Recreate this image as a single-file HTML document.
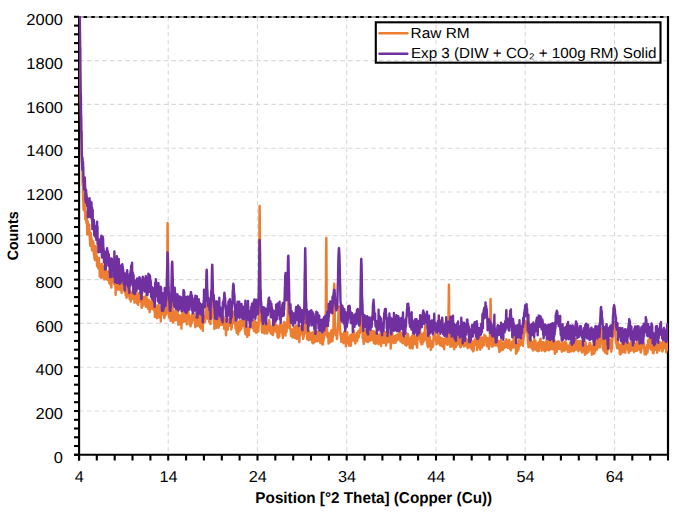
<!DOCTYPE html><html><head><meta charset="utf-8"><style>html,body{margin:0;padding:0;background:#fff;}body{width:685px;height:515px;overflow:hidden;}svg{display:block;}</style></head><body><svg width="685" height="515" viewBox="0 0 685 515">
<defs><clipPath id="pa"><rect x="79" y="16" width="589" height="438.7"/></clipPath></defs>
<g stroke="#d9d9d9" stroke-width="1.1" stroke-dasharray="4.5 3.183"><line x1="80" y1="411.0" x2="668" y2="411.0" stroke-dashoffset="0.8"/><line x1="80" y1="367.2" x2="668" y2="367.2" stroke-dashoffset="0.8"/><line x1="80" y1="323.4" x2="668" y2="323.4" stroke-dashoffset="0.8"/><line x1="80" y1="279.6" x2="668" y2="279.6" stroke-dashoffset="0.8"/><line x1="80" y1="235.8" x2="668" y2="235.8" stroke-dashoffset="0.8"/><line x1="80" y1="192.0" x2="668" y2="192.0" stroke-dashoffset="0.8"/><line x1="80" y1="148.2" x2="668" y2="148.2" stroke-dashoffset="0.8"/><line x1="80" y1="104.4" x2="668" y2="104.4" stroke-dashoffset="0.8"/><line x1="80" y1="60.6" x2="668" y2="60.6" stroke-dashoffset="0.8"/><line x1="168.2" y1="17" x2="168.2" y2="454" stroke-dashoffset="0.3"/><line x1="257.5" y1="17" x2="257.5" y2="454" stroke-dashoffset="0.3"/><line x1="346.7" y1="17" x2="346.7" y2="454" stroke-dashoffset="0.3"/><line x1="436.0" y1="17" x2="436.0" y2="454" stroke-dashoffset="0.3"/><line x1="525.2" y1="17" x2="525.2" y2="454" stroke-dashoffset="0.3"/><line x1="614.5" y1="17" x2="614.5" y2="454" stroke-dashoffset="0.3"/></g>
<line x1="79" y1="17" x2="668" y2="17" stroke="#aaaaaa" stroke-width="2"/>
<line x1="78" y1="17" x2="668" y2="17" stroke="#000" stroke-width="2.1" stroke-dasharray="3.4 4.285" stroke-dashoffset="2.04"/>
<line x1="668" y1="16" x2="668" y2="455" stroke="#000" stroke-width="2.2"/>
<g stroke="#000" stroke-width="2.1"><line x1="79.1" y1="16" x2="79.1" y2="460.5"/><line x1="74" y1="454.7" x2="669" y2="454.7"/><line x1="74" y1="454.8" x2="79" y2="454.8"/><line x1="74" y1="446.0" x2="79" y2="446.0"/><line x1="74" y1="437.3" x2="79" y2="437.3"/><line x1="74" y1="428.5" x2="79" y2="428.5"/><line x1="74" y1="419.8" x2="79" y2="419.8"/><line x1="74" y1="411.0" x2="79" y2="411.0"/><line x1="74" y1="402.2" x2="79" y2="402.2"/><line x1="74" y1="393.5" x2="79" y2="393.5"/><line x1="74" y1="384.7" x2="79" y2="384.7"/><line x1="74" y1="376.0" x2="79" y2="376.0"/><line x1="74" y1="367.2" x2="79" y2="367.2"/><line x1="74" y1="358.4" x2="79" y2="358.4"/><line x1="74" y1="349.7" x2="79" y2="349.7"/><line x1="74" y1="340.9" x2="79" y2="340.9"/><line x1="74" y1="332.2" x2="79" y2="332.2"/><line x1="74" y1="323.4" x2="79" y2="323.4"/><line x1="74" y1="314.6" x2="79" y2="314.6"/><line x1="74" y1="305.9" x2="79" y2="305.9"/><line x1="74" y1="297.1" x2="79" y2="297.1"/><line x1="74" y1="288.4" x2="79" y2="288.4"/><line x1="74" y1="279.6" x2="79" y2="279.6"/><line x1="74" y1="270.8" x2="79" y2="270.8"/><line x1="74" y1="262.1" x2="79" y2="262.1"/><line x1="74" y1="253.3" x2="79" y2="253.3"/><line x1="74" y1="244.6" x2="79" y2="244.6"/><line x1="74" y1="235.8" x2="79" y2="235.8"/><line x1="74" y1="227.0" x2="79" y2="227.0"/><line x1="74" y1="218.3" x2="79" y2="218.3"/><line x1="74" y1="209.5" x2="79" y2="209.5"/><line x1="74" y1="200.8" x2="79" y2="200.8"/><line x1="74" y1="192.0" x2="79" y2="192.0"/><line x1="74" y1="183.2" x2="79" y2="183.2"/><line x1="74" y1="174.5" x2="79" y2="174.5"/><line x1="74" y1="165.7" x2="79" y2="165.7"/><line x1="74" y1="157.0" x2="79" y2="157.0"/><line x1="74" y1="148.2" x2="79" y2="148.2"/><line x1="74" y1="139.4" x2="79" y2="139.4"/><line x1="74" y1="130.7" x2="79" y2="130.7"/><line x1="74" y1="121.9" x2="79" y2="121.9"/><line x1="74" y1="113.2" x2="79" y2="113.2"/><line x1="74" y1="104.4" x2="79" y2="104.4"/><line x1="74" y1="95.6" x2="79" y2="95.6"/><line x1="74" y1="86.9" x2="79" y2="86.9"/><line x1="74" y1="78.1" x2="79" y2="78.1"/><line x1="74" y1="69.4" x2="79" y2="69.4"/><line x1="74" y1="60.6" x2="79" y2="60.6"/><line x1="74" y1="51.8" x2="79" y2="51.8"/><line x1="74" y1="43.1" x2="79" y2="43.1"/><line x1="74" y1="34.3" x2="79" y2="34.3"/><line x1="74" y1="25.6" x2="79" y2="25.6"/><line x1="74" y1="16.8" x2="79" y2="16.8"/><line x1="79.0" y1="454" x2="79.0" y2="460.5"/><line x1="96.8" y1="454" x2="96.8" y2="460.5"/><line x1="114.7" y1="454" x2="114.7" y2="460.5"/><line x1="132.5" y1="454" x2="132.5" y2="460.5"/><line x1="150.4" y1="454" x2="150.4" y2="460.5"/><line x1="168.2" y1="454" x2="168.2" y2="460.5"/><line x1="186.1" y1="454" x2="186.1" y2="460.5"/><line x1="203.9" y1="454" x2="203.9" y2="460.5"/><line x1="221.8" y1="454" x2="221.8" y2="460.5"/><line x1="239.6" y1="454" x2="239.6" y2="460.5"/><line x1="257.5" y1="454" x2="257.5" y2="460.5"/><line x1="275.3" y1="454" x2="275.3" y2="460.5"/><line x1="293.2" y1="454" x2="293.2" y2="460.5"/><line x1="311.0" y1="454" x2="311.0" y2="460.5"/><line x1="328.9" y1="454" x2="328.9" y2="460.5"/><line x1="346.7" y1="454" x2="346.7" y2="460.5"/><line x1="364.6" y1="454" x2="364.6" y2="460.5"/><line x1="382.4" y1="454" x2="382.4" y2="460.5"/><line x1="400.3" y1="454" x2="400.3" y2="460.5"/><line x1="418.1" y1="454" x2="418.1" y2="460.5"/><line x1="436.0" y1="454" x2="436.0" y2="460.5"/><line x1="453.8" y1="454" x2="453.8" y2="460.5"/><line x1="471.7" y1="454" x2="471.7" y2="460.5"/><line x1="489.5" y1="454" x2="489.5" y2="460.5"/><line x1="507.4" y1="454" x2="507.4" y2="460.5"/><line x1="525.2" y1="454" x2="525.2" y2="460.5"/><line x1="543.1" y1="454" x2="543.1" y2="460.5"/><line x1="560.9" y1="454" x2="560.9" y2="460.5"/><line x1="578.8" y1="454" x2="578.8" y2="460.5"/><line x1="596.6" y1="454" x2="596.6" y2="460.5"/><line x1="614.5" y1="454" x2="614.5" y2="460.5"/><line x1="632.3" y1="454" x2="632.3" y2="460.5"/><line x1="650.2" y1="454" x2="650.2" y2="460.5"/><line x1="668.0" y1="454" x2="668.0" y2="460.5"/></g>
<g clip-path="url(#pa)" fill="none" stroke-width="2.40" stroke-linejoin="round">
<path stroke="#ED7D31" d="M79.0,10.0L79.1,10.0L79.2,10.0L79.4,10.0L79.5,10.0L79.6,10.0L79.7,10.0L79.8,10.0L79.9,29.9L80.1,42.9L80.2,58.6L80.3,75.4L80.4,84.8L80.5,84.9L80.6,101.3L80.8,106.8L80.9,115.7L81.0,122.0L81.1,128.5L81.2,134.0L81.3,141.5L81.5,146.4L81.6,151.7L81.7,152.7L81.8,161.8L81.9,159.9L82.0,158.9L82.2,170.5L82.3,169.9L82.4,161.9L82.5,179.5L82.6,185.5L82.7,185.0L82.9,180.8L83.0,183.8L83.1,199.2L83.2,195.6L83.3,200.2L83.4,204.4L83.6,210.0L83.7,199.3L83.8,205.8L83.9,200.9L84.0,201.0L84.1,193.9L84.3,196.1L84.4,204.5L84.5,202.0L84.6,198.6L84.7,208.8L84.8,207.6L85.0,207.7L85.1,216.3L85.2,216.6L85.3,219.4L85.4,212.9L85.5,216.1L85.7,211.1L85.8,214.2L85.9,213.3L86.0,216.5L86.1,214.8L86.2,218.9L86.4,223.0L86.5,216.2L86.6,217.3L86.7,212.9L86.8,221.2L86.9,222.7L87.1,225.8L87.2,234.4L87.3,226.2L87.4,220.6L87.5,225.8L87.7,232.1L87.8,221.9L87.9,226.7L88.0,226.8L88.1,228.0L88.2,227.9L88.4,226.6L88.5,234.4L88.6,229.6L88.7,230.8L88.8,225.5L88.9,233.1L89.1,224.4L89.2,228.0L89.3,224.9L89.4,233.1L89.5,229.1L89.6,232.1L89.8,240.2L89.9,238.2L90.0,240.8L90.1,243.9L90.2,243.8L90.3,245.8L90.5,241.7L90.6,238.0L90.7,240.5L90.8,242.2L90.9,233.2L91.0,237.8L91.2,236.8L91.3,238.5L91.4,240.6L91.5,238.2L91.6,243.3L91.7,242.8L91.9,248.8L92.0,250.5L92.1,247.3L92.2,240.5L92.3,246.6L92.4,241.2L92.6,246.1L92.7,246.0L92.8,249.2L92.9,247.2L93.0,241.1L93.1,242.9L93.3,248.7L93.4,248.4L93.5,243.1L93.6,250.1L93.7,246.9L93.8,254.4L94.0,251.2L94.1,250.0L94.2,253.7L94.3,256.8L94.4,257.9L94.5,258.9L94.7,258.6L94.8,254.3L94.9,253.7L95.0,255.4L95.1,260.1L95.3,257.3L95.4,254.5L95.5,255.1L95.6,259.4L95.7,252.7L95.8,246.3L96.0,258.3L96.1,254.5L96.2,250.2L96.3,257.4L96.4,258.2L96.5,257.1L96.7,256.4L96.8,259.9L96.9,256.1L97.0,265.9L97.1,258.8L97.2,260.7L97.4,263.5L97.5,262.7L97.6,264.4L97.7,260.7L97.8,266.3L97.9,264.6L98.1,268.3L98.2,266.7L98.3,263.0L98.4,266.1L98.5,262.9L98.6,263.6L98.8,260.8L98.9,259.3L99.0,257.9L99.1,268.7L99.2,265.7L99.3,264.9L99.5,265.5L99.6,267.0L99.7,276.4L99.8,273.4L99.9,269.3L100.0,267.1L100.2,268.3L100.3,267.7L100.4,267.6L100.5,270.7L100.6,267.9L100.7,266.1L100.9,269.8L101.0,265.4L101.1,278.0L101.2,270.4L101.3,264.1L101.4,266.3L101.6,264.1L101.7,267.6L101.8,271.5L101.9,269.6L102.0,264.0L102.1,275.1L102.3,273.2L102.4,276.0L102.5,272.5L102.6,272.0L102.7,268.7L102.8,273.1L103.0,265.6L103.1,269.4L103.2,273.4L103.3,275.6L103.4,277.6L103.6,272.9L103.7,267.3L103.8,273.8L103.9,276.1L104.0,273.0L104.1,274.3L104.3,275.8L104.4,279.5L104.5,274.7L104.6,270.6L104.7,271.6L104.8,271.9L105.0,273.3L105.1,271.2L105.2,268.3L105.3,270.5L105.4,268.9L105.5,271.1L105.7,267.2L105.8,274.5L105.9,271.0L106.0,271.8L106.1,273.0L106.2,274.2L106.4,278.3L106.5,278.7L106.6,278.0L106.7,277.4L106.8,279.1L106.9,276.6L107.1,277.1L107.2,278.5L107.3,275.4L107.4,279.8L107.5,278.0L107.6,275.2L107.8,275.1L107.9,280.1L108.0,276.8L108.1,278.6L108.2,271.5L108.3,273.2L108.5,274.4L108.6,278.1L108.7,278.2L108.8,275.8L108.9,277.5L109.0,278.1L109.2,275.3L109.3,281.1L109.4,283.4L109.5,280.6L109.6,281.2L109.7,278.1L109.9,280.7L110.0,278.8L110.1,284.3L110.2,273.8L110.3,277.1L110.4,281.1L110.6,278.2L110.7,276.5L110.8,279.0L110.9,283.0L111.0,281.9L111.1,281.5L111.3,287.6L111.4,287.6L111.5,284.3L111.6,278.7L111.7,276.6L111.9,280.2L112.0,275.7L112.1,276.9L112.2,279.8L112.3,281.5L112.4,280.9L112.6,278.5L112.7,274.3L112.8,275.9L112.9,282.1L113.0,281.6L113.1,275.2L113.3,276.8L113.4,280.1L113.5,275.4L113.6,273.8L113.7,276.2L113.8,279.0L114.0,276.1L114.1,281.8L114.2,282.8L114.3,284.1L114.4,276.1L114.5,275.9L114.7,283.0L114.8,281.9L114.9,283.1L115.0,282.4L115.1,282.3L115.2,284.2L115.4,286.8L115.5,288.2L115.6,289.8L115.7,294.7L115.8,287.4L115.9,289.7L116.1,287.1L116.2,287.4L116.3,289.9L116.4,288.3L116.5,285.6L116.6,286.6L116.8,289.9L116.9,289.6L117.0,285.5L117.1,286.2L117.2,285.6L117.3,286.6L117.5,283.7L117.6,285.5L117.7,278.3L117.8,287.1L117.9,287.6L118.0,280.3L118.2,284.7L118.3,286.1L118.4,281.7L118.5,289.3L118.6,281.0L118.7,282.7L118.9,282.8L119.0,287.0L119.1,281.8L119.2,285.4L119.3,286.8L119.5,285.6L119.6,288.8L119.7,286.3L119.8,289.8L119.9,288.3L120.0,283.9L120.2,284.5L120.3,282.9L120.4,287.5L120.5,286.5L120.6,288.8L120.7,286.5L120.9,285.4L121.0,284.8L121.1,286.5L121.2,290.6L121.3,287.6L121.4,291.0L121.6,293.0L121.7,286.2L121.8,285.5L121.9,282.6L122.0,281.6L122.1,287.0L122.3,286.0L122.4,283.7L122.5,283.9L122.6,283.4L122.7,288.7L122.8,285.7L123.0,282.9L123.1,279.1L123.2,288.1L123.3,279.8L123.4,285.5L123.5,289.1L123.7,281.4L123.8,288.7L123.9,289.4L124.0,284.3L124.1,283.7L124.2,286.5L124.4,288.6L124.5,290.3L124.6,285.1L124.7,291.7L124.8,288.9L124.9,281.8L125.1,283.5L125.2,282.6L125.3,285.8L125.4,291.2L125.5,287.4L125.6,295.0L125.8,288.7L125.9,287.9L126.0,295.6L126.1,290.3L126.2,293.3L126.3,293.5L126.5,298.0L126.6,292.0L126.7,288.3L126.8,295.1L126.9,291.2L127.0,291.5L127.2,293.7L127.3,285.6L127.4,288.3L127.5,288.3L127.6,286.1L127.8,291.9L127.9,281.5L128.0,293.2L128.1,296.0L128.2,291.4L128.3,292.2L128.5,295.7L128.6,294.9L128.7,289.3L128.8,290.5L128.9,290.1L129.0,289.1L129.2,294.0L129.3,289.6L129.4,294.3L129.5,293.4L129.6,299.1L129.7,295.0L129.9,296.7L130.0,290.6L130.1,298.0L130.2,293.0L130.3,295.2L130.4,292.1L130.6,295.3L130.7,294.2L130.8,301.5L130.9,298.7L131.0,292.3L131.1,294.5L131.3,294.0L131.4,297.4L131.5,294.8L131.6,298.2L131.7,297.3L131.8,293.5L132.0,293.8L132.1,298.1L132.2,296.8L132.3,296.3L132.4,297.3L132.5,296.9L132.7,298.8L132.8,293.7L132.9,297.5L133.0,296.5L133.1,289.4L133.2,287.0L133.4,286.1L133.5,289.5L133.6,291.4L133.7,287.5L133.8,285.6L133.9,290.5L134.1,293.4L134.2,298.6L134.3,300.4L134.4,292.4L134.5,302.7L134.6,301.2L134.8,300.4L134.9,298.6L135.0,302.2L135.1,296.2L135.2,295.4L135.3,296.3L135.5,297.9L135.6,296.8L135.7,300.8L135.8,293.3L135.9,296.4L136.1,298.9L136.2,295.6L136.3,294.8L136.4,296.1L136.5,296.3L136.6,295.5L136.8,300.8L136.9,299.0L137.0,298.7L137.1,303.4L137.2,296.1L137.3,300.1L137.5,298.4L137.6,298.0L137.7,300.7L137.8,295.5L137.9,294.5L138.0,296.3L138.2,304.9L138.3,293.1L138.4,297.7L138.5,299.4L138.6,299.4L138.7,300.8L138.9,298.9L139.0,296.4L139.1,301.6L139.2,298.3L139.3,300.9L139.4,300.2L139.6,300.4L139.7,298.2L139.8,295.8L139.9,298.2L140.0,295.3L140.1,293.3L140.3,301.5L140.4,295.5L140.5,299.0L140.6,299.2L140.7,296.5L140.8,300.4L141.0,302.1L141.1,297.5L141.2,298.9L141.3,301.5L141.4,295.3L141.5,306.2L141.7,307.9L141.8,303.8L141.9,306.3L142.0,302.0L142.1,304.6L142.2,304.4L142.4,302.3L142.5,303.9L142.6,306.2L142.7,302.4L142.8,298.4L142.9,300.0L143.1,298.7L143.2,297.2L143.3,300.0L143.4,302.8L143.5,304.6L143.6,300.8L143.8,297.2L143.9,297.3L144.0,298.3L144.1,302.9L144.2,298.8L144.4,298.2L144.5,296.6L144.6,303.5L144.7,302.0L144.8,300.1L144.9,300.6L145.1,303.2L145.2,300.7L145.3,303.2L145.4,299.4L145.5,303.6L145.6,301.2L145.8,306.9L145.9,299.6L146.0,301.2L146.1,296.6L146.2,298.4L146.3,294.2L146.5,299.1L146.6,302.1L146.7,298.2L146.8,298.4L146.9,303.2L147.0,305.8L147.2,301.3L147.3,301.5L147.4,303.3L147.5,305.9L147.6,306.7L147.7,302.3L147.9,304.5L148.0,308.7L148.1,308.6L148.2,303.2L148.3,302.3L148.4,305.5L148.6,305.3L148.7,300.2L148.8,303.3L148.9,299.9L149.0,305.2L149.1,305.2L149.3,308.0L149.4,304.6L149.5,307.1L149.6,312.2L149.7,308.5L149.8,311.3L150.0,310.9L150.1,306.2L150.2,306.6L150.3,306.7L150.4,307.6L150.5,308.8L150.7,306.7L150.8,305.9L150.9,301.9L151.0,308.7L151.1,308.3L151.2,307.2L151.4,306.0L151.5,303.5L151.6,302.0L151.7,305.0L151.8,298.2L152.0,300.9L152.1,304.6L152.2,305.3L152.3,304.5L152.4,305.1L152.5,303.2L152.7,308.4L152.8,308.0L152.9,308.7L153.0,305.3L153.1,309.4L153.2,303.4L153.4,306.5L153.5,304.4L153.6,302.0L153.7,301.9L153.8,294.8L153.9,305.0L154.1,308.9L154.2,308.0L154.3,303.8L154.4,310.9L154.5,307.0L154.6,311.9L154.8,310.3L154.9,316.9L155.0,309.9L155.1,309.4L155.2,314.8L155.3,308.4L155.5,304.6L155.6,311.7L155.7,314.3L155.8,313.4L155.9,312.6L156.0,309.1L156.2,306.9L156.3,313.0L156.4,312.6L156.5,315.9L156.6,313.7L156.7,311.2L156.9,318.2L157.0,311.1L157.1,310.8L157.2,310.2L157.3,315.2L157.4,317.9L157.6,314.4L157.7,316.3L157.8,317.8L157.9,314.6L158.0,315.6L158.1,305.8L158.3,308.2L158.4,307.0L158.5,311.7L158.6,304.6L158.7,309.0L158.8,305.8L159.0,311.1L159.1,307.3L159.2,314.3L159.3,311.3L159.4,312.5L159.5,316.6L159.7,313.9L159.8,316.5L159.9,316.8L160.0,314.6L160.1,313.7L160.3,318.3L160.4,314.9L160.5,315.9L160.6,316.6L160.7,314.0L160.8,321.5L161.0,313.0L161.1,314.4L161.2,315.3L161.3,313.7L161.4,309.5L161.5,308.2L161.7,308.8L161.8,313.4L161.9,314.2L162.0,310.5L162.1,309.4L162.2,313.3L162.4,309.3L162.5,309.8L162.6,309.7L162.7,312.4L162.8,306.5L162.9,306.9L163.1,305.7L163.2,308.5L163.3,313.2L163.4,309.4L163.5,308.7L163.6,312.0L163.8,315.2L163.9,311.2L164.0,311.5L164.1,317.0L164.2,316.0L164.3,318.2L164.5,313.5L164.6,313.7L164.7,309.1L164.8,315.7L164.9,309.3L165.0,313.1L165.2,311.7L165.3,315.7L165.4,312.4L165.5,314.0L165.6,313.0L165.7,312.2L165.9,311.3L166.0,310.2L166.1,312.3L166.2,314.3L166.3,308.9L166.4,310.8L166.6,311.7L166.7,305.2L166.8,304.9L166.9,298.7L167.0,294.3L167.1,279.2L167.3,260.1L167.4,243.6L167.5,229.0L167.6,223.0L167.6,223.0L167.7,228.7L167.8,243.5L168.0,261.8L168.1,281.4L168.2,294.6L168.3,303.9L168.4,307.7L168.6,310.9L168.7,313.5L168.8,315.7L168.9,315.7L169.0,313.1L169.1,317.4L169.3,314.7L169.4,315.2L169.5,315.3L169.6,310.2L169.7,314.9L169.8,312.2L170.0,310.4L170.1,313.5L170.2,315.2L170.3,318.9L170.4,311.8L170.5,318.9L170.7,321.1L170.8,312.8L170.9,318.2L171.0,316.6L171.1,314.5L171.2,314.5L171.4,315.2L171.5,309.9L171.6,308.2L171.7,306.4L171.8,305.6L171.9,304.4L172.1,303.4L172.2,302.4L172.2,302.1L172.3,303.4L172.4,304.0L172.5,307.1L172.6,307.4L172.8,311.8L172.9,312.9L173.0,315.5L173.1,322.4L173.2,317.2L173.3,319.5L173.5,321.5L173.6,321.3L173.7,319.4L173.8,319.0L173.9,316.7L174.0,316.7L174.2,314.5L174.3,314.5L174.4,317.8L174.5,317.0L174.6,311.4L174.7,311.3L174.9,312.3L175.0,316.1L175.1,315.3L175.2,316.4L175.3,313.5L175.4,318.1L175.6,320.2L175.7,319.2L175.8,316.5L175.9,313.3L176.0,318.7L176.2,314.3L176.3,318.0L176.4,317.6L176.5,318.4L176.6,313.9L176.7,317.1L176.9,313.1L177.0,316.3L177.1,310.2L177.2,313.6L177.3,313.7L177.4,317.0L177.6,311.0L177.7,314.6L177.8,316.6L177.9,318.3L178.0,321.1L178.1,322.5L178.3,321.3L178.4,324.9L178.5,323.4L178.6,317.0L178.7,322.7L178.8,322.4L179.0,318.4L179.1,322.4L179.2,315.2L179.3,318.0L179.4,320.5L179.5,317.5L179.7,318.9L179.8,315.5L179.9,319.0L180.0,316.5L180.1,324.0L180.2,320.6L180.4,318.3L180.5,318.7L180.6,320.0L180.7,318.4L180.8,318.6L180.9,320.9L181.1,320.7L181.2,319.2L181.3,321.4L181.4,328.6L181.5,325.9L181.6,323.2L181.8,319.0L181.9,319.6L182.0,316.8L182.1,314.5L182.2,314.4L182.3,317.1L182.5,311.6L182.6,316.8L182.7,316.5L182.8,314.4L182.9,319.6L183.0,309.8L183.2,308.6L183.3,315.8L183.4,316.9L183.5,321.9L183.6,315.6L183.7,319.3L183.9,321.0L184.0,321.8L184.1,318.6L184.2,318.7L184.3,318.1L184.5,318.9L184.6,321.2L184.7,312.4L184.8,313.6L184.9,317.3L185.0,319.7L185.2,319.5L185.3,315.9L185.4,316.9L185.5,317.7L185.6,315.2L185.7,319.2L185.9,313.5L186.0,316.4L186.1,318.8L186.2,315.8L186.3,316.9L186.4,320.4L186.6,314.6L186.7,324.2L186.8,319.5L186.9,318.9L187.0,321.2L187.1,318.2L187.3,313.8L187.4,319.1L187.5,318.2L187.6,315.6L187.7,313.1L187.8,311.4L188.0,312.8L188.1,317.2L188.2,311.4L188.3,312.5L188.4,311.7L188.5,318.8L188.7,319.0L188.8,316.4L188.9,316.0L189.0,315.2L189.1,318.7L189.2,319.5L189.4,316.7L189.5,324.6L189.6,323.1L189.7,320.8L189.8,319.5L189.9,321.1L190.1,318.0L190.2,321.8L190.3,321.1L190.4,321.1L190.5,323.2L190.6,326.4L190.8,323.0L190.9,321.7L191.0,322.3L191.1,317.2L191.2,319.5L191.3,321.3L191.5,316.9L191.6,319.3L191.7,315.1L191.8,323.3L191.9,320.9L192.0,316.6L192.2,316.3L192.3,317.2L192.4,314.0L192.5,319.1L192.6,320.1L192.8,316.7L192.9,319.5L193.0,317.4L193.1,314.8L193.2,318.3L193.3,318.1L193.5,319.5L193.6,317.2L193.7,316.9L193.8,316.1L193.9,317.3L194.0,314.0L194.2,318.8L194.3,319.0L194.4,320.2L194.5,316.4L194.6,319.8L194.7,321.0L194.9,323.8L195.0,320.8L195.1,318.3L195.2,327.2L195.3,323.2L195.4,322.5L195.6,321.9L195.7,319.4L195.8,320.4L195.9,319.2L196.0,319.3L196.1,317.3L196.3,322.3L196.4,321.6L196.5,323.7L196.6,323.0L196.7,324.3L196.8,326.0L197.0,321.4L197.1,318.7L197.2,322.8L197.3,319.2L197.4,318.0L197.5,322.4L197.7,311.3L197.8,312.3L197.9,313.4L198.0,314.6L198.1,320.4L198.2,325.4L198.4,319.9L198.5,320.0L198.6,321.1L198.7,321.7L198.8,318.2L198.9,319.0L199.1,321.2L199.2,322.5L199.3,315.0L199.4,318.3L199.5,319.7L199.6,323.1L199.8,323.7L199.9,327.0L200.0,321.0L200.1,320.1L200.2,322.1L200.4,322.4L200.5,322.5L200.6,321.6L200.7,328.6L200.8,327.0L200.9,320.9L201.1,321.4L201.2,319.5L201.3,322.0L201.4,314.1L201.5,316.5L201.6,316.4L201.8,317.4L201.9,314.3L202.0,314.3L202.1,315.5L202.2,311.9L202.3,314.3L202.5,319.0L202.6,322.2L202.7,323.3L202.8,322.3L202.9,330.7L203.0,322.5L203.2,323.0L203.3,315.8L203.4,318.9L203.5,319.3L203.6,317.9L203.7,319.2L203.9,319.1L204.0,317.5L204.1,322.5L204.2,317.5L204.3,322.0L204.4,319.8L204.6,320.4L204.7,317.4L204.8,315.8L204.9,316.7L205.0,321.7L205.1,320.7L205.3,319.4L205.4,318.3L205.5,315.2L205.6,315.6L205.7,316.6L205.8,312.4L206.0,313.8L206.1,311.5L206.2,312.7L206.3,310.0L206.4,308.3L206.5,306.7L206.7,306.6L206.7,304.7L206.8,306.7L206.9,306.4L207.0,306.8L207.1,309.0L207.2,311.7L207.4,314.2L207.5,313.5L207.6,317.6L207.7,318.3L207.8,318.7L207.9,314.6L208.1,318.7L208.2,313.9L208.3,312.8L208.4,313.7L208.5,315.7L208.7,314.6L208.8,319.0L208.9,315.8L209.0,312.4L209.1,313.4L209.2,321.7L209.4,318.3L209.5,319.7L209.6,317.3L209.7,319.8L209.8,321.5L209.9,323.5L210.1,321.8L210.2,322.6L210.3,321.8L210.4,321.9L210.5,324.1L210.6,319.3L210.8,318.6L210.9,318.6L211.0,318.1L211.1,315.4L211.2,315.2L211.3,313.2L211.5,313.8L211.6,311.3L211.7,309.5L211.8,307.2L211.9,303.3L212.0,298.5L212.2,296.7L212.2,296.0L212.3,297.8L212.4,297.8L212.5,300.3L212.6,304.1L212.7,307.4L212.9,312.8L213.0,312.4L213.1,311.4L213.2,317.6L213.3,314.8L213.4,318.8L213.6,317.7L213.7,315.8L213.8,320.6L213.9,321.1L214.0,321.5L214.1,323.8L214.3,320.7L214.4,328.9L214.5,324.2L214.6,327.7L214.7,326.1L214.8,321.6L215.0,324.0L215.1,321.2L215.2,316.1L215.3,317.7L215.4,309.2L215.5,319.3L215.7,319.3L215.8,326.3L215.9,320.6L216.0,322.3L216.1,320.4L216.2,322.0L216.4,324.2L216.5,327.9L216.6,320.9L216.7,324.5L216.8,326.6L217.0,320.4L217.1,325.9L217.2,321.6L217.3,324.9L217.4,320.0L217.5,323.5L217.7,311.9L217.8,317.1L217.9,319.8L218.0,321.4L218.1,321.8L218.2,322.1L218.4,324.0L218.5,327.4L218.6,323.7L218.7,327.6L218.8,324.0L218.9,321.7L219.1,325.5L219.2,321.6L219.3,324.1L219.4,316.5L219.5,323.2L219.6,320.4L219.8,319.5L219.9,320.2L220.0,319.4L220.1,320.7L220.2,319.6L220.3,319.7L220.5,318.4L220.6,317.8L220.7,321.7L220.8,318.6L220.9,322.6L221.0,325.1L221.2,323.7L221.3,324.0L221.4,322.5L221.5,321.5L221.6,320.9L221.7,318.4L221.9,319.5L222.0,322.7L222.1,320.5L222.2,322.7L222.3,321.3L222.4,320.8L222.6,324.7L222.7,322.4L222.8,320.4L222.9,322.2L223.0,324.9L223.1,321.4L223.3,322.7L223.4,317.4L223.5,319.4L223.6,319.6L223.7,316.7L223.8,320.4L224.0,323.0L224.1,328.8L224.2,325.8L224.3,326.1L224.4,324.4L224.5,326.5L224.7,321.2L224.8,319.2L224.9,323.2L225.0,326.1L225.1,322.3L225.3,323.5L225.4,320.8L225.5,324.3L225.6,327.2L225.7,330.2L225.8,328.1L226.0,335.2L226.1,332.5L226.2,327.4L226.3,328.4L226.4,326.3L226.5,324.8L226.7,326.0L226.8,322.3L226.9,319.8L227.0,320.0L227.1,324.9L227.2,323.1L227.4,321.8L227.5,324.1L227.6,321.2L227.7,325.3L227.8,329.8L227.9,325.9L228.1,325.6L228.2,324.2L228.3,324.3L228.4,321.0L228.5,322.4L228.6,322.7L228.8,324.0L228.9,323.3L229.0,319.7L229.1,318.8L229.2,323.5L229.3,324.4L229.5,325.7L229.6,324.4L229.7,324.5L229.8,325.4L229.9,321.3L230.0,325.9L230.2,322.2L230.3,321.6L230.4,319.9L230.5,321.6L230.6,323.4L230.7,321.2L230.9,323.8L231.0,322.7L231.1,324.5L231.2,317.3L231.3,329.5L231.4,327.6L231.6,321.9L231.7,325.3L231.8,327.7L231.9,322.9L232.0,319.5L232.1,323.2L232.3,320.9L232.4,323.6L232.5,321.1L232.6,318.7L232.7,317.4L232.9,316.9L233.0,315.5L233.1,314.4L233.2,313.7L233.3,313.1L233.4,311.8L233.4,312.4L233.6,314.0L233.7,313.2L233.8,312.8L233.9,314.9L234.0,316.3L234.1,317.8L234.3,318.3L234.4,320.6L234.5,319.5L234.6,321.6L234.7,321.4L234.8,323.8L235.0,323.7L235.1,322.9L235.2,324.5L235.3,320.3L235.4,324.2L235.5,328.1L235.7,325.5L235.8,325.2L235.9,327.2L236.0,326.0L236.1,326.8L236.2,325.2L236.4,328.9L236.5,330.8L236.6,328.9L236.7,331.9L236.8,332.9L236.9,328.1L237.1,326.3L237.2,326.8L237.3,322.4L237.4,328.9L237.5,329.9L237.6,322.4L237.8,331.8L237.9,326.1L238.0,328.3L238.1,334.4L238.2,325.3L238.3,328.6L238.5,326.9L238.6,327.4L238.7,327.1L238.8,325.5L238.9,321.8L239.0,326.1L239.2,326.6L239.3,323.1L239.4,323.8L239.5,331.3L239.6,323.7L239.7,326.0L239.9,325.8L240.0,329.0L240.1,320.6L240.2,324.4L240.3,327.1L240.4,327.5L240.6,327.5L240.7,327.9L240.8,326.0L240.9,327.1L241.0,329.2L241.2,328.1L241.3,325.4L241.4,328.8L241.5,326.9L241.6,322.8L241.7,324.8L241.9,320.5L242.0,326.4L242.1,324.1L242.2,324.4L242.3,324.2L242.4,319.9L242.6,319.1L242.7,321.6L242.8,322.0L242.9,316.9L243.0,316.9L243.1,325.8L243.3,320.3L243.4,324.9L243.5,323.6L243.6,321.6L243.7,323.4L243.8,319.7L244.0,323.2L244.1,323.7L244.2,324.4L244.3,321.1L244.4,326.3L244.5,326.3L244.7,328.6L244.8,327.8L244.9,331.2L245.0,331.5L245.1,327.8L245.2,330.2L245.4,334.4L245.5,333.4L245.6,331.2L245.7,328.9L245.8,332.1L245.9,326.2L246.1,328.8L246.2,330.5L246.3,332.9L246.4,328.2L246.5,328.7L246.6,333.7L246.8,327.8L246.9,328.4L247.0,328.0L247.1,331.9L247.2,329.5L247.3,337.0L247.5,330.7L247.6,332.6L247.7,331.5L247.8,329.7L247.9,332.2L248.0,330.4L248.2,332.1L248.3,331.6L248.4,332.7L248.5,329.4L248.6,327.5L248.7,333.5L248.9,335.1L249.0,331.2L249.1,328.7L249.2,327.8L249.3,329.9L249.5,325.3L249.6,326.0L249.7,323.6L249.8,322.0L249.9,322.4L250.0,320.1L250.2,322.9L250.3,318.5L250.4,322.9L250.5,327.0L250.6,322.7L250.7,323.8L250.9,325.7L251.0,326.5L251.1,325.3L251.2,323.3L251.3,324.9L251.4,321.6L251.6,324.4L251.7,321.2L251.8,324.8L251.9,321.4L252.0,320.9L252.1,323.9L252.3,321.9L252.4,328.0L252.5,324.3L252.6,325.6L252.7,324.3L252.8,326.9L253.0,325.0L253.1,323.4L253.2,328.2L253.3,326.5L253.4,324.6L253.5,326.6L253.7,326.3L253.8,329.6L253.9,328.0L254.0,331.1L254.1,325.6L254.2,325.8L254.4,324.8L254.5,329.8L254.6,322.1L254.7,320.6L254.8,321.0L254.9,323.4L255.1,321.3L255.2,324.6L255.3,326.4L255.4,325.2L255.5,327.3L255.6,321.6L255.8,332.6L255.9,326.3L256.0,329.3L256.1,328.8L256.2,325.9L256.3,328.2L256.5,325.9L256.6,329.7L256.7,330.5L256.8,330.5L256.9,327.9L257.1,332.5L257.2,330.9L257.3,330.5L257.4,329.2L257.5,330.1L257.6,327.1L257.8,325.0L257.9,322.8L258.0,325.5L258.1,328.6L258.2,323.8L258.3,331.4L258.5,325.1L258.6,327.5L258.7,322.2L258.8,320.0L258.9,312.3L259.0,298.0L259.2,277.5L259.3,257.2L259.4,233.4L259.5,214.3L259.6,206.0L259.6,206.0L259.7,213.2L259.9,232.2L260.0,254.8L260.1,277.3L260.2,296.5L260.3,307.8L260.4,316.8L260.6,317.7L260.7,320.0L260.8,320.6L260.9,319.5L261.0,319.6L261.1,317.2L261.3,322.7L261.4,319.4L261.5,322.4L261.6,320.8L261.7,325.7L261.8,329.9L262.0,328.4L262.1,330.2L262.2,332.6L262.3,331.8L262.4,328.6L262.5,332.4L262.7,329.5L262.8,327.0L262.9,326.9L263.0,327.3L263.1,325.3L263.2,327.9L263.4,329.4L263.5,329.3L263.6,322.8L263.7,321.5L263.8,325.6L263.9,325.3L264.1,331.9L264.2,325.4L264.3,328.4L264.4,333.5L264.5,328.3L264.6,328.2L264.8,327.6L264.9,329.6L265.0,328.1L265.1,330.2L265.2,323.9L265.4,327.5L265.5,323.1L265.6,324.7L265.7,326.8L265.8,323.6L265.9,329.5L266.1,328.2L266.2,330.0L266.3,331.8L266.4,331.8L266.5,330.8L266.6,333.5L266.8,333.5L266.9,332.2L267.0,332.3L267.1,332.6L267.2,328.9L267.3,333.3L267.5,328.9L267.6,329.7L267.7,328.0L267.8,327.0L267.9,327.1L268.0,327.3L268.2,323.7L268.3,328.1L268.4,329.8L268.5,327.5L268.6,325.1L268.7,322.0L268.9,320.6L269.0,324.0L269.1,321.4L269.2,320.0L269.3,325.5L269.4,321.3L269.6,324.8L269.7,326.9L269.8,325.7L269.9,325.4L270.0,331.5L270.1,325.9L270.3,325.2L270.4,327.3L270.5,325.4L270.6,327.3L270.7,329.0L270.8,328.1L271.0,333.5L271.1,328.3L271.2,328.8L271.3,329.8L271.4,329.4L271.5,331.7L271.7,331.7L271.8,334.2L271.9,333.8L272.0,331.4L272.1,327.6L272.2,330.4L272.4,327.6L272.5,329.4L272.6,333.9L272.7,332.9L272.8,334.1L272.9,335.0L273.1,331.1L273.2,330.2L273.3,334.0L273.4,328.7L273.5,328.1L273.7,330.2L273.8,326.6L273.9,328.6L274.0,325.4L274.1,323.8L274.2,329.6L274.4,321.6L274.5,329.5L274.6,325.1L274.7,326.6L274.8,323.3L274.9,327.8L275.1,327.2L275.2,318.7L275.3,322.4L275.4,324.6L275.5,328.6L275.6,326.3L275.8,331.5L275.9,329.8L276.0,327.1L276.1,326.4L276.2,329.3L276.3,326.5L276.5,326.2L276.6,330.7L276.7,327.8L276.8,328.9L276.9,325.7L277.0,332.8L277.2,329.1L277.3,331.0L277.4,325.8L277.5,336.7L277.6,326.9L277.7,331.6L277.9,330.1L278.0,335.4L278.1,335.2L278.2,332.8L278.3,332.0L278.4,337.9L278.6,333.1L278.7,332.2L278.8,331.3L278.9,329.3L279.0,330.6L279.1,332.5L279.3,335.2L279.4,336.3L279.5,331.8L279.6,327.7L279.7,330.1L279.8,326.5L280.0,330.4L280.1,324.2L280.2,326.5L280.3,325.7L280.4,324.8L280.5,325.5L280.7,327.8L280.8,328.4L280.9,329.2L281.0,332.0L281.1,330.7L281.3,329.3L281.4,324.7L281.5,331.1L281.6,327.7L281.7,325.6L281.8,326.8L282.0,331.6L282.1,333.4L282.2,332.8L282.3,332.0L282.4,331.8L282.5,335.3L282.7,335.2L282.8,337.0L282.9,338.1L283.0,332.7L283.1,330.6L283.2,334.2L283.4,334.6L283.5,329.7L283.6,333.6L283.7,332.2L283.8,327.5L283.9,322.5L284.1,327.2L284.2,325.7L284.3,322.0L284.4,329.0L284.5,330.5L284.6,322.3L284.8,326.2L284.9,330.8L285.0,329.6L285.1,329.3L285.2,332.6L285.3,325.7L285.5,335.6L285.6,327.1L285.7,329.5L285.8,329.5L285.9,328.9L286.0,330.9L286.2,329.5L286.3,330.1L286.4,332.2L286.5,327.0L286.6,331.5L286.7,330.3L286.9,323.2L287.0,328.4L287.1,323.2L287.2,322.7L287.3,323.1L287.4,318.4L287.6,318.6L287.7,315.1L287.8,310.3L287.9,306.1L288.0,301.9L288.1,298.5L288.3,299.3L288.3,299.1L288.4,299.4L288.5,301.5L288.6,305.4L288.7,307.8L288.8,314.0L289.0,318.9L289.1,318.2L289.2,321.0L289.3,325.3L289.4,328.2L289.6,326.5L289.7,325.6L289.8,323.8L289.9,323.7L290.0,328.6L290.1,327.9L290.3,328.8L290.4,328.4L290.5,330.0L290.6,330.1L290.7,330.2L290.8,330.3L291.0,336.0L291.1,333.5L291.2,331.4L291.3,332.5L291.4,331.8L291.5,331.3L291.7,331.3L291.8,329.7L291.9,332.1L292.0,335.3L292.1,329.5L292.2,332.1L292.4,337.5L292.5,331.4L292.6,331.6L292.7,336.8L292.8,332.6L292.9,334.0L293.1,333.1L293.2,335.5L293.3,329.8L293.4,336.0L293.5,335.7L293.6,333.5L293.8,331.9L293.9,332.9L294.0,327.8L294.1,334.5L294.2,327.1L294.3,337.4L294.5,333.6L294.6,331.0L294.7,329.6L294.8,335.5L294.9,338.0L295.0,335.2L295.2,334.0L295.3,330.5L295.4,334.2L295.5,329.4L295.6,334.0L295.7,329.8L295.9,325.4L296.0,329.7L296.1,328.5L296.2,330.9L296.3,332.3L296.4,330.4L296.6,330.4L296.7,338.8L296.8,333.3L296.9,325.6L297.0,328.6L297.1,328.9L297.3,330.1L297.4,330.1L297.5,329.9L297.6,337.9L297.7,326.1L297.9,329.6L298.0,332.8L298.1,327.8L298.2,331.9L298.3,328.7L298.4,334.4L298.6,331.7L298.7,338.5L298.8,333.1L298.9,339.7L299.0,336.7L299.1,336.6L299.3,342.3L299.4,338.4L299.5,339.8L299.6,337.8L299.7,334.7L299.8,335.8L300.0,331.2L300.1,334.9L300.2,333.9L300.3,328.0L300.4,331.8L300.5,327.4L300.7,329.8L300.8,327.5L300.9,326.3L301.0,329.3L301.1,329.3L301.2,331.4L301.4,326.0L301.5,330.4L301.6,330.7L301.7,328.8L301.8,329.9L301.9,331.5L302.1,329.4L302.2,330.8L302.3,333.7L302.4,334.1L302.5,330.6L302.6,334.2L302.8,336.3L302.9,335.7L303.0,334.4L303.1,331.3L303.2,338.9L303.3,335.0L303.5,337.3L303.6,335.0L303.7,336.8L303.8,336.7L303.9,336.0L304.0,334.7L304.2,332.0L304.3,327.5L304.4,331.8L304.5,329.3L304.6,326.2L304.7,320.8L304.9,318.1L305.0,315.5L305.1,314.0L305.2,313.4L305.2,313.5L305.3,313.9L305.4,315.7L305.6,319.2L305.7,322.9L305.8,327.2L305.9,327.8L306.0,330.8L306.2,329.8L306.3,333.1L306.4,332.6L306.5,328.0L306.6,330.3L306.7,334.5L306.9,333.4L307.0,335.1L307.1,334.2L307.2,339.0L307.3,333.0L307.4,332.7L307.6,334.0L307.7,333.4L307.8,333.1L307.9,334.3L308.0,331.2L308.1,337.5L308.3,330.5L308.4,339.9L308.5,337.1L308.6,340.2L308.7,339.3L308.8,337.1L309.0,339.5L309.1,333.7L309.2,333.9L309.3,332.4L309.4,331.7L309.5,335.6L309.7,334.5L309.8,335.4L309.9,333.1L310.0,337.1L310.1,339.6L310.2,337.1L310.4,339.1L310.5,335.7L310.6,334.2L310.7,334.7L310.8,338.6L310.9,334.4L311.1,338.7L311.2,337.6L311.3,334.7L311.4,336.8L311.5,333.2L311.6,335.9L311.8,337.5L311.9,335.2L312.0,337.5L312.1,334.3L312.2,342.5L312.3,337.0L312.5,338.8L312.6,336.9L312.7,338.1L312.8,332.4L312.9,336.1L313.0,338.0L313.2,335.6L313.3,343.4L313.4,333.7L313.5,341.6L313.6,335.9L313.8,331.5L313.9,339.2L314.0,338.8L314.1,342.4L314.2,341.8L314.3,336.8L314.5,336.9L314.6,338.1L314.7,335.5L314.8,337.0L314.9,337.7L315.0,336.5L315.2,338.6L315.3,341.8L315.4,337.3L315.5,336.1L315.6,334.5L315.7,336.1L315.9,338.5L316.0,339.9L316.1,338.1L316.2,336.8L316.3,337.3L316.4,337.8L316.6,335.0L316.7,341.0L316.8,333.7L316.9,331.4L317.0,339.4L317.1,335.9L317.3,339.5L317.4,341.4L317.5,338.5L317.6,338.5L317.7,339.9L317.8,334.3L318.0,336.2L318.1,340.9L318.2,332.0L318.3,335.1L318.4,331.3L318.5,337.5L318.7,337.1L318.8,335.7L318.9,333.2L319.0,331.8L319.1,335.1L319.2,325.0L319.4,336.3L319.5,335.9L319.6,331.0L319.7,332.4L319.8,334.0L319.9,337.4L320.1,338.5L320.2,333.8L320.3,343.1L320.4,342.1L320.5,341.3L320.6,341.5L320.8,339.8L320.9,342.2L321.0,341.5L321.1,340.6L321.2,341.7L321.3,339.3L321.5,341.6L321.6,340.0L321.7,337.1L321.8,337.6L321.9,335.2L322.1,337.1L322.2,337.3L322.3,336.7L322.4,344.5L322.5,344.1L322.6,343.3L322.8,338.8L322.9,344.5L323.0,339.1L323.1,340.6L323.2,342.1L323.3,340.4L323.5,339.0L323.6,340.5L323.7,335.0L323.8,336.9L323.9,337.5L324.0,338.4L324.2,335.0L324.3,334.2L324.4,332.6L324.5,328.2L324.6,331.5L324.7,334.0L324.9,333.7L325.0,334.9L325.1,333.9L325.2,334.2L325.3,328.0L325.4,333.7L325.6,322.4L325.7,320.3L325.8,310.1L325.9,292.2L326.0,270.5L326.1,250.1L326.3,238.5L326.3,237.9L326.4,242.4L326.5,259.7L326.6,281.1L326.7,303.9L326.8,319.2L327.0,326.8L327.1,332.0L327.2,334.6L327.3,335.4L327.4,337.2L327.5,336.5L327.7,336.5L327.8,337.0L327.9,334.7L328.0,337.2L328.1,335.4L328.2,337.6L328.4,335.6L328.5,343.6L328.6,333.2L328.7,340.5L328.8,339.5L328.9,340.0L329.1,334.4L329.2,342.4L329.3,339.8L329.4,339.8L329.5,333.7L329.6,336.5L329.8,342.5L329.9,341.3L330.0,340.2L330.1,342.1L330.2,336.1L330.4,338.0L330.5,342.0L330.6,336.7L330.7,336.0L330.8,335.9L330.9,333.1L331.1,331.2L331.2,333.0L331.3,333.7L331.4,331.4L331.5,336.7L331.6,330.3L331.8,336.3L331.9,333.1L332.0,334.5L332.1,333.6L332.2,337.2L332.3,335.7L332.5,341.4L332.6,334.4L332.7,336.4L332.8,334.9L332.9,337.4L333.0,334.3L333.2,333.8L333.3,330.3L333.4,328.3L333.5,321.5L333.6,317.9L333.7,306.6L333.9,300.2L334.0,291.9L334.1,286.3L334.2,283.7L334.2,283.7L334.3,284.8L334.4,289.2L334.6,295.7L334.7,303.2L334.8,310.8L334.9,317.8L335.0,323.1L335.1,326.6L335.3,329.9L335.4,332.4L335.5,333.7L335.6,333.5L335.7,335.4L335.8,331.9L336.0,333.9L336.1,330.9L336.2,335.2L336.3,335.4L336.4,334.4L336.5,333.4L336.7,333.4L336.8,331.4L336.9,339.0L337.0,333.9L337.1,338.4L337.2,336.6L337.4,334.5L337.5,333.3L337.6,329.7L337.7,331.4L337.8,327.1L338.0,326.1L338.1,324.8L338.2,320.4L338.3,318.8L338.4,314.5L338.5,310.4L338.7,308.9L338.8,307.5L338.9,306.8L339.0,306.7L339.0,306.9L339.1,306.4L339.2,308.8L339.4,311.8L339.5,314.4L339.6,315.9L339.7,321.3L339.8,324.5L339.9,324.4L340.1,327.9L340.2,332.9L340.3,331.4L340.4,333.7L340.5,334.9L340.6,335.6L340.8,336.0L340.9,334.9L341.0,333.8L341.1,338.7L341.2,336.3L341.3,341.9L341.5,339.5L341.6,336.7L341.7,338.9L341.8,339.1L341.9,334.0L342.0,335.8L342.2,336.3L342.3,336.0L342.4,341.1L342.5,339.4L342.6,335.1L342.7,338.0L342.9,336.0L343.0,342.0L343.1,340.5L343.2,337.1L343.3,336.6L343.4,343.2L343.6,337.8L343.7,337.9L343.8,338.0L343.9,334.6L344.0,336.7L344.1,332.8L344.3,331.6L344.4,334.1L344.5,332.5L344.6,338.4L344.7,331.8L344.8,333.5L345.0,338.4L345.1,339.3L345.2,336.6L345.3,332.5L345.4,338.5L345.5,342.8L345.7,341.7L345.8,346.4L345.9,342.9L346.0,342.8L346.1,339.8L346.3,336.2L346.4,338.9L346.5,332.5L346.6,336.8L346.7,335.5L346.8,336.3L347.0,338.1L347.1,337.1L347.2,336.7L347.3,332.3L347.4,336.9L347.5,340.9L347.7,337.7L347.8,338.6L347.9,342.6L348.0,339.3L348.1,339.9L348.2,343.4L348.4,337.7L348.5,343.2L348.6,341.8L348.7,338.2L348.8,343.5L348.9,345.8L349.1,340.9L349.2,338.8L349.3,339.0L349.4,340.3L349.5,342.9L349.6,337.4L349.8,338.1L349.9,339.9L350.0,338.8L350.1,343.7L350.2,337.2L350.3,335.2L350.5,336.7L350.6,336.9L350.7,339.2L350.8,339.8L350.9,345.8L351.0,341.6L351.2,339.3L351.3,341.4L351.4,342.1L351.5,338.9L351.6,339.7L351.7,334.4L351.9,338.2L352.0,337.7L352.1,334.3L352.2,340.3L352.3,337.2L352.4,334.1L352.6,339.8L352.7,338.2L352.8,334.1L352.9,333.3L353.0,335.6L353.1,334.4L353.3,333.5L353.4,333.5L353.5,329.8L353.6,332.4L353.7,333.9L353.8,334.5L354.0,331.4L354.1,340.8L354.2,335.7L354.3,334.9L354.4,337.9L354.6,339.4L354.7,336.8L354.8,338.3L354.9,335.1L355.0,342.0L355.1,339.9L355.3,343.6L355.4,338.0L355.5,338.2L355.6,338.6L355.7,337.1L355.8,337.3L356.0,337.5L356.1,338.1L356.2,335.5L356.3,336.0L356.4,337.7L356.5,336.8L356.7,336.1L356.8,333.1L356.9,337.0L357.0,338.0L357.1,341.4L357.2,336.9L357.4,338.2L357.5,337.9L357.6,336.9L357.7,334.7L357.8,338.6L357.9,335.9L358.1,333.8L358.2,331.3L358.3,332.6L358.4,332.1L358.5,334.0L358.6,333.8L358.8,337.1L358.9,336.6L359.0,335.6L359.1,335.5L359.2,333.0L359.3,334.1L359.5,333.6L359.6,333.3L359.7,329.5L359.8,333.2L359.9,330.5L360.0,332.6L360.2,330.6L360.3,330.0L360.4,329.9L360.5,329.3L360.6,325.4L360.7,323.2L360.9,321.1L361.0,318.8L361.1,317.1L361.2,314.5L361.3,315.7L361.3,316.6L361.4,317.5L361.6,317.5L361.7,321.6L361.8,321.8L361.9,325.3L362.0,326.6L362.2,328.7L362.3,328.7L362.4,332.3L362.5,332.6L362.6,335.0L362.7,338.5L362.9,331.9L363.0,338.7L363.1,335.3L363.2,335.4L363.3,337.9L363.4,342.0L363.6,336.8L363.7,344.0L363.8,338.8L363.9,337.8L364.0,343.1L364.1,337.4L364.3,340.1L364.4,335.9L364.5,341.1L364.6,331.5L364.7,333.6L364.8,334.8L365.0,335.7L365.1,331.4L365.2,334.0L365.3,334.4L365.4,336.5L365.5,336.1L365.7,335.3L365.8,336.7L365.9,333.9L366.0,330.0L366.1,333.1L366.2,332.5L366.4,333.3L366.5,328.9L366.6,335.7L366.7,339.0L366.8,341.8L366.9,336.0L367.1,334.2L367.2,332.3L367.3,338.3L367.4,336.1L367.5,331.3L367.6,339.3L367.8,338.3L367.9,337.5L368.0,339.8L368.1,337.7L368.2,342.2L368.3,338.9L368.5,338.3L368.6,334.0L368.7,334.9L368.8,334.6L368.9,338.5L369.0,332.8L369.2,336.2L369.3,332.7L369.4,339.9L369.5,339.3L369.6,338.6L369.7,334.1L369.9,340.6L370.0,338.4L370.1,339.5L370.2,335.9L370.3,338.2L370.5,333.2L370.6,338.9L370.7,330.7L370.8,335.4L370.9,338.2L371.0,333.5L371.2,335.8L371.3,338.1L371.4,333.1L371.5,337.8L371.6,339.6L371.7,335.8L371.9,334.6L372.0,334.7L372.1,340.0L372.2,332.5L372.3,335.8L372.4,334.9L372.6,338.9L372.7,338.1L372.8,337.4L372.9,336.0L373.0,330.9L373.1,335.9L373.3,336.4L373.4,333.6L373.5,333.3L373.6,335.1L373.7,338.5L373.8,341.6L374.0,343.2L374.1,338.5L374.2,339.1L374.3,334.9L374.4,331.7L374.5,337.3L374.7,336.7L374.8,336.4L374.9,341.7L375.0,337.6L375.1,336.1L375.2,332.3L375.4,343.1L375.5,338.1L375.6,336.8L375.7,343.9L375.8,341.8L375.9,337.8L376.1,342.6L376.2,341.4L376.3,339.3L376.4,336.3L376.5,337.8L376.6,339.7L376.8,336.8L376.9,340.9L377.0,342.1L377.1,339.9L377.2,339.7L377.3,338.9L377.5,338.4L377.6,339.8L377.7,342.7L377.8,342.0L377.9,338.1L378.0,335.3L378.2,340.0L378.3,340.1L378.4,338.2L378.5,344.2L378.6,340.1L378.8,343.6L378.9,343.8L379.0,340.5L379.1,342.8L379.2,337.7L379.3,341.5L379.5,339.7L379.6,337.7L379.7,333.9L379.8,337.8L379.9,334.9L380.0,335.0L380.2,334.1L380.3,339.1L380.4,337.5L380.5,336.9L380.6,334.5L380.7,339.4L380.9,337.9L381.0,338.0L381.1,346.1L381.2,337.2L381.3,337.6L381.4,340.1L381.6,339.4L381.7,337.6L381.8,336.6L381.9,336.5L382.0,337.0L382.1,335.0L382.3,332.1L382.4,334.2L382.5,330.4L382.6,329.6L382.7,331.1L382.8,335.3L383.0,335.2L383.1,341.8L383.2,336.4L383.3,337.2L383.4,338.9L383.5,343.0L383.7,335.6L383.8,335.4L383.9,338.8L384.0,336.1L384.1,338.9L384.2,342.7L384.4,337.4L384.5,337.8L384.6,336.8L384.7,335.9L384.8,338.0L384.9,338.9L385.1,332.1L385.2,334.4L385.3,334.0L385.4,338.6L385.5,343.2L385.6,341.4L385.8,335.6L385.9,338.3L386.0,345.5L386.1,342.7L386.2,344.3L386.4,341.1L386.5,336.5L386.6,341.8L386.7,338.5L386.8,339.0L386.9,338.9L387.1,339.7L387.2,338.6L387.3,335.7L387.4,336.5L387.5,336.5L387.6,340.9L387.8,341.2L387.9,339.5L388.0,340.4L388.1,342.3L388.2,341.3L388.3,335.9L388.5,340.1L388.6,338.0L388.7,336.4L388.8,338.3L388.9,332.7L389.0,335.6L389.2,333.6L389.3,336.2L389.4,333.1L389.5,334.8L389.6,333.2L389.7,336.4L389.9,336.7L390.0,336.3L390.1,335.4L390.2,342.0L390.3,340.2L390.4,341.9L390.6,340.0L390.7,348.6L390.8,346.5L390.9,340.3L391.0,340.7L391.1,339.8L391.3,340.6L391.4,339.6L391.5,338.8L391.6,337.1L391.7,341.7L391.8,339.7L392.0,334.3L392.1,333.9L392.2,339.0L392.3,332.7L392.4,336.1L392.5,335.8L392.7,339.0L392.8,340.9L392.9,338.9L393.0,339.2L393.1,341.8L393.2,338.8L393.4,339.0L393.5,343.2L393.6,341.3L393.7,339.9L393.8,341.8L393.9,338.4L394.1,337.3L394.2,342.5L394.3,339.0L394.4,338.0L394.5,336.4L394.7,342.1L394.8,340.8L394.9,337.6L395.0,336.0L395.1,338.4L395.2,341.5L395.4,338.4L395.5,341.3L395.6,342.8L395.7,338.5L395.8,336.1L395.9,335.4L396.1,337.1L396.2,339.4L396.3,340.7L396.4,336.5L396.5,340.7L396.6,337.7L396.8,337.2L396.9,339.4L397.0,337.7L397.1,337.0L397.2,334.7L397.3,337.9L397.5,336.7L397.6,336.1L397.7,339.8L397.8,338.2L397.9,338.3L398.0,336.6L398.2,339.6L398.3,336.9L398.4,336.2L398.5,333.7L398.6,337.3L398.7,333.9L398.9,336.8L399.0,336.1L399.1,339.4L399.2,338.8L399.3,336.0L399.4,338.4L399.6,332.8L399.7,336.2L399.8,330.2L399.9,338.1L400.0,335.2L400.1,335.4L400.3,336.1L400.4,335.5L400.5,341.5L400.6,336.4L400.7,334.2L400.8,337.0L401.0,339.9L401.1,337.4L401.2,336.1L401.3,334.0L401.4,338.0L401.5,334.3L401.7,339.5L401.8,335.9L401.9,337.8L402.0,332.8L402.1,336.6L402.2,335.1L402.4,338.9L402.5,343.1L402.6,338.7L402.7,338.9L402.8,340.9L403.0,339.1L403.1,343.2L403.2,338.8L403.3,339.1L403.4,333.7L403.5,336.7L403.7,336.5L403.8,336.8L403.9,341.9L404.0,340.1L404.1,335.3L404.2,337.4L404.4,342.5L404.5,338.9L404.6,340.9L404.7,339.3L404.8,340.7L404.9,341.5L405.1,344.9L405.2,342.6L405.3,343.8L405.4,342.3L405.5,339.5L405.6,340.8L405.8,340.7L405.9,340.3L406.0,345.0L406.1,342.7L406.2,339.1L406.3,338.0L406.5,345.7L406.6,342.7L406.7,339.4L406.8,333.5L406.9,343.1L407.0,342.1L407.2,341.2L407.3,339.2L407.4,344.1L407.5,341.5L407.6,340.4L407.7,340.3L407.9,339.4L408.0,336.3L408.1,334.2L408.2,335.8L408.3,337.0L408.4,338.3L408.6,340.5L408.7,342.6L408.8,343.3L408.9,338.4L409.0,339.0L409.1,341.4L409.3,342.8L409.4,344.2L409.5,343.8L409.6,346.2L409.7,347.3L409.8,348.1L410.0,344.0L410.1,346.3L410.2,348.2L410.3,344.6L410.4,345.6L410.5,341.5L410.7,339.7L410.8,341.4L410.9,340.3L411.0,337.3L411.1,344.8L411.3,344.4L411.4,341.1L411.5,341.9L411.6,340.2L411.7,338.1L411.8,341.2L412.0,345.9L412.1,335.7L412.2,345.9L412.3,347.1L412.4,341.7L412.5,348.5L412.7,346.9L412.8,343.5L412.9,345.0L413.0,342.4L413.1,339.8L413.2,342.0L413.4,342.8L413.5,339.8L413.6,339.5L413.7,332.3L413.8,340.8L413.9,334.9L414.1,338.6L414.2,337.2L414.3,343.6L414.4,341.9L414.5,342.6L414.6,344.0L414.8,341.4L414.9,336.1L415.0,344.0L415.1,336.8L415.2,340.9L415.3,340.7L415.5,344.3L415.6,340.2L415.7,336.8L415.8,341.3L415.9,339.2L416.0,339.0L416.2,339.8L416.3,341.2L416.4,336.1L416.5,337.5L416.6,341.9L416.7,338.1L416.9,344.0L417.0,342.4L417.1,346.9L417.2,347.7L417.3,343.9L417.4,337.7L417.6,340.7L417.7,337.2L417.8,334.6L417.9,337.0L418.0,339.1L418.1,336.3L418.3,337.5L418.4,334.8L418.5,337.3L418.6,332.4L418.7,332.9L418.9,334.9L419.0,335.0L419.1,333.7L419.2,334.5L419.3,333.3L419.4,330.6L419.6,333.9L419.7,332.8L419.8,332.2L419.9,337.5L420.0,329.5L420.1,334.5L420.3,331.2L420.4,341.0L420.5,342.4L420.6,339.3L420.7,339.2L420.8,337.7L421.0,338.5L421.1,337.2L421.2,340.3L421.3,334.2L421.4,338.2L421.5,344.5L421.7,342.2L421.8,342.2L421.9,340.5L422.0,341.9L422.1,339.7L422.2,337.3L422.4,344.1L422.5,341.7L422.6,335.3L422.7,334.7L422.8,333.8L422.9,337.3L423.1,334.6L423.2,336.7L423.3,342.2L423.4,340.1L423.5,337.0L423.6,338.5L423.8,340.7L423.9,340.5L424.0,336.4L424.1,336.3L424.2,337.8L424.3,332.2L424.3,336.8L424.5,336.4L424.6,334.6L424.7,334.2L424.8,333.5L424.9,337.3L425.0,325.7L425.2,329.5L425.3,329.9L425.4,332.4L425.5,331.9L425.6,331.6L425.7,335.6L425.9,333.4L426.0,335.1L426.1,338.5L426.2,340.3L426.3,337.2L426.4,333.8L426.6,339.3L426.7,338.0L426.8,341.2L426.9,343.3L427.0,338.8L427.2,342.7L427.3,336.8L427.4,343.9L427.5,346.2L427.6,342.0L427.7,341.2L427.9,341.6L428.0,343.9L428.1,347.3L428.2,341.5L428.3,346.2L428.4,337.4L428.6,343.3L428.7,341.5L428.8,340.8L428.9,336.0L429.0,334.2L429.1,337.6L429.3,337.4L429.4,341.0L429.5,336.5L429.6,345.0L429.7,337.1L429.8,339.6L430.0,343.9L430.1,341.1L430.2,342.4L430.3,340.8L430.4,342.2L430.5,346.4L430.7,346.0L430.8,350.1L430.9,344.8L431.0,349.4L431.1,347.3L431.2,348.8L431.4,346.1L431.5,342.9L431.6,345.7L431.7,343.2L431.8,346.1L431.9,341.9L432.1,340.9L432.2,343.2L432.3,344.1L432.4,346.9L432.5,343.5L432.6,342.7L432.8,346.1L432.9,345.2L433.0,345.6L433.1,346.7L433.2,343.0L433.3,345.7L433.5,338.4L433.6,336.2L433.7,337.6L433.8,338.4L433.9,338.7L434.0,337.5L434.2,340.2L434.3,336.0L434.4,336.0L434.5,334.2L434.6,331.1L434.7,334.4L434.9,330.9L435.0,332.9L435.1,337.0L435.2,334.3L435.3,336.6L435.5,336.3L435.6,337.1L435.7,337.9L435.8,339.5L435.9,337.7L436.0,340.0L436.2,341.4L436.3,340.2L436.4,344.5L436.5,340.1L436.6,340.1L436.7,342.8L436.9,339.2L437.0,340.2L437.1,341.5L437.2,340.1L437.3,339.0L437.4,341.8L437.6,339.0L437.7,338.0L437.8,337.8L437.9,339.5L438.0,335.1L438.1,343.2L438.3,339.0L438.4,338.1L438.5,334.4L438.6,341.8L438.7,340.7L438.8,340.5L439.0,338.4L439.1,339.8L439.2,341.0L439.3,336.8L439.4,338.3L439.5,340.4L439.7,342.5L439.8,342.1L439.9,342.3L440.0,337.2L440.1,345.2L440.2,343.9L440.4,343.8L440.5,342.9L440.6,340.5L440.7,345.4L440.8,344.5L440.9,339.0L441.1,341.0L441.2,338.1L441.3,343.6L441.4,345.9L441.5,344.0L441.6,344.2L441.8,340.6L441.9,343.6L442.0,340.7L442.1,338.5L442.2,339.7L442.3,341.1L442.5,341.6L442.6,341.1L442.7,340.9L442.8,345.7L442.9,346.9L443.1,339.8L443.2,346.8L443.3,343.4L443.4,344.3L443.5,338.9L443.6,341.6L443.8,339.6L443.9,340.5L444.0,346.1L444.1,344.6L444.2,349.3L444.3,346.7L444.5,343.2L444.6,343.3L444.7,342.7L444.8,342.9L444.9,343.7L445.0,340.8L445.2,342.0L445.3,342.5L445.4,340.1L445.5,343.5L445.6,337.9L445.7,342.7L445.9,337.9L446.0,341.3L446.1,342.6L446.2,341.7L446.3,339.1L446.4,339.2L446.6,338.4L446.7,338.9L446.8,339.7L446.9,340.4L447.0,340.8L447.1,340.1L447.3,344.9L447.4,340.7L447.5,341.9L447.6,343.0L447.7,344.8L447.8,342.3L448.0,339.6L448.1,341.5L448.2,338.0L448.3,331.5L448.4,323.1L448.5,314.2L448.7,300.6L448.8,290.3L448.9,284.7L448.9,284.6L449.0,288.2L449.1,298.4L449.2,311.7L449.4,322.1L449.5,331.6L449.6,333.1L449.7,339.5L449.8,339.5L449.9,342.4L450.1,340.6L450.2,342.6L450.3,346.8L450.4,343.8L450.5,340.9L450.6,339.5L450.8,344.1L450.9,340.3L451.0,341.3L451.1,341.1L451.2,337.9L451.4,339.2L451.5,346.4L451.6,345.2L451.7,340.7L451.8,340.8L451.9,341.9L452.1,346.6L452.2,343.2L452.3,340.6L452.4,342.7L452.5,342.9L452.6,342.9L452.8,340.0L452.9,338.1L453.0,335.5L453.1,339.5L453.2,338.7L453.3,342.3L453.5,336.0L453.6,340.9L453.7,336.9L453.8,343.2L453.9,342.7L454.0,341.8L454.2,343.2L454.3,349.4L454.4,344.0L454.5,342.6L454.6,336.6L454.7,338.8L454.9,337.9L455.0,339.9L455.1,338.0L455.2,341.6L455.3,345.3L455.4,344.1L455.6,341.4L455.7,343.6L455.8,341.9L455.9,341.6L456.0,337.3L456.1,346.9L456.3,343.7L456.4,340.4L456.5,341.8L456.6,336.5L456.7,339.4L456.8,341.2L457.0,343.1L457.1,341.2L457.2,341.6L457.3,344.6L457.4,343.0L457.5,339.5L457.7,340.2L457.8,341.1L457.9,337.4L458.0,343.8L458.1,342.3L458.2,339.5L458.4,338.5L458.5,343.2L458.6,340.8L458.7,342.4L458.8,344.0L458.9,341.5L459.1,343.3L459.2,339.3L459.3,340.6L459.4,342.0L459.5,338.4L459.7,337.4L459.8,341.9L459.9,343.7L460.0,341.4L460.1,339.7L460.2,346.5L460.4,347.3L460.5,340.8L460.6,344.9L460.7,344.3L460.8,345.6L460.9,346.8L461.1,344.3L461.2,345.2L461.3,341.9L461.4,344.3L461.5,343.2L461.6,343.8L461.8,345.3L461.9,343.3L462.0,339.4L462.1,342.8L462.2,340.5L462.3,342.0L462.5,341.6L462.6,337.3L462.7,343.3L462.8,342.3L462.9,341.9L463.0,336.8L463.2,338.8L463.3,344.3L463.4,343.6L463.5,343.0L463.6,344.0L463.7,345.3L463.9,342.1L464.0,346.5L464.1,343.2L464.2,343.7L464.3,343.3L464.4,346.4L464.6,343.4L464.7,337.3L464.8,338.9L464.9,343.4L465.0,339.5L465.1,344.6L465.3,339.0L465.4,342.9L465.5,337.5L465.6,338.5L465.7,339.7L465.8,344.3L466.0,341.6L466.1,344.1L466.2,342.9L466.3,343.5L466.4,341.9L466.5,339.8L466.7,339.4L466.8,346.3L466.9,343.9L467.0,344.9L467.1,340.7L467.3,346.8L467.4,344.3L467.5,346.5L467.6,345.4L467.7,348.1L467.8,347.9L468.0,343.7L468.1,341.9L468.2,343.7L468.3,343.5L468.4,343.3L468.5,342.6L468.7,340.0L468.8,344.6L468.9,340.1L469.0,346.5L469.1,343.0L469.2,345.2L469.4,342.3L469.5,337.3L469.6,344.7L469.7,340.1L469.8,346.2L469.9,342.1L470.1,337.6L470.2,342.5L470.3,347.2L470.4,344.5L470.5,342.8L470.6,345.7L470.8,339.4L470.9,341.7L471.0,345.6L471.1,342.3L471.2,343.5L471.3,348.3L471.5,340.3L471.6,341.8L471.7,349.3L471.8,341.8L471.9,345.3L472.0,343.6L472.2,345.6L472.3,348.3L472.4,345.1L472.5,341.9L472.6,350.3L472.7,346.7L472.9,348.8L473.0,346.3L473.1,351.4L473.2,347.3L473.3,349.4L473.4,347.1L473.6,348.6L473.7,350.7L473.8,348.0L473.9,346.4L474.0,346.1L474.1,342.0L474.3,345.8L474.4,343.6L474.5,341.8L474.6,339.8L474.7,344.3L474.8,343.7L475.0,342.9L475.1,344.4L475.2,344.7L475.3,339.6L475.4,340.2L475.6,338.5L475.7,337.6L475.8,342.3L475.9,340.7L476.0,341.8L476.1,340.6L476.3,337.3L476.4,344.6L476.5,339.3L476.6,345.4L476.7,343.5L476.8,340.9L477.0,343.7L477.1,350.1L477.2,346.7L477.3,343.4L477.4,348.9L477.5,348.0L477.7,343.6L477.8,346.1L477.9,345.4L478.0,342.1L478.1,338.8L478.2,340.6L478.4,338.7L478.5,340.7L478.6,341.1L478.7,340.4L478.8,344.4L478.9,344.3L479.1,345.0L479.2,345.7L479.3,347.3L479.4,345.3L479.5,344.7L479.6,340.7L479.8,344.2L479.9,340.2L480.0,343.4L480.1,337.9L480.2,344.8L480.3,349.8L480.5,340.8L480.6,340.8L480.7,340.3L480.8,337.2L480.9,337.6L481.0,341.4L481.2,342.6L481.3,340.8L481.4,343.8L481.5,344.6L481.6,345.6L481.7,342.9L481.9,343.3L482.0,345.9L482.1,343.8L482.2,347.4L482.3,345.4L482.4,342.4L482.6,344.7L482.7,338.8L482.8,341.6L482.9,340.0L483.0,337.5L483.1,342.2L483.3,337.3L483.4,339.1L483.5,342.5L483.6,339.6L483.7,338.0L483.9,345.2L484.0,339.6L484.1,345.3L484.2,341.6L484.3,339.8L484.4,334.8L484.6,337.4L484.7,337.2L484.8,336.0L484.9,335.6L485.0,337.7L485.1,337.3L485.2,337.0L485.3,339.1L485.4,335.9L485.5,337.5L485.6,336.9L485.7,336.9L485.8,341.2L486.0,340.3L486.1,338.6L486.2,340.1L486.3,340.0L486.4,340.1L486.5,340.3L486.7,338.5L486.8,346.1L486.9,340.2L487.0,344.7L487.1,338.3L487.2,341.1L487.4,339.2L487.5,339.4L487.6,340.0L487.7,341.5L487.8,340.1L487.9,338.3L488.1,343.2L488.2,343.8L488.3,345.1L488.4,344.5L488.5,346.3L488.6,343.9L488.8,348.9L488.9,348.4L489.0,343.8L489.1,342.6L489.2,342.7L489.3,339.0L489.5,339.9L489.6,342.8L489.7,341.9L489.8,338.3L489.9,335.7L490.0,330.3L490.2,325.2L490.3,316.7L490.4,307.2L490.5,300.2L490.6,298.9L490.6,299.4L490.7,305.1L490.9,314.5L491.0,324.0L491.1,330.2L491.2,333.4L491.3,341.0L491.4,344.6L491.6,346.0L491.7,341.0L491.8,346.6L491.9,341.6L492.0,338.8L492.2,346.3L492.3,340.9L492.4,339.8L492.5,340.9L492.6,341.3L492.7,346.5L492.9,341.5L493.0,344.6L493.1,342.5L493.2,340.1L493.3,338.3L493.4,339.0L493.6,337.0L493.7,342.4L493.8,338.4L493.9,340.0L494.0,341.5L494.1,341.2L494.3,338.6L494.4,337.4L494.5,342.7L494.6,335.3L494.7,340.5L494.8,338.3L495.0,338.3L495.1,340.5L495.2,345.6L495.3,342.6L495.4,340.8L495.5,343.1L495.7,340.8L495.8,341.8L495.9,340.5L496.0,339.5L496.1,336.0L496.2,339.8L496.4,338.3L496.5,342.2L496.6,340.5L496.7,345.2L496.8,340.9L496.9,340.7L497.1,345.6L497.2,341.4L497.3,342.3L497.4,341.2L497.5,342.5L497.6,343.6L497.8,345.3L497.9,342.5L498.0,340.7L498.1,343.6L498.2,342.8L498.3,346.4L498.5,342.0L498.6,341.1L498.7,341.1L498.8,348.4L498.9,344.7L499.0,349.0L499.2,344.1L499.3,350.6L499.4,352.1L499.5,346.4L499.6,350.7L499.8,348.6L499.9,351.4L500.0,341.7L500.1,348.9L500.2,346.8L500.3,346.5L500.5,344.1L500.6,347.4L500.7,345.0L500.8,344.0L500.9,339.9L501.0,341.1L501.2,347.2L501.3,345.2L501.4,346.7L501.5,350.2L501.6,348.0L501.7,346.0L501.9,346.5L502.0,345.4L502.1,342.6L502.2,342.9L502.3,343.6L502.4,346.0L502.6,344.9L502.7,342.5L502.8,344.2L502.9,349.8L503.0,345.7L503.1,347.3L503.3,348.0L503.4,344.4L503.5,345.9L503.6,346.2L503.7,343.6L503.8,345.6L504.0,343.6L504.1,346.8L504.2,342.5L504.3,348.1L504.4,344.4L504.5,347.6L504.7,342.4L504.8,342.9L504.9,345.4L505.0,343.2L505.1,341.7L505.2,345.6L505.4,344.4L505.5,341.6L505.6,347.0L505.7,346.8L505.8,340.8L505.9,341.6L506.1,344.5L506.2,342.2L506.3,339.3L506.4,340.6L506.5,345.1L506.6,340.2L506.8,342.6L506.9,345.0L507.0,342.5L507.1,342.9L507.2,345.6L507.3,347.2L507.5,342.7L507.6,341.7L507.7,344.2L507.8,348.0L507.9,346.8L508.1,340.7L508.2,347.3L508.3,345.6L508.4,344.4L508.5,345.4L508.6,341.9L508.8,341.6L508.9,344.3L509.0,341.9L509.1,342.2L509.2,340.0L509.3,339.9L509.5,347.8L509.6,345.9L509.7,344.3L509.8,342.6L509.9,346.8L510.0,348.9L510.2,342.8L510.3,346.8L510.4,346.8L510.5,346.6L510.6,346.8L510.7,343.1L510.9,350.4L511.0,343.1L511.1,343.0L511.2,345.3L511.3,344.5L511.4,348.2L511.6,344.3L511.7,344.7L511.8,346.6L511.9,344.0L512.0,343.3L512.1,341.8L512.3,343.8L512.4,345.8L512.5,344.8L512.6,347.4L512.7,344.1L512.8,345.3L513.0,345.1L513.1,342.7L513.2,343.9L513.3,346.2L513.4,347.6L513.5,344.8L513.7,333.8L513.8,343.7L513.9,342.3L514.0,343.8L514.1,340.3L514.2,341.7L514.4,339.8L514.5,341.7L514.6,342.8L514.7,336.5L514.8,340.4L514.9,340.5L515.1,341.1L515.2,343.5L515.3,344.6L515.4,341.6L515.5,345.9L515.6,347.2L515.8,347.9L515.9,347.2L516.0,353.8L516.1,348.0L516.2,349.7L516.4,344.5L516.5,347.5L516.6,352.7L516.7,344.0L516.8,348.5L516.9,351.3L517.1,346.9L517.2,350.6L517.3,344.6L517.4,351.4L517.5,349.3L517.6,347.0L517.8,345.0L517.9,343.7L518.0,347.8L518.1,349.1L518.2,348.6L518.3,344.9L518.5,343.2L518.6,349.6L518.7,343.3L518.8,340.5L518.9,342.9L519.0,344.0L519.2,341.7L519.3,340.9L519.4,343.1L519.5,346.1L519.6,341.9L519.7,337.7L519.9,341.0L520.0,341.4L520.1,345.5L520.2,343.7L520.3,340.5L520.4,340.0L520.6,340.5L520.7,344.5L520.8,339.9L520.9,337.3L521.0,332.3L521.1,338.6L521.3,340.0L521.4,338.4L521.5,343.5L521.6,344.4L521.7,343.8L521.8,344.2L522.0,343.7L522.1,343.1L522.2,343.5L522.3,344.6L522.4,343.3L522.5,341.0L522.7,342.6L522.8,343.0L522.9,340.4L523.0,345.7L523.1,338.7L523.2,339.6L523.4,340.1L523.5,339.2L523.6,338.5L523.7,335.6L523.8,337.2L524.0,334.5L524.1,334.5L524.2,334.0L524.3,332.4L524.4,332.9L524.5,328.4L524.7,329.6L524.8,329.1L524.9,328.8L525.0,326.6L525.1,325.4L525.2,324.2L525.4,323.1L525.5,321.1L525.6,321.5L525.7,322.3L525.7,321.9L525.8,323.0L525.9,322.9L526.1,324.0L526.2,324.0L526.3,324.9L526.4,324.6L526.5,328.1L526.6,327.3L526.8,329.5L526.9,329.8L527.0,332.1L527.1,329.7L527.2,332.5L527.3,332.8L527.5,332.2L527.6,336.0L527.7,337.8L527.8,338.3L527.9,341.4L528.0,344.2L528.2,342.1L528.3,343.8L528.4,347.2L528.5,343.5L528.6,346.4L528.7,347.0L528.9,344.4L529.0,343.3L529.1,344.1L529.2,343.9L529.3,341.1L529.4,340.7L529.6,342.3L529.7,346.4L529.8,342.6L529.9,347.0L530.0,345.1L530.1,341.8L530.3,340.4L530.4,339.4L530.5,342.1L530.6,340.2L530.7,340.5L530.8,346.3L531.0,345.4L531.1,343.9L531.2,347.1L531.3,344.7L531.4,346.7L531.5,347.7L531.7,345.6L531.8,342.2L531.9,348.6L532.0,345.9L532.1,344.7L532.3,342.3L532.4,344.0L532.5,347.3L532.6,342.6L532.7,343.4L532.8,343.3L533.0,343.1L533.1,344.3L533.2,350.5L533.3,348.0L533.4,345.0L533.5,343.1L533.7,341.8L533.8,340.9L533.9,344.1L534.0,341.5L534.1,343.0L534.2,341.7L534.4,339.1L534.5,345.4L534.6,342.3L534.7,345.2L534.8,344.5L534.9,345.7L535.1,344.0L535.2,343.0L535.3,349.0L535.4,340.5L535.5,342.1L535.6,341.6L535.8,345.4L535.9,345.5L536.0,349.2L536.1,347.2L536.2,350.0L536.3,344.5L536.5,348.1L536.6,345.2L536.7,346.9L536.8,344.2L536.9,345.4L537.0,349.5L537.2,350.7L537.3,346.9L537.4,346.1L537.5,348.5L537.6,343.4L537.7,343.2L537.9,344.1L538.0,344.5L538.1,345.6L538.2,348.5L538.3,345.8L538.4,351.3L538.6,346.7L538.7,344.9L538.8,350.9L538.9,341.9L539.0,348.5L539.1,343.6L539.3,346.7L539.4,345.6L539.5,347.2L539.6,344.9L539.7,344.3L539.8,344.6L540.0,339.7L540.1,339.9L540.2,340.2L540.3,343.5L540.4,339.9L540.6,338.8L540.7,340.2L540.8,340.8L540.9,343.0L541.0,343.4L541.1,347.8L541.3,344.9L541.4,348.2L541.5,350.8L541.6,348.4L541.7,348.7L541.8,347.9L542.0,350.4L542.1,346.7L542.2,343.0L542.3,343.6L542.4,343.6L542.5,343.1L542.7,344.7L542.8,342.2L542.9,348.1L543.0,345.9L543.1,346.7L543.2,348.8L543.4,342.2L543.5,344.8L543.6,344.3L543.7,344.8L543.8,346.8L543.9,344.6L544.1,348.6L544.2,347.0L544.3,349.0L544.4,350.9L544.5,347.5L544.6,344.1L544.8,344.8L544.9,343.3L545.0,348.2L545.1,343.0L545.2,351.4L545.3,346.8L545.5,346.4L545.6,345.7L545.7,345.4L545.8,346.4L545.9,346.3L546.0,343.8L546.2,345.2L546.3,348.7L546.4,340.2L546.5,347.0L546.6,344.2L546.7,347.8L546.9,349.7L547.0,349.1L547.1,349.3L547.2,349.4L547.3,347.9L547.4,347.8L547.6,344.4L547.7,344.0L547.8,343.5L547.9,347.6L548.0,343.8L548.2,341.3L548.3,348.5L548.4,346.1L548.5,343.7L548.6,346.9L548.7,343.6L548.9,346.6L549.0,350.2L549.1,338.7L549.2,340.9L549.3,345.8L549.4,342.6L549.6,342.7L549.7,345.7L549.8,348.9L549.9,343.2L550.0,343.4L550.1,347.9L550.3,349.2L550.4,342.7L550.5,345.0L550.6,346.7L550.7,343.5L550.8,345.3L551.0,348.0L551.1,344.6L551.2,339.0L551.3,346.2L551.4,342.5L551.5,344.9L551.7,343.6L551.8,344.1L551.9,343.4L552.0,343.2L552.1,346.7L552.2,342.9L552.4,345.7L552.5,349.4L552.6,339.8L552.7,346.0L552.8,348.7L552.9,345.7L553.1,346.4L553.2,343.9L553.3,344.1L553.4,345.9L553.5,345.6L553.6,344.0L553.8,343.0L553.9,342.2L554.0,341.4L554.1,344.3L554.2,340.0L554.3,339.9L554.5,340.9L554.6,345.9L554.7,345.8L554.8,353.3L554.9,353.9L555.0,349.3L555.2,349.0L555.3,350.5L555.4,349.8L555.5,348.6L555.6,352.1L555.7,348.8L555.9,348.3L556.0,351.8L556.1,347.7L556.2,350.5L556.3,348.2L556.5,347.7L556.6,347.2L556.7,351.7L556.8,342.1L556.9,348.6L557.0,344.3L557.2,345.0L557.3,344.3L557.4,346.4L557.5,344.7L557.6,344.1L557.7,342.8L557.9,341.4L558.0,343.3L558.1,344.6L558.2,342.2L558.3,342.4L558.4,341.5L558.6,345.4L558.7,342.6L558.8,348.9L558.9,342.4L559.0,344.9L559.1,342.3L559.3,344.6L559.4,342.9L559.5,342.0L559.6,347.9L559.7,348.2L559.8,343.2L560.0,344.5L560.1,348.0L560.2,347.6L560.3,347.7L560.4,344.7L560.5,348.6L560.7,349.0L560.8,346.7L560.9,347.8L561.0,344.7L561.1,345.2L561.2,349.0L561.4,345.3L561.5,345.4L561.6,348.1L561.7,349.9L561.8,351.7L561.9,348.0L562.1,345.8L562.2,346.4L562.3,348.0L562.4,342.2L562.5,351.1L562.6,345.9L562.8,348.5L562.9,345.0L563.0,346.8L563.1,345.5L563.2,342.9L563.3,347.7L563.5,346.2L563.6,347.6L563.7,344.7L563.8,344.3L563.9,344.0L564.0,349.5L564.2,349.8L564.3,346.5L564.4,347.5L564.5,350.8L564.6,348.6L564.8,348.5L564.9,350.1L565.0,341.8L565.1,350.1L565.2,345.0L565.3,346.7L565.5,345.8L565.6,347.4L565.7,345.5L565.8,344.7L565.9,345.0L566.0,342.9L566.2,342.7L566.3,344.6L566.4,343.7L566.5,346.3L566.6,347.9L566.7,348.2L566.9,349.2L567.0,348.7L567.1,348.9L567.2,347.4L567.3,349.3L567.4,346.0L567.6,346.8L567.7,349.2L567.8,351.9L567.9,349.0L568.0,348.5L568.1,347.3L568.3,347.1L568.4,347.7L568.5,348.0L568.6,347.6L568.7,345.5L568.8,349.8L569.0,351.2L569.1,346.2L569.2,348.8L569.3,352.1L569.4,349.7L569.5,350.3L569.7,345.2L569.8,349.6L569.9,348.0L570.0,348.1L570.1,348.6L570.2,342.4L570.4,349.4L570.5,342.8L570.6,345.3L570.7,342.1L570.8,345.6L570.9,342.5L571.1,342.5L571.2,342.3L571.3,344.7L571.4,344.7L571.5,344.5L571.6,351.3L571.8,341.9L571.9,347.2L572.0,347.8L572.1,346.7L572.2,346.1L572.3,347.3L572.5,349.0L572.6,347.9L572.7,343.4L572.8,345.5L572.9,346.4L573.1,347.4L573.2,347.9L573.3,346.9L573.4,345.4L573.5,346.6L573.6,350.2L573.8,349.1L573.9,351.4L574.0,346.8L574.1,345.0L574.2,345.5L574.3,342.6L574.5,347.6L574.6,342.7L574.7,349.8L574.8,346.7L574.9,348.3L575.0,346.9L575.2,345.2L575.3,347.8L575.4,349.9L575.5,346.6L575.6,344.9L575.7,344.9L575.9,338.6L576.0,343.4L576.1,344.6L576.2,341.6L576.3,343.1L576.4,345.2L576.6,345.8L576.7,343.6L576.8,344.1L576.9,343.2L577.0,343.8L577.1,347.8L577.3,343.4L577.4,349.4L577.5,349.2L577.6,349.6L577.7,346.6L577.8,341.1L578.0,346.1L578.1,346.1L578.2,347.2L578.3,343.6L578.4,351.2L578.5,345.8L578.7,344.9L578.8,342.6L578.9,346.0L579.0,346.6L579.1,346.7L579.2,349.5L579.4,345.7L579.5,344.2L579.6,342.5L579.7,341.1L579.8,346.0L579.9,345.5L580.1,342.8L580.2,347.7L580.3,341.2L580.4,350.0L580.5,347.4L580.7,349.1L580.8,345.4L580.9,348.5L581.0,346.0L581.1,347.1L581.2,347.6L581.4,346.1L581.5,344.3L581.6,346.4L581.7,348.6L581.8,351.7L581.9,350.6L582.1,352.6L582.2,345.8L582.3,350.0L582.4,345.3L582.5,343.0L582.6,340.5L582.8,342.5L582.9,346.9L583.0,345.0L583.1,346.3L583.2,349.2L583.3,351.4L583.5,344.4L583.6,348.1L583.7,346.2L583.8,346.8L583.9,349.0L584.0,349.2L584.2,346.8L584.3,347.1L584.4,348.0L584.5,350.9L584.6,350.3L584.7,351.9L584.9,354.9L585.0,347.7L585.1,351.9L585.2,349.1L585.3,349.9L585.4,345.9L585.6,342.5L585.7,343.7L585.8,348.4L585.9,345.4L586.0,353.0L586.1,350.3L586.3,352.3L586.4,351.0L586.5,348.7L586.6,353.5L586.7,346.3L586.8,346.9L587.0,347.9L587.1,349.6L587.2,347.6L587.3,346.7L587.4,349.7L587.5,352.6L587.7,349.3L587.8,347.9L587.9,352.3L588.0,346.6L588.1,349.1L588.2,349.5L588.4,346.3L588.5,351.1L588.6,351.8L588.7,348.3L588.8,350.8L589.0,345.8L589.1,348.8L589.2,347.3L589.3,344.1L589.4,346.6L589.5,347.3L589.7,342.8L589.8,348.8L589.9,347.1L590.0,343.2L590.1,345.2L590.2,343.2L590.4,347.5L590.5,345.6L590.6,348.4L590.7,345.1L590.8,346.9L590.9,346.8L591.1,348.3L591.2,349.6L591.3,349.6L591.4,350.8L591.5,349.0L591.6,351.7L591.8,350.6L591.9,354.7L592.0,349.6L592.1,350.5L592.2,351.0L592.3,351.1L592.5,349.6L592.6,351.3L592.7,350.8L592.8,345.6L592.9,354.1L593.0,346.8L593.2,350.6L593.3,347.0L593.4,350.3L593.5,348.1L593.6,342.8L593.7,349.3L593.9,348.9L594.0,346.9L594.1,348.6L594.2,350.2L594.3,353.6L594.4,350.3L594.6,350.1L594.7,346.8L594.8,347.2L594.9,351.7L595.0,347.2L595.1,345.5L595.3,345.5L595.4,346.9L595.5,343.0L595.6,350.4L595.7,350.1L595.8,341.3L596.0,344.7L596.1,342.5L596.2,344.0L596.3,343.1L596.4,337.2L596.5,339.1L596.7,340.3L596.8,344.4L596.9,344.3L597.0,349.6L597.1,348.0L597.3,344.9L597.4,344.3L597.5,345.1L597.6,343.7L597.7,341.5L597.8,344.1L598.0,347.1L598.1,343.8L598.2,344.6L598.3,342.1L598.4,343.2L598.5,345.3L598.7,342.9L598.8,339.3L598.9,337.8L599.0,340.2L599.1,345.4L599.2,344.4L599.4,344.3L599.5,347.0L599.6,344.8L599.7,346.1L599.8,347.5L599.9,342.4L600.1,341.6L600.2,336.5L600.3,336.7L600.4,336.6L600.5,335.0L600.6,333.2L600.8,329.3L600.9,329.2L601.0,329.4L601.1,329.2L601.1,328.3L601.2,329.8L601.3,331.4L601.5,331.4L601.6,333.1L601.7,334.6L601.8,336.2L601.9,338.1L602.0,338.9L602.2,341.1L602.3,339.2L602.4,344.6L602.5,341.2L602.6,344.1L602.7,348.2L602.9,344.5L603.0,347.6L603.1,346.2L603.2,343.5L603.3,349.6L603.4,349.8L603.6,350.6L603.7,349.7L603.8,346.8L603.9,340.7L604.0,339.3L604.1,344.1L604.3,339.5L604.4,341.3L604.5,347.2L604.6,349.1L604.7,349.1L604.9,351.5L605.0,352.4L605.1,348.3L605.2,348.9L605.3,352.6L605.4,349.1L605.6,346.7L605.7,339.6L605.8,343.0L605.9,343.9L606.0,345.2L606.1,344.2L606.3,347.5L606.4,349.8L606.5,343.4L606.6,353.2L606.7,350.0L606.8,344.3L607.0,347.2L607.1,345.6L607.2,353.9L607.3,344.3L607.4,345.7L607.5,350.6L607.7,340.6L607.8,341.6L607.9,347.5L608.0,345.8L608.1,344.6L608.2,349.1L608.4,346.7L608.5,343.2L608.6,345.4L608.7,345.5L608.8,344.9L608.9,344.7L609.1,344.8L609.2,348.1L609.3,340.2L609.4,343.7L609.5,343.7L609.6,345.1L609.8,345.3L609.9,340.6L610.0,344.7L610.1,344.6L610.2,343.2L610.3,339.5L610.5,344.0L610.6,342.7L610.7,347.2L610.8,347.2L610.9,348.5L611.0,346.8L611.2,351.0L611.3,349.1L611.4,351.8L611.5,347.5L611.6,347.3L611.7,347.2L611.9,349.0L612.0,347.7L612.1,346.3L612.2,341.4L612.3,342.1L612.4,340.2L612.6,338.0L612.7,335.3L612.8,336.8L612.9,335.6L613.0,334.7L613.2,331.0L613.3,331.3L613.4,327.0L613.5,327.5L613.6,326.0L613.7,324.3L613.9,323.0L614.0,322.8L614.1,322.1L614.2,322.9L614.3,322.3L614.3,322.5L614.4,322.4L614.6,322.9L614.7,323.1L614.8,324.0L614.9,325.8L615.0,326.0L615.1,330.0L615.3,334.0L615.4,332.5L615.5,332.2L615.6,339.0L615.7,338.5L615.8,339.2L616.0,340.5L616.1,341.2L616.2,342.2L616.3,343.0L616.4,344.5L616.5,343.4L616.7,346.0L616.8,346.3L616.9,347.0L617.0,346.0L617.1,348.1L617.2,343.6L617.4,343.2L617.5,341.3L617.6,344.3L617.7,341.0L617.8,343.1L617.9,340.4L618.1,343.9L618.2,345.2L618.3,348.4L618.4,345.4L618.5,348.5L618.6,344.0L618.8,345.2L618.9,348.9L619.0,347.2L619.1,346.8L619.2,344.8L619.3,348.2L619.5,349.5L619.6,347.5L619.7,352.8L619.8,353.6L619.9,354.0L620.0,350.6L620.2,354.5L620.3,346.9L620.4,350.7L620.5,348.9L620.6,349.4L620.7,351.4L620.9,350.6L621.0,350.2L621.1,345.9L621.2,347.5L621.3,353.5L621.5,346.2L621.6,344.0L621.7,345.1L621.8,346.3L621.9,342.7L622.0,345.9L622.2,343.8L622.3,345.1L622.4,344.1L622.5,344.6L622.6,348.8L622.7,345.4L622.9,345.5L623.0,346.8L623.1,345.7L623.2,346.1L623.3,351.7L623.4,346.9L623.6,343.4L623.7,347.8L623.8,347.8L623.9,351.8L624.0,347.5L624.1,346.1L624.3,339.6L624.4,344.1L624.5,344.3L624.6,347.7L624.7,348.9L624.8,348.6L625.0,352.1L625.1,350.2L625.2,349.1L625.3,352.8L625.4,347.5L625.5,350.5L625.7,347.8L625.8,349.4L625.9,349.1L626.0,345.1L626.1,347.1L626.2,344.1L626.4,344.1L626.5,347.5L626.6,344.7L626.7,342.2L626.8,340.0L626.9,341.4L627.1,342.6L627.2,343.9L627.3,345.2L627.4,341.6L627.5,341.6L627.6,342.3L627.8,343.4L627.9,343.1L628.0,347.2L628.1,347.2L628.2,345.6L628.3,350.8L628.5,348.5L628.6,348.3L628.7,352.0L628.8,352.9L628.9,352.3L629.1,347.3L629.2,349.0L629.3,350.9L629.4,350.5L629.5,348.6L629.6,344.9L629.8,343.8L629.9,347.7L630.0,349.3L630.1,347.8L630.2,349.5L630.3,349.7L630.5,350.8L630.6,349.7L630.7,345.8L630.8,346.2L630.9,344.7L631.0,341.4L631.2,346.8L631.3,343.3L631.4,347.5L631.5,349.6L631.6,343.4L631.7,350.1L631.9,349.3L632.0,348.7L632.1,346.1L632.2,348.1L632.3,344.8L632.4,350.1L632.6,345.7L632.7,347.6L632.8,344.6L632.9,344.7L633.0,347.0L633.1,343.8L633.3,345.9L633.4,344.2L633.5,347.1L633.6,348.2L633.7,349.6L633.8,349.9L634.0,352.2L634.1,347.0L634.2,347.7L634.3,350.0L634.4,347.3L634.5,348.3L634.7,350.9L634.8,347.2L634.9,347.5L635.0,347.6L635.1,348.0L635.2,345.8L635.4,348.4L635.5,344.9L635.6,344.4L635.7,345.2L635.8,346.0L635.9,350.7L636.1,345.7L636.2,347.7L636.3,343.2L636.4,346.2L636.5,347.7L636.6,351.0L636.8,349.4L636.9,347.5L637.0,346.2L637.1,343.6L637.2,343.4L637.4,346.1L637.5,349.6L637.6,346.4L637.7,342.6L637.8,343.5L637.9,343.1L638.1,346.3L638.2,345.9L638.3,343.8L638.4,340.8L638.5,349.6L638.6,347.3L638.8,340.1L638.9,347.1L639.0,341.9L639.1,343.6L639.2,347.5L639.3,345.8L639.5,341.8L639.6,341.0L639.7,341.4L639.8,343.2L639.9,343.8L640.0,345.6L640.2,350.3L640.3,342.6L640.4,343.2L640.5,344.6L640.6,351.9L640.7,348.3L640.9,352.6L641.0,350.4L641.1,344.0L641.2,351.1L641.3,350.7L641.4,345.2L641.6,343.4L641.7,346.0L641.8,344.2L641.9,343.7L642.0,347.5L642.1,341.6L642.3,342.7L642.4,339.9L642.5,340.4L642.6,345.8L642.7,342.4L642.8,343.2L643.0,340.3L643.1,341.1L643.2,342.1L643.3,343.3L643.4,342.8L643.5,343.0L643.7,346.4L643.8,346.3L643.9,349.0L644.0,349.0L644.1,343.7L644.2,347.2L644.4,347.6L644.5,348.7L644.6,354.2L644.7,350.7L644.8,347.1L644.9,349.2L645.1,352.4L645.2,349.8L645.3,353.4L645.4,348.9L645.5,352.5L645.7,347.6L645.8,352.2L645.9,353.0L646.0,349.7L646.1,348.5L646.2,354.5L646.4,349.5L646.5,349.3L646.6,349.0L646.7,347.3L646.8,348.6L646.9,347.8L647.1,346.6L647.2,349.3L647.3,345.0L647.4,352.5L647.5,352.6L647.6,351.7L647.8,347.5L647.9,350.4L648.0,340.3L648.1,341.7L648.2,342.8L648.3,344.1L648.5,341.7L648.6,343.9L648.7,343.4L648.8,339.6L648.9,343.7L649.0,342.1L649.2,342.6L649.3,340.6L649.4,344.9L649.5,340.1L649.6,338.3L649.7,345.9L649.9,343.0L650.0,346.2L650.1,345.5L650.2,347.7L650.3,348.1L650.4,346.6L650.6,347.1L650.7,345.8L650.8,347.0L650.9,349.6L651.0,341.4L651.1,345.6L651.3,347.3L651.4,349.6L651.5,343.7L651.6,348.0L651.7,343.4L651.8,345.6L652.0,339.4L652.1,344.7L652.2,341.9L652.3,345.8L652.4,344.7L652.5,340.2L652.7,347.3L652.8,347.1L652.9,352.3L653.0,353.0L653.1,351.0L653.3,350.4L653.4,351.2L653.5,353.4L653.6,352.1L653.7,348.7L653.8,351.2L654.0,348.4L654.1,347.0L654.2,347.6L654.3,346.8L654.4,343.2L654.5,342.2L654.7,341.1L654.8,345.6L654.9,344.6L655.0,342.9L655.1,343.5L655.2,349.5L655.4,347.4L655.5,347.7L655.6,344.0L655.7,347.4L655.8,343.2L655.9,345.0L656.1,349.6L656.2,349.1L656.3,345.3L656.4,347.0L656.5,347.4L656.6,350.0L656.8,349.9L656.9,350.2L657.0,349.7L657.1,348.3L657.2,352.7L657.3,347.0L657.5,348.1L657.6,350.1L657.7,344.3L657.8,347.7L657.9,342.9L658.0,345.4L658.2,344.0L658.3,344.7L658.4,343.9L658.5,349.7L658.6,344.9L658.7,344.6L658.9,345.9L659.0,349.2L659.1,342.4L659.2,342.6L659.3,349.5L659.4,349.7L659.6,350.5L659.7,344.5L659.8,348.2L659.9,347.5L660.0,347.1L660.1,342.9L660.3,343.1L660.4,346.3L660.5,343.6L660.6,342.4L660.7,346.5L660.8,345.1L661.0,343.7L661.1,343.7L661.2,343.8L661.3,347.8L661.4,344.2L661.6,347.2L661.7,346.8L661.8,345.7L661.9,347.1L662.0,347.6L662.1,347.2L662.3,349.5L662.4,351.6L662.5,344.3L662.6,348.2L662.7,346.0L662.8,350.7L663.0,341.4L663.1,346.2L663.2,347.4L663.3,344.2L663.4,344.8L663.5,346.0L663.7,344.6L663.8,340.2L663.9,340.6L664.0,345.7L664.1,341.2L664.2,340.7L664.4,344.8L664.5,340.6L664.6,348.1L664.7,344.3L664.8,344.5L664.9,345.0L665.1,342.0L665.2,343.4L665.3,345.6L665.4,346.0L665.5,346.0L665.6,345.5L665.8,348.8L665.9,346.4L666.0,344.7L666.1,346.3L666.2,352.3L666.3,351.2L666.5,348.3L666.6,346.3L666.7,340.8L666.8,347.8L666.9,345.8L667.0,350.1L667.2,346.3L667.3,348.2L667.4,345.5L667.5,342.5L667.6,346.3L667.7,340.8L667.9,344.1L668.0,344.0"/>
<path stroke="#7030A0" d="M79.0,10.0L79.1,10.0L79.2,10.0L79.4,10.0L79.5,10.0L79.6,10.0L79.7,10.0L79.8,10.0L79.9,27.3L80.1,56.8L80.2,47.4L80.3,69.9L80.4,73.8L80.5,85.0L80.6,92.6L80.8,93.7L80.9,97.8L81.0,110.0L81.1,115.8L81.2,116.8L81.3,129.9L81.5,137.7L81.6,131.5L81.7,142.8L81.8,155.5L81.9,155.0L82.0,158.6L82.2,166.6L82.3,169.6L82.4,162.1L82.5,157.8L82.6,164.1L82.7,167.2L82.9,161.9L83.0,161.7L83.1,169.1L83.2,167.0L83.3,167.2L83.4,176.9L83.6,182.9L83.7,179.0L83.8,180.9L83.9,177.0L84.0,189.5L84.1,185.5L84.3,185.5L84.4,189.4L84.5,179.5L84.6,178.0L84.7,186.3L84.8,177.5L85.0,183.2L85.1,186.6L85.2,189.6L85.3,187.9L85.4,200.2L85.5,190.3L85.7,190.3L85.8,202.5L85.9,191.8L86.0,195.0L86.1,189.9L86.2,196.4L86.4,194.7L86.5,193.9L86.6,201.6L86.7,195.9L86.8,201.4L86.9,200.0L87.1,206.1L87.2,198.4L87.3,201.1L87.4,205.5L87.5,202.3L87.7,200.4L87.8,199.1L87.9,217.1L88.0,205.1L88.1,207.0L88.2,209.2L88.4,213.2L88.5,201.4L88.6,213.7L88.7,204.5L88.8,200.9L88.9,215.5L89.1,209.3L89.2,214.5L89.3,207.0L89.4,200.8L89.5,198.2L89.6,217.1L89.8,211.2L89.9,205.0L90.0,200.8L90.1,206.5L90.2,212.0L90.3,206.4L90.5,207.3L90.6,207.5L90.7,209.6L90.8,203.6L90.9,203.7L91.0,205.7L91.2,206.7L91.3,212.4L91.4,209.4L91.5,202.4L91.6,210.8L91.7,218.9L91.9,207.4L92.0,213.5L92.1,207.8L92.2,219.5L92.3,223.4L92.4,229.0L92.6,215.9L92.7,210.0L92.8,226.4L92.9,225.7L93.0,220.1L93.1,227.6L93.3,225.6L93.4,226.5L93.5,224.3L93.6,219.9L93.7,224.7L93.8,219.9L94.0,226.0L94.1,222.5L94.2,235.2L94.3,233.5L94.4,224.9L94.5,234.1L94.7,230.8L94.8,232.7L94.9,230.0L95.0,232.7L95.1,231.3L95.3,235.7L95.4,237.1L95.5,235.3L95.6,232.1L95.7,233.3L95.8,229.3L96.0,226.8L96.1,226.1L96.2,230.5L96.3,239.9L96.4,232.7L96.5,232.0L96.7,227.8L96.8,229.4L96.9,234.2L97.0,234.1L97.1,221.7L97.2,228.9L97.4,226.1L97.5,227.4L97.6,243.9L97.7,240.5L97.8,241.7L97.9,242.0L98.1,242.4L98.2,244.0L98.3,244.3L98.4,252.2L98.5,246.1L98.6,248.7L98.8,244.2L98.9,246.4L99.0,240.8L99.1,239.6L99.2,241.8L99.3,242.0L99.5,243.4L99.6,246.5L99.7,246.0L99.8,248.4L99.9,245.0L100.0,246.9L100.2,243.9L100.3,251.7L100.4,240.3L100.5,246.3L100.6,244.8L100.7,241.1L100.9,241.8L101.0,237.4L101.1,241.1L101.2,243.7L101.3,243.8L101.4,235.7L101.6,243.6L101.7,251.5L101.8,248.5L101.9,257.2L102.0,242.9L102.1,257.6L102.3,247.2L102.4,244.9L102.5,251.5L102.6,241.4L102.7,236.7L102.8,238.6L103.0,240.1L103.1,238.5L103.2,244.1L103.3,245.5L103.4,249.7L103.6,248.2L103.7,256.9L103.8,250.8L103.9,258.2L104.0,262.2L104.1,256.6L104.3,251.1L104.4,254.4L104.5,260.7L104.6,255.0L104.7,260.1L104.8,258.8L105.0,258.3L105.1,269.6L105.2,259.1L105.3,265.2L105.4,264.5L105.5,268.6L105.7,269.5L105.8,267.4L105.9,259.7L106.0,255.7L106.1,262.5L106.2,256.3L106.4,260.5L106.5,265.8L106.6,254.5L106.7,251.4L106.8,253.8L106.9,249.6L107.1,248.1L107.2,254.7L107.3,258.2L107.4,254.0L107.5,255.6L107.6,257.9L107.8,253.5L107.9,251.2L108.0,261.0L108.1,256.1L108.2,255.0L108.3,256.2L108.5,255.4L108.6,262.8L108.7,258.9L108.8,254.1L108.9,259.7L109.0,265.9L109.2,260.2L109.3,257.3L109.4,261.7L109.5,266.7L109.6,258.8L109.7,272.6L109.9,266.6L110.0,270.5L110.1,277.0L110.2,267.3L110.3,271.2L110.4,277.2L110.6,268.5L110.7,271.7L110.8,277.0L110.9,270.8L111.0,266.1L111.1,264.2L111.3,265.9L111.4,265.9L111.5,263.3L111.6,265.3L111.7,258.4L111.9,262.4L112.0,261.8L112.1,261.4L112.2,269.4L112.3,268.9L112.4,259.9L112.6,265.5L112.7,268.2L112.8,265.5L112.9,269.4L113.0,266.7L113.1,271.6L113.3,268.3L113.4,276.8L113.5,264.2L113.6,271.9L113.7,276.2L113.8,269.9L114.0,270.3L114.1,267.7L114.2,272.9L114.3,265.7L114.4,251.4L114.5,272.9L114.7,266.9L114.8,271.3L114.9,271.3L115.0,282.3L115.1,281.4L115.2,275.8L115.4,278.7L115.5,271.6L115.6,281.1L115.7,276.1L115.8,262.8L115.9,277.0L116.1,275.9L116.2,270.7L116.3,269.4L116.4,264.3L116.5,266.4L116.6,269.7L116.8,265.6L116.9,256.1L117.0,263.5L117.1,282.9L117.2,273.4L117.3,278.0L117.5,272.5L117.6,276.3L117.7,267.3L117.8,271.3L117.9,270.8L118.0,272.9L118.2,272.5L118.3,269.0L118.4,263.0L118.5,264.3L118.6,266.6L118.7,258.9L118.9,263.5L119.0,265.5L119.1,270.0L119.2,270.8L119.3,273.0L119.5,283.8L119.6,268.6L119.7,270.9L119.8,274.0L119.9,268.1L120.0,270.2L120.2,270.4L120.3,282.9L120.4,273.9L120.5,271.1L120.6,266.7L120.7,265.6L120.9,266.9L121.0,277.4L121.1,281.4L121.2,269.2L121.3,271.0L121.4,266.5L121.6,270.3L121.7,267.9L121.8,274.3L121.9,265.2L122.0,268.4L122.1,264.7L122.3,264.2L122.4,267.1L122.5,265.9L122.6,268.2L122.7,266.2L122.8,268.9L123.0,275.2L123.1,277.5L123.2,269.8L123.3,279.7L123.4,276.5L123.5,279.9L123.7,283.9L123.8,284.2L123.9,279.7L124.0,278.5L124.1,276.7L124.2,284.8L124.4,282.3L124.5,280.5L124.6,273.5L124.7,290.4L124.8,278.6L124.9,282.9L125.1,279.1L125.2,283.4L125.3,280.0L125.4,274.7L125.5,279.1L125.6,278.0L125.8,277.4L125.9,281.8L126.0,276.6L126.1,280.6L126.2,284.3L126.3,282.2L126.5,283.6L126.6,279.3L126.7,281.7L126.8,282.1L126.9,271.9L127.0,272.3L127.2,270.2L127.3,272.8L127.4,276.3L127.5,278.7L127.6,279.4L127.8,275.4L127.9,279.8L128.0,286.6L128.1,279.9L128.2,284.5L128.3,276.5L128.5,281.5L128.6,281.9L128.7,277.5L128.8,280.6L128.9,289.8L129.0,281.9L129.2,277.3L129.3,293.0L129.4,278.6L129.5,287.9L129.6,285.4L129.7,282.4L129.9,286.2L130.0,273.5L130.1,276.2L130.2,280.9L130.3,278.5L130.4,283.0L130.6,277.0L130.7,270.4L130.8,280.2L130.9,273.9L131.0,270.9L131.1,266.8L131.3,265.5L131.4,272.8L131.5,273.6L131.6,268.0L131.7,270.7L131.8,270.1L132.0,264.4L132.1,262.6L132.2,269.9L132.3,273.6L132.4,272.6L132.5,285.2L132.7,279.6L132.8,285.8L132.9,272.6L133.0,280.2L133.1,282.6L133.2,283.7L133.4,293.0L133.5,279.2L133.6,275.3L133.7,285.2L133.8,279.6L133.9,280.0L134.1,290.3L134.2,281.0L134.3,280.3L134.4,285.9L134.5,287.8L134.6,284.5L134.8,294.1L134.9,286.9L135.0,282.2L135.1,290.8L135.2,280.5L135.3,285.5L135.5,291.9L135.6,283.5L135.7,287.4L135.8,282.7L135.9,289.8L136.1,281.7L136.2,290.2L136.3,286.6L136.4,291.1L136.5,289.9L136.6,283.0L136.8,285.9L136.9,287.2L137.0,289.4L137.1,278.5L137.2,279.6L137.3,283.6L137.5,281.2L137.6,286.6L137.7,286.8L137.8,286.2L137.9,281.6L138.0,282.1L138.2,286.7L138.3,280.8L138.4,281.0L138.5,283.9L138.6,280.7L138.7,286.4L138.9,285.7L139.0,283.0L139.1,284.7L139.2,280.8L139.3,288.7L139.4,277.1L139.6,285.8L139.7,283.1L139.8,288.2L139.9,280.4L140.0,278.1L140.1,279.7L140.3,281.6L140.4,292.6L140.5,290.7L140.6,290.8L140.7,294.1L140.8,286.8L141.0,291.8L141.1,293.6L141.2,292.4L141.3,299.1L141.4,299.3L141.5,299.0L141.7,292.6L141.8,292.1L141.9,289.4L142.0,285.4L142.1,293.4L142.2,288.1L142.4,283.4L142.5,288.2L142.6,283.9L142.7,277.1L142.8,276.7L142.9,277.0L143.1,281.6L143.2,283.1L143.3,278.3L143.4,285.0L143.5,282.9L143.6,279.6L143.8,287.1L143.9,288.2L144.0,285.4L144.1,282.3L144.2,282.2L144.4,283.2L144.5,281.7L144.6,291.1L144.7,288.8L144.8,285.2L144.9,290.1L145.1,291.7L145.2,290.8L145.3,289.1L145.4,285.4L145.5,288.2L145.6,282.5L145.8,276.1L145.9,283.3L146.0,277.3L146.1,281.2L146.2,287.0L146.3,283.6L146.5,287.1L146.6,280.6L146.7,289.2L146.8,279.9L146.9,283.7L147.0,294.9L147.2,283.9L147.3,281.2L147.4,291.1L147.5,283.8L147.6,294.7L147.7,285.2L147.9,291.5L148.0,281.0L148.1,289.0L148.2,291.9L148.3,280.0L148.4,273.7L148.6,287.4L148.7,283.6L148.8,288.0L148.9,290.5L149.0,286.5L149.1,281.4L149.3,291.9L149.4,283.4L149.5,283.3L149.6,289.8L149.7,276.9L149.8,275.3L150.0,287.2L150.1,276.5L150.2,284.0L150.3,285.7L150.4,279.7L150.5,285.6L150.7,285.8L150.8,281.5L150.9,283.1L151.0,285.5L151.1,295.6L151.2,297.0L151.4,286.6L151.5,295.2L151.6,291.1L151.7,296.3L151.8,293.1L152.0,298.3L152.1,287.2L152.2,298.7L152.3,295.5L152.4,295.8L152.5,289.6L152.7,299.3L152.8,292.5L152.9,292.1L153.0,288.3L153.1,288.5L153.2,292.8L153.4,291.1L153.5,295.1L153.6,293.3L153.7,297.3L153.8,301.1L153.9,299.8L154.1,299.0L154.2,291.7L154.3,302.8L154.4,299.0L154.5,293.6L154.6,306.9L154.8,304.5L154.9,300.9L155.0,295.0L155.1,283.0L155.2,289.3L155.3,284.0L155.5,287.8L155.6,295.1L155.7,293.2L155.8,279.1L155.9,282.7L156.0,289.7L156.2,281.6L156.3,294.1L156.4,285.0L156.5,285.1L156.6,294.7L156.7,296.4L156.9,288.3L157.0,295.5L157.1,287.0L157.2,294.8L157.3,286.6L157.4,289.8L157.6,292.7L157.7,295.7L157.8,292.1L157.9,301.3L158.0,294.8L158.1,294.7L158.3,289.3L158.4,295.9L158.5,283.2L158.6,291.3L158.7,295.3L158.8,286.6L159.0,287.3L159.1,296.7L159.2,301.4L159.3,299.2L159.4,303.1L159.5,302.3L159.7,295.2L159.8,300.1L159.9,301.1L160.0,300.3L160.1,301.7L160.3,297.5L160.4,296.5L160.5,300.2L160.6,297.0L160.7,286.6L160.8,293.8L161.0,296.2L161.1,288.0L161.2,297.3L161.3,303.5L161.4,298.6L161.5,307.1L161.7,307.7L161.8,306.0L161.9,308.6L162.0,310.9L162.1,309.0L162.2,307.5L162.4,298.8L162.5,304.9L162.6,303.6L162.7,293.2L162.8,304.0L162.9,296.7L163.1,298.3L163.2,304.9L163.3,310.6L163.4,303.8L163.5,303.3L163.6,302.4L163.8,305.9L163.9,301.0L164.0,299.4L164.1,307.7L164.2,296.1L164.3,299.0L164.5,300.0L164.6,297.6L164.7,288.0L164.8,291.3L164.9,302.7L165.0,296.2L165.2,298.2L165.3,299.5L165.4,301.7L165.5,306.0L165.6,296.9L165.7,303.5L165.9,300.4L166.0,300.3L166.1,299.6L166.2,293.0L166.3,293.2L166.4,295.2L166.6,293.8L166.7,289.4L166.8,282.3L166.9,279.5L167.0,274.0L167.1,268.7L167.3,262.7L167.4,257.3L167.5,253.9L167.6,252.4L167.6,252.4L167.7,253.7L167.8,256.9L168.0,262.3L168.1,268.3L168.2,275.3L168.3,283.3L168.4,285.4L168.6,287.0L168.7,295.8L168.8,291.0L168.9,300.6L169.0,300.4L169.1,296.7L169.3,299.5L169.4,297.8L169.5,304.3L169.6,306.4L169.7,310.5L169.8,308.5L170.0,308.1L170.1,309.4L170.2,302.2L170.3,305.7L170.4,310.7L170.5,293.8L170.7,306.6L170.8,308.1L170.9,298.9L171.0,297.9L171.1,302.4L171.2,299.2L171.4,293.0L171.5,283.6L171.6,280.5L171.7,275.4L171.8,269.6L171.9,265.2L172.1,262.8L172.2,261.8L172.2,261.8L172.3,262.8L172.4,265.4L172.5,269.5L172.6,274.8L172.8,278.5L172.9,287.7L173.0,287.5L173.1,295.6L173.2,299.4L173.3,300.7L173.5,301.8L173.6,300.0L173.7,300.0L173.8,301.4L173.9,305.1L174.0,297.4L174.2,298.9L174.3,292.5L174.4,299.8L174.5,306.8L174.6,297.8L174.7,287.7L174.9,294.3L175.0,296.8L175.1,292.5L175.2,294.3L175.3,295.4L175.4,300.8L175.6,300.4L175.7,301.7L175.8,306.5L175.9,309.3L176.0,304.8L176.2,301.8L176.3,303.1L176.4,303.8L176.5,303.9L176.6,295.8L176.7,304.7L176.9,301.1L177.0,296.6L177.1,303.1L177.2,301.2L177.3,297.3L177.4,294.1L177.6,299.1L177.7,298.8L177.8,300.0L177.9,305.4L178.0,296.8L178.1,302.9L178.3,309.4L178.4,303.9L178.5,310.5L178.6,307.9L178.7,303.9L178.8,307.4L179.0,299.3L179.1,308.9L179.2,301.6L179.3,300.1L179.4,296.4L179.5,298.6L179.7,301.6L179.8,302.8L179.9,304.0L180.0,299.8L180.1,307.2L180.2,302.8L180.4,305.2L180.5,304.0L180.6,306.1L180.7,296.9L180.8,308.2L180.9,304.9L181.1,305.0L181.2,303.8L181.3,304.4L181.4,304.3L181.5,301.8L181.6,311.3L181.8,305.3L181.9,310.4L182.0,305.0L182.1,310.9L182.2,310.3L182.3,306.7L182.5,300.6L182.6,303.2L182.7,303.3L182.8,297.7L182.9,305.5L183.0,308.5L183.2,300.7L183.3,299.3L183.4,293.2L183.5,290.1L183.6,304.4L183.7,290.2L183.9,294.2L184.0,297.4L184.1,299.5L184.2,292.0L184.3,302.2L184.5,305.8L184.6,304.7L184.7,311.6L184.8,304.8L184.9,306.8L185.0,304.1L185.2,302.7L185.3,306.9L185.4,296.7L185.5,305.4L185.6,298.2L185.7,308.3L185.9,301.2L186.0,306.3L186.1,303.3L186.2,306.5L186.3,313.1L186.4,309.6L186.6,305.3L186.7,303.0L186.8,310.5L186.9,312.0L187.0,305.8L187.1,302.1L187.3,303.1L187.4,303.4L187.5,296.9L187.6,296.6L187.7,297.8L187.8,304.9L188.0,301.6L188.1,303.5L188.2,309.5L188.3,301.7L188.4,306.0L188.5,309.2L188.7,302.3L188.8,304.9L188.9,304.2L189.0,302.1L189.1,303.1L189.2,309.8L189.4,305.5L189.5,299.1L189.6,305.3L189.7,301.6L189.8,299.8L189.9,295.6L190.1,296.0L190.2,297.4L190.3,301.2L190.4,296.3L190.5,297.0L190.6,298.9L190.8,292.2L190.9,295.1L191.0,299.9L191.1,292.3L191.2,298.9L191.3,296.5L191.5,305.6L191.6,300.5L191.7,304.8L191.8,305.6L191.9,310.2L192.0,295.4L192.2,305.5L192.3,305.2L192.4,302.7L192.5,308.1L192.6,305.9L192.8,313.3L192.9,307.2L193.0,309.2L193.1,305.1L193.2,305.6L193.3,310.8L193.5,311.8L193.6,307.8L193.7,300.4L193.8,301.0L193.9,300.4L194.0,309.0L194.2,310.7L194.3,301.9L194.4,300.3L194.5,301.4L194.6,298.2L194.7,301.2L194.9,306.5L195.0,306.6L195.1,303.7L195.2,304.6L195.3,305.3L195.4,295.6L195.6,304.5L195.7,302.0L195.8,305.2L195.9,302.0L196.0,298.2L196.1,298.1L196.3,301.4L196.4,300.1L196.5,302.4L196.6,311.0L196.7,317.4L196.8,296.3L197.0,302.4L197.1,306.0L197.2,312.5L197.3,310.7L197.4,300.7L197.5,317.5L197.7,308.9L197.8,305.2L197.9,308.8L198.0,306.7L198.1,309.8L198.2,299.2L198.4,311.4L198.5,311.6L198.6,304.3L198.7,299.2L198.8,304.9L198.9,301.0L199.1,308.1L199.2,312.0L199.3,303.2L199.4,303.6L199.5,304.2L199.6,311.6L199.8,313.7L199.9,312.7L200.0,307.9L200.1,303.8L200.2,303.5L200.4,310.8L200.5,304.7L200.6,306.0L200.7,306.5L200.8,307.7L200.9,309.1L201.1,306.3L201.2,308.2L201.3,307.5L201.4,310.6L201.5,305.9L201.6,307.5L201.8,315.1L201.9,305.0L202.0,308.3L202.1,304.4L202.2,309.9L202.3,311.2L202.5,311.8L202.6,314.2L202.7,316.8L202.8,322.3L202.9,307.6L203.0,319.8L203.2,313.8L203.3,308.7L203.4,308.6L203.5,306.6L203.6,304.3L203.7,300.5L203.9,302.2L204.0,289.8L204.1,302.9L204.2,296.4L204.3,297.9L204.4,298.8L204.6,296.8L204.7,294.3L204.8,305.0L204.9,307.0L205.0,302.8L205.1,303.8L205.3,298.0L205.4,300.1L205.5,301.0L205.6,300.8L205.7,297.0L205.8,295.7L206.0,295.4L206.1,288.9L206.2,284.9L206.3,280.2L206.4,275.7L206.5,271.6L206.7,269.9L206.7,269.8L206.8,270.3L206.9,273.1L207.0,277.3L207.1,281.9L207.2,287.5L207.4,291.6L207.5,292.6L207.6,296.7L207.7,302.6L207.8,302.6L207.9,304.4L208.1,301.8L208.2,306.3L208.3,301.8L208.4,297.8L208.5,300.0L208.7,304.0L208.8,303.8L208.9,302.2L209.0,302.1L209.1,301.7L209.2,306.0L209.4,310.5L209.5,299.6L209.6,303.5L209.7,302.7L209.8,302.9L209.9,308.2L210.1,305.9L210.2,304.4L210.3,302.2L210.4,306.6L210.5,318.9L210.6,307.6L210.8,304.2L210.9,299.2L211.0,299.1L211.1,291.6L211.2,292.9L211.3,291.1L211.5,289.5L211.6,290.0L211.7,282.1L211.8,277.4L211.9,272.8L212.0,268.0L212.2,265.3L212.2,264.8L212.3,264.9L212.4,266.9L212.5,270.7L212.6,276.2L212.7,280.9L212.9,289.7L213.0,292.2L213.1,299.4L213.2,299.6L213.3,298.7L213.4,301.0L213.6,301.7L213.7,300.9L213.8,295.2L213.9,305.0L214.0,297.8L214.1,307.5L214.3,304.6L214.4,303.5L214.5,309.0L214.6,306.5L214.7,305.9L214.8,314.3L215.0,310.7L215.1,312.3L215.2,318.6L215.3,312.2L215.4,314.8L215.5,306.6L215.7,314.8L215.8,304.2L215.9,311.9L216.0,301.5L216.1,306.1L216.2,306.0L216.4,304.5L216.5,304.2L216.6,302.4L216.7,301.4L216.8,309.6L217.0,313.3L217.1,319.0L217.2,310.3L217.3,305.8L217.4,307.1L217.5,307.6L217.7,308.6L217.8,308.8L217.9,306.5L218.0,303.2L218.1,311.1L218.2,301.7L218.4,310.8L218.5,306.9L218.6,310.2L218.7,310.6L218.8,314.2L218.9,314.9L219.1,310.8L219.2,312.8L219.3,297.6L219.4,307.3L219.5,307.5L219.6,307.1L219.8,309.8L219.9,316.2L220.0,308.8L220.1,307.3L220.2,314.5L220.3,308.7L220.5,313.4L220.6,309.2L220.7,308.3L220.8,308.7L220.9,310.0L221.0,315.3L221.2,309.9L221.3,315.5L221.4,312.8L221.5,311.7L221.6,315.8L221.7,319.7L221.9,312.6L222.0,319.5L222.1,318.9L222.2,319.8L222.3,312.3L222.4,315.6L222.6,322.3L222.7,309.5L222.8,302.8L222.9,302.1L223.0,308.9L223.1,305.7L223.3,303.8L223.4,302.4L223.5,304.3L223.6,306.0L223.7,300.6L223.8,299.2L224.0,300.2L224.1,296.8L224.2,294.5L224.3,293.9L224.4,293.3L224.4,292.7L224.5,293.5L224.7,295.3L224.8,298.5L224.9,297.3L225.0,297.5L225.1,297.8L225.3,304.4L225.4,306.3L225.5,303.6L225.6,305.0L225.7,309.9L225.8,309.5L226.0,315.5L226.1,311.0L226.2,316.6L226.3,314.4L226.4,314.5L226.5,315.8L226.7,321.8L226.8,316.2L226.9,311.0L227.0,311.6L227.1,312.1L227.2,308.4L227.4,307.0L227.5,306.1L227.6,312.4L227.7,309.3L227.8,310.9L227.9,313.2L228.1,315.7L228.2,310.4L228.3,313.3L228.4,301.6L228.5,310.0L228.6,310.3L228.8,310.5L228.9,301.1L229.0,311.0L229.1,307.0L229.2,308.4L229.3,305.1L229.5,304.3L229.6,299.6L229.7,309.3L229.8,304.4L229.9,299.2L230.0,308.9L230.2,309.6L230.3,314.4L230.4,322.8L230.5,314.3L230.6,309.6L230.7,315.3L230.9,319.5L231.0,310.5L231.1,310.7L231.2,307.2L231.3,307.9L231.4,312.4L231.6,309.8L231.7,316.9L231.8,305.8L231.9,307.6L232.0,303.5L232.1,302.1L232.3,304.0L232.4,301.2L232.5,300.1L232.6,299.4L232.7,292.7L232.9,289.7L233.0,289.1L233.1,285.1L233.2,284.7L233.3,283.8L233.4,284.6L233.4,286.4L233.6,284.7L233.7,286.1L233.8,288.4L233.9,290.5L234.0,291.9L234.1,293.0L234.3,295.2L234.4,300.5L234.5,295.5L234.6,304.2L234.7,303.7L234.8,306.4L235.0,306.8L235.1,314.9L235.2,305.8L235.3,307.8L235.4,306.9L235.5,304.5L235.7,311.8L235.8,320.5L235.9,307.7L236.0,304.7L236.1,306.1L236.2,313.5L236.4,312.6L236.5,311.8L236.6,320.0L236.7,315.7L236.8,315.4L236.9,306.7L237.1,314.7L237.2,305.7L237.3,311.0L237.4,317.0L237.5,301.8L237.6,313.8L237.8,307.6L237.9,303.3L238.0,311.5L238.1,313.6L238.2,304.2L238.3,307.1L238.5,311.4L238.6,310.4L238.7,307.5L238.8,302.4L238.9,307.5L239.0,304.5L239.2,301.6L239.3,304.2L239.4,304.9L239.5,306.8L239.6,318.3L239.7,307.7L239.9,310.8L240.0,311.9L240.1,314.9L240.2,316.5L240.3,314.7L240.4,310.9L240.6,316.0L240.7,315.4L240.8,315.2L240.9,310.5L241.0,313.5L241.2,311.6L241.3,304.2L241.4,308.7L241.5,304.0L241.6,310.1L241.7,305.6L241.9,308.0L242.0,309.7L242.1,314.1L242.2,317.9L242.3,316.1L242.4,317.2L242.6,311.4L242.7,311.5L242.8,318.8L242.9,311.0L243.0,314.3L243.1,309.9L243.3,312.8L243.4,316.2L243.5,306.7L243.6,309.2L243.7,316.2L243.8,319.4L244.0,315.0L244.1,318.2L244.2,315.8L244.3,312.8L244.4,310.0L244.5,316.9L244.7,310.0L244.8,310.0L244.9,314.9L245.0,318.4L245.1,307.8L245.2,307.8L245.4,300.7L245.5,304.1L245.6,306.8L245.7,303.9L245.8,314.9L245.9,310.8L246.1,313.2L246.2,306.3L246.3,311.7L246.4,326.5L246.5,310.9L246.6,320.7L246.8,314.9L246.9,319.7L247.0,316.3L247.1,313.5L247.2,313.5L247.3,316.0L247.5,305.5L247.6,308.0L247.7,308.6L247.8,305.3L247.9,309.9L248.0,300.9L248.2,307.8L248.3,308.4L248.4,310.0L248.5,316.7L248.6,319.6L248.7,316.0L248.9,316.4L249.0,312.8L249.1,315.6L249.2,320.5L249.3,313.7L249.5,312.3L249.6,312.1L249.7,315.6L249.8,322.9L249.9,315.1L250.0,323.3L250.2,318.9L250.3,327.1L250.4,317.9L250.5,323.0L250.6,314.8L250.7,310.8L250.9,311.4L251.0,318.3L251.1,315.6L251.2,313.7L251.3,306.6L251.4,307.1L251.6,307.5L251.7,307.0L251.8,306.4L251.9,306.8L252.0,303.8L252.1,311.5L252.3,311.7L252.4,320.4L252.5,319.0L252.6,316.7L252.7,318.0L252.8,311.6L253.0,306.9L253.1,310.5L253.2,308.8L253.3,307.4L253.4,303.8L253.5,305.7L253.7,301.8L253.8,302.3L253.9,302.4L254.0,301.3L254.1,304.6L254.2,304.7L254.4,299.4L254.5,307.2L254.6,305.3L254.7,309.7L254.8,313.3L254.9,315.1L255.1,318.0L255.2,315.9L255.3,318.8L255.4,318.2L255.5,311.8L255.6,316.7L255.8,311.6L255.9,314.3L256.0,311.2L256.1,315.4L256.2,310.9L256.3,299.7L256.5,305.2L256.6,303.9L256.7,307.0L256.8,305.5L256.9,314.3L257.1,314.3L257.2,310.2L257.3,309.0L257.4,313.5L257.5,312.3L257.6,312.5L257.8,311.2L257.9,314.0L258.0,313.7L258.1,307.6L258.2,312.0L258.3,307.9L258.5,304.9L258.6,303.2L258.7,295.6L258.8,291.6L258.9,283.4L259.0,275.8L259.2,265.7L259.3,255.4L259.4,247.5L259.5,242.0L259.6,239.9L259.6,239.9L259.7,241.7L259.9,246.7L260.0,255.0L260.1,263.2L260.2,271.7L260.3,280.4L260.4,288.8L260.6,289.5L260.7,294.1L260.8,297.3L260.9,299.4L261.0,301.0L261.1,305.6L261.3,302.5L261.4,311.4L261.5,306.1L261.6,312.8L261.7,309.7L261.8,306.8L262.0,311.8L262.1,314.1L262.2,312.2L262.3,317.2L262.4,319.7L262.5,321.2L262.7,314.9L262.8,318.2L262.9,318.4L263.0,323.9L263.1,316.1L263.2,322.4L263.4,314.8L263.5,319.8L263.6,307.1L263.7,319.7L263.8,307.9L263.9,309.0L264.1,318.8L264.2,313.4L264.3,307.6L264.4,309.4L264.5,320.4L264.6,316.3L264.8,319.0L264.9,318.6L265.0,317.5L265.1,308.7L265.2,316.0L265.4,318.4L265.5,319.8L265.6,316.8L265.7,317.3L265.8,323.6L265.9,314.7L266.1,324.1L266.2,320.5L266.3,316.8L266.4,310.8L266.5,316.9L266.6,313.2L266.8,308.5L266.9,310.5L267.0,308.9L267.1,309.6L267.2,312.7L267.3,311.7L267.5,310.7L267.6,312.9L267.7,307.6L267.8,315.1L267.9,310.7L268.0,304.1L268.2,304.4L268.3,304.5L268.4,301.6L268.5,299.6L268.6,300.5L268.7,298.4L268.9,298.9L268.9,298.0L269.0,298.6L269.1,297.7L269.2,300.6L269.3,300.8L269.4,300.7L269.6,304.9L269.7,307.3L269.8,304.7L269.9,307.1L270.0,308.4L270.1,308.4L270.3,312.2L270.4,301.3L270.5,313.9L270.6,313.1L270.7,317.3L270.8,314.5L271.0,307.9L271.1,313.0L271.2,310.1L271.3,313.1L271.4,303.7L271.5,309.2L271.7,314.5L271.8,307.3L271.9,312.2L272.0,309.1L272.1,311.2L272.2,310.8L272.4,311.4L272.5,315.5L272.6,318.2L272.7,309.6L272.8,314.8L272.9,314.4L273.1,318.4L273.2,325.3L273.3,323.3L273.4,313.8L273.5,322.4L273.7,320.9L273.8,324.7L273.9,320.5L274.0,319.2L274.1,317.9L274.2,316.9L274.4,318.9L274.5,318.9L274.6,317.1L274.7,316.1L274.8,318.0L274.9,310.9L275.1,316.5L275.2,316.5L275.3,319.3L275.4,312.6L275.5,319.9L275.6,321.3L275.8,317.7L275.9,310.2L276.0,315.3L276.1,304.8L276.2,309.1L276.3,314.9L276.5,311.0L276.6,304.8L276.7,316.4L276.8,319.5L276.9,313.5L277.0,310.7L277.2,311.5L277.3,315.8L277.4,313.0L277.5,311.6L277.6,307.7L277.7,303.5L277.9,311.6L278.0,306.0L278.1,312.0L278.2,308.3L278.3,314.1L278.4,313.7L278.6,309.5L278.7,314.6L278.8,307.9L278.9,313.1L279.0,310.5L279.1,311.0L279.3,312.1L279.4,310.9L279.5,308.3L279.6,301.8L279.7,319.1L279.8,314.4L280.0,316.7L280.1,319.8L280.2,315.2L280.3,319.5L280.4,316.2L280.5,310.9L280.7,322.8L280.8,313.9L280.9,313.0L281.0,318.1L281.1,312.4L281.3,312.7L281.4,314.8L281.5,308.1L281.6,316.6L281.7,308.3L281.8,310.8L282.0,313.2L282.1,309.4L282.2,309.6L282.3,304.8L282.4,313.4L282.5,308.6L282.7,310.0L282.8,303.0L282.9,313.4L283.0,305.5L283.1,315.8L283.2,307.7L283.4,309.2L283.5,307.3L283.6,311.2L283.7,315.6L283.8,314.3L283.9,305.3L284.1,308.1L284.2,309.8L284.3,303.5L284.4,304.8L284.5,301.6L284.6,298.7L284.8,291.5L284.9,287.1L285.0,285.9L285.1,281.4L285.2,277.9L285.3,275.3L285.5,273.8L285.6,272.9L285.6,272.9L285.7,273.2L285.8,274.5L285.9,276.6L286.0,279.1L286.2,282.9L286.3,285.4L286.4,289.6L286.5,290.9L286.6,294.1L286.7,296.9L286.9,300.4L287.0,293.1L287.1,293.6L287.2,293.1L287.3,294.1L287.4,289.4L287.6,281.4L287.7,277.0L287.8,272.0L287.9,265.3L288.0,260.2L288.1,256.9L288.3,255.7L288.3,255.7L288.4,256.8L288.5,260.1L288.6,265.5L288.7,271.2L288.8,277.2L289.0,282.3L289.1,290.1L289.2,292.5L289.3,299.0L289.4,305.0L289.6,313.8L289.7,311.1L289.8,313.6L289.9,310.1L290.0,309.2L290.1,306.1L290.3,311.8L290.4,316.6L290.5,304.3L290.6,312.8L290.7,316.1L290.8,317.5L291.0,322.8L291.1,316.2L291.2,317.5L291.3,312.6L291.4,313.7L291.5,313.6L291.7,311.2L291.8,316.2L291.9,316.2L292.0,314.4L292.1,318.8L292.2,314.8L292.4,316.0L292.5,312.9L292.6,316.3L292.7,324.2L292.8,317.7L292.9,313.1L293.1,325.5L293.2,321.4L293.3,318.1L293.4,322.6L293.5,319.3L293.6,316.7L293.8,321.8L293.9,315.9L294.0,315.7L294.1,322.2L294.2,317.6L294.3,313.8L294.5,318.8L294.6,316.8L294.7,316.3L294.8,319.9L294.9,315.5L295.0,317.9L295.2,323.1L295.3,317.3L295.4,315.7L295.5,315.1L295.6,319.4L295.7,313.8L295.9,308.9L296.0,311.9L296.1,307.5L296.2,306.9L296.3,312.2L296.4,310.2L296.6,314.4L296.7,309.7L296.8,314.4L296.9,316.5L297.0,314.9L297.1,315.6L297.3,314.4L297.4,314.3L297.5,320.2L297.6,317.8L297.7,313.5L297.9,312.8L298.0,314.4L298.1,305.4L298.2,311.9L298.3,317.4L298.4,315.3L298.6,313.8L298.7,318.0L298.8,326.0L298.9,318.6L299.0,317.7L299.1,308.3L299.3,321.3L299.4,307.1L299.5,312.4L299.6,307.9L299.7,312.6L299.8,311.2L300.0,308.1L300.1,312.3L300.2,308.9L300.3,313.4L300.4,315.0L300.5,314.8L300.7,316.4L300.8,315.5L300.9,310.4L301.0,320.2L301.1,322.2L301.2,316.3L301.4,310.1L301.5,312.7L301.6,312.0L301.7,312.7L301.8,320.6L301.9,318.2L302.1,329.4L302.2,322.6L302.3,319.0L302.4,327.9L302.5,330.4L302.6,327.7L302.8,321.6L302.9,317.0L303.0,310.1L303.1,312.6L303.2,321.9L303.3,323.7L303.5,313.7L303.6,310.0L303.7,319.6L303.8,315.5L303.9,314.8L304.0,312.1L304.2,310.8L304.3,305.5L304.4,299.4L304.5,295.4L304.6,286.1L304.7,275.5L304.9,268.6L305.0,258.8L305.1,251.2L305.2,248.2L305.2,248.1L305.3,250.1L305.4,256.8L305.6,265.5L305.7,277.0L305.8,284.8L305.9,293.2L306.0,299.5L306.2,301.5L306.3,306.0L306.4,314.4L306.5,311.9L306.6,323.1L306.7,315.0L306.9,309.6L307.0,318.3L307.1,318.6L307.2,320.2L307.3,317.3L307.4,322.3L307.6,318.8L307.7,323.2L307.8,324.8L307.9,323.6L308.0,324.7L308.1,330.7L308.3,315.9L308.4,321.7L308.5,326.8L308.6,314.6L308.7,316.8L308.8,314.5L309.0,311.8L309.1,317.5L309.2,325.4L309.3,315.7L309.4,315.4L309.5,313.6L309.7,321.1L309.8,320.2L309.9,318.3L310.0,321.2L310.1,320.7L310.2,318.1L310.4,321.6L310.5,310.9L310.6,319.2L310.7,314.8L310.8,315.6L310.9,316.7L311.1,312.1L311.2,310.9L311.3,310.2L311.4,314.7L311.5,320.0L311.6,316.3L311.8,325.5L311.9,320.1L312.0,318.0L312.1,317.2L312.2,322.9L312.3,323.8L312.5,312.0L312.6,320.1L312.7,324.4L312.8,322.9L312.9,318.2L313.0,313.8L313.2,318.1L313.3,313.5L313.4,317.0L313.5,316.1L313.6,314.4L313.8,320.1L313.9,318.8L314.0,323.1L314.1,325.9L314.2,322.7L314.3,329.1L314.5,325.9L314.6,328.5L314.7,324.9L314.8,325.5L314.9,318.9L315.0,322.3L315.2,322.4L315.3,316.9L315.4,333.9L315.5,327.4L315.6,333.1L315.7,322.4L315.9,320.0L316.0,318.3L316.1,318.7L316.2,322.1L316.3,311.8L316.4,316.9L316.6,319.0L316.7,322.4L316.8,317.1L316.9,320.7L317.0,320.6L317.1,318.0L317.3,317.5L317.4,320.7L317.5,312.6L317.6,320.8L317.7,321.6L317.8,317.1L318.0,318.7L318.1,319.8L318.2,322.3L318.3,321.2L318.4,323.9L318.5,328.4L318.7,320.4L318.8,327.7L318.9,325.6L319.0,322.7L319.1,325.5L319.2,315.4L319.4,330.3L319.5,327.7L319.6,324.5L319.7,320.0L319.8,326.1L319.9,330.5L320.1,320.8L320.2,327.9L320.3,324.7L320.4,320.3L320.5,326.0L320.6,325.4L320.8,322.5L320.9,325.5L321.0,324.0L321.1,328.7L321.2,325.7L321.3,329.4L321.5,331.4L321.6,319.7L321.7,325.0L321.8,323.8L321.9,331.1L322.1,327.9L322.2,328.5L322.3,332.7L322.4,325.0L322.5,329.0L322.6,326.5L322.8,330.8L322.9,321.3L323.0,322.0L323.1,323.2L323.2,327.6L323.3,325.7L323.5,318.6L323.6,323.5L323.7,321.2L323.8,321.7L323.9,326.6L324.0,317.3L324.2,330.3L324.3,322.1L324.4,322.9L324.5,328.1L324.6,320.5L324.7,319.5L324.9,320.9L325.0,324.0L325.1,319.3L325.2,317.0L325.3,320.7L325.4,315.7L325.6,319.5L325.7,320.4L325.8,318.5L325.9,326.1L326.0,325.4L326.1,321.1L326.3,320.4L326.4,315.8L326.5,316.2L326.6,318.6L326.7,317.3L326.8,318.0L327.0,317.4L327.1,317.1L327.2,312.0L327.3,317.4L327.4,317.6L327.5,316.4L327.7,319.5L327.8,318.8L327.9,325.9L328.0,316.3L328.1,318.3L328.2,315.6L328.4,313.9L328.5,320.9L328.6,304.0L328.7,311.2L328.8,310.3L328.9,316.9L329.1,307.6L329.2,308.2L329.3,310.8L329.4,308.6L329.5,304.8L329.6,310.8L329.8,312.8L329.9,304.5L330.0,308.4L330.1,310.1L330.2,301.4L330.4,309.5L330.5,310.9L330.6,309.3L330.7,311.4L330.7,308.4L330.8,307.7L330.9,309.7L331.1,307.7L331.2,305.7L331.3,306.0L331.4,306.2L331.5,306.7L331.6,309.4L331.8,309.1L331.9,312.0L332.0,311.1L332.1,306.3L332.2,313.3L332.3,305.3L332.5,296.7L332.6,307.4L332.7,298.3L332.8,304.2L332.9,299.0L333.0,296.2L333.2,295.9L333.3,299.0L333.4,298.4L333.5,297.2L333.6,293.2L333.7,293.2L333.9,291.7L334.0,290.5L334.1,289.9L334.2,289.7L334.2,290.1L334.3,292.1L334.4,289.9L334.6,295.0L334.7,292.1L334.8,295.3L334.9,296.1L335.0,298.0L335.1,299.3L335.3,300.3L335.4,302.2L335.5,305.2L335.6,302.7L335.7,306.7L335.8,303.3L336.0,307.4L336.1,309.3L336.2,306.6L336.3,305.4L336.4,310.4L336.5,308.1L336.7,302.2L336.8,309.0L336.9,307.8L337.0,304.1L337.1,306.7L337.2,308.2L337.4,304.0L337.5,296.9L337.6,292.9L337.7,288.8L337.8,284.3L338.0,280.9L338.1,273.5L338.2,268.0L338.3,264.2L338.4,258.9L338.5,255.3L338.7,251.8L338.8,249.5L338.9,248.2L339.0,248.0L339.0,248.0L339.1,249.0L339.2,251.1L339.4,253.9L339.5,257.4L339.6,261.7L339.7,265.2L339.8,270.7L339.9,276.4L340.1,284.8L340.2,286.7L340.3,291.8L340.4,297.7L340.5,302.0L340.6,302.3L340.8,303.9L340.9,303.7L341.0,307.4L341.1,314.4L341.2,313.2L341.3,320.0L341.5,314.8L341.6,317.4L341.7,321.5L341.8,320.1L341.9,320.3L342.0,321.0L342.2,313.0L342.3,305.6L342.4,313.1L342.5,311.8L342.6,314.8L342.7,316.8L342.9,307.7L343.0,317.5L343.1,315.2L343.2,317.7L343.3,315.8L343.4,318.7L343.6,316.7L343.7,323.4L343.8,318.6L343.9,312.3L344.0,319.9L344.1,317.4L344.3,309.2L344.4,312.6L344.5,310.8L344.6,324.3L344.7,317.7L344.8,325.3L345.0,328.1L345.1,323.3L345.2,321.4L345.3,331.0L345.4,328.5L345.5,325.1L345.7,322.1L345.8,325.7L345.9,312.5L346.0,319.3L346.1,323.9L346.3,325.8L346.4,316.5L346.5,317.4L346.6,327.3L346.7,323.5L346.8,318.9L347.0,326.4L347.1,322.7L347.2,314.5L347.3,321.2L347.4,319.8L347.5,322.8L347.7,320.3L347.8,314.4L347.9,319.1L348.0,319.8L348.1,316.2L348.2,306.4L348.4,311.6L348.5,314.0L348.6,311.3L348.7,310.2L348.8,311.2L348.9,317.8L349.1,309.5L349.2,310.7L349.3,306.3L349.4,314.2L349.4,305.6L349.5,311.8L349.6,317.0L349.8,306.8L349.9,314.5L350.0,312.2L350.1,314.9L350.2,310.9L350.3,311.4L350.5,311.7L350.6,313.5L350.7,322.2L350.8,322.6L350.9,315.8L351.0,320.2L351.2,315.3L351.3,316.9L351.4,323.2L351.5,322.2L351.6,322.7L351.7,321.7L351.9,319.0L352.0,315.6L352.1,313.2L352.2,322.0L352.3,321.2L352.4,314.4L352.6,318.0L352.7,321.5L352.8,331.9L352.9,327.5L353.0,323.4L353.1,326.0L353.3,316.2L353.4,322.9L353.5,322.0L353.6,326.9L353.7,326.7L353.8,325.4L354.0,325.3L354.1,323.9L354.2,321.6L354.3,321.8L354.4,318.7L354.6,326.9L354.7,320.6L354.8,320.0L354.9,314.4L355.0,320.4L355.1,317.7L355.3,321.3L355.4,316.5L355.5,316.5L355.6,320.5L355.7,320.1L355.8,319.1L356.0,317.3L356.1,324.1L356.2,316.9L356.3,321.6L356.4,313.3L356.5,314.7L356.7,321.2L356.8,321.7L356.9,310.0L357.0,316.5L357.1,316.4L357.2,319.5L357.4,317.7L357.5,313.2L357.6,312.8L357.7,317.2L357.8,308.9L357.9,312.0L358.1,316.8L358.2,310.4L358.3,315.9L358.4,313.7L358.5,319.9L358.6,317.2L358.8,324.5L358.9,316.5L359.0,322.6L359.1,315.8L359.2,325.6L359.3,317.4L359.5,315.9L359.6,318.2L359.7,316.9L359.8,324.5L359.9,315.3L360.0,313.2L360.2,316.9L360.3,310.6L360.4,303.8L360.5,295.7L360.6,287.8L360.7,282.4L360.9,272.6L361.0,266.6L361.1,261.8L361.2,259.1L361.3,258.8L361.3,259.1L361.4,261.6L361.6,266.4L361.7,271.8L361.8,278.6L361.9,286.8L362.0,295.0L362.2,299.1L362.3,301.2L362.4,306.9L362.5,304.4L362.6,311.1L362.7,313.7L362.9,315.3L363.0,321.7L363.1,320.7L363.2,323.9L363.3,330.7L363.4,328.9L363.6,319.6L363.7,323.5L363.8,321.8L363.9,326.4L364.0,322.9L364.1,317.7L364.3,320.2L364.4,322.5L364.5,315.1L364.6,321.1L364.7,322.3L364.8,316.7L365.0,327.0L365.1,318.2L365.2,323.8L365.3,322.4L365.4,322.0L365.5,319.5L365.7,320.3L365.8,320.4L365.9,321.5L366.0,317.6L366.1,316.7L366.2,320.2L366.4,320.1L366.5,324.3L366.6,327.4L366.7,321.7L366.8,324.4L366.9,322.1L367.1,332.4L367.2,316.1L367.3,330.6L367.4,325.7L367.5,322.1L367.6,330.9L367.8,328.2L367.9,334.1L368.0,332.5L368.1,334.6L368.2,326.9L368.3,325.4L368.5,326.5L368.6,319.3L368.7,317.6L368.8,321.8L368.9,322.0L369.0,322.2L369.2,323.2L369.3,317.4L369.4,322.0L369.5,324.6L369.6,324.3L369.7,321.2L369.9,324.3L370.0,321.4L370.1,322.8L370.2,318.2L370.3,319.7L370.5,329.8L370.6,325.7L370.7,322.5L370.8,326.3L370.9,321.1L371.0,322.2L371.2,320.8L371.3,322.9L371.4,321.4L371.5,320.6L371.6,327.2L371.7,325.0L371.9,325.0L372.0,316.6L372.1,320.5L372.2,320.0L372.3,319.6L372.4,319.7L372.6,317.9L372.7,312.2L372.8,311.5L372.9,305.9L373.0,305.6L373.1,303.7L373.3,302.6L373.4,301.6L373.5,301.3L373.5,302.0L373.6,299.7L373.7,304.1L373.8,304.3L374.0,305.6L374.1,309.9L374.2,311.9L374.3,313.7L374.4,319.5L374.5,314.6L374.7,317.2L374.8,318.1L374.9,318.4L375.0,318.8L375.1,313.5L375.2,321.4L375.4,320.5L375.5,325.9L375.6,323.3L375.7,325.6L375.8,324.6L375.9,326.9L376.1,326.6L376.2,322.2L376.3,321.5L376.4,322.8L376.5,327.1L376.6,323.5L376.8,333.8L376.9,321.1L377.0,324.9L377.1,324.3L377.2,321.8L377.3,328.6L377.5,324.7L377.6,330.7L377.7,327.4L377.8,330.5L377.9,326.7L378.0,320.7L378.2,326.2L378.3,324.2L378.4,321.7L378.5,318.7L378.6,309.7L378.8,322.3L378.9,328.4L379.0,324.4L379.1,328.9L379.2,326.1L379.3,324.4L379.5,327.7L379.6,325.9L379.7,329.1L379.8,320.6L379.9,323.4L380.0,316.8L380.2,317.6L380.3,325.6L380.4,324.8L380.5,324.2L380.6,322.3L380.7,331.6L380.9,325.8L381.0,318.6L381.1,325.5L381.2,324.2L381.3,325.0L381.4,329.8L381.6,322.8L381.7,326.3L381.8,327.6L381.9,326.2L382.0,326.1L382.1,335.3L382.3,326.3L382.4,329.5L382.5,326.7L382.6,329.7L382.7,330.4L382.8,324.5L383.0,327.7L383.1,328.3L383.2,327.9L383.3,326.2L383.4,325.8L383.5,331.1L383.7,325.8L383.8,322.9L383.9,319.2L384.0,316.6L384.1,319.7L384.2,313.2L384.4,315.1L384.5,313.4L384.6,313.7L384.7,312.8L384.8,309.8L384.9,310.9L385.1,310.3L385.2,308.9L385.2,309.0L385.3,311.2L385.4,310.2L385.5,310.5L385.6,309.2L385.8,309.1L385.9,313.3L386.0,313.8L386.1,314.2L386.2,314.7L386.4,318.6L386.5,317.2L386.6,321.7L386.7,327.9L386.8,326.0L386.9,323.0L387.1,322.4L387.2,332.4L387.3,331.5L387.4,325.6L387.5,336.0L387.6,322.0L387.8,319.3L387.9,332.5L388.0,319.4L388.1,323.1L388.2,318.0L388.3,322.8L388.5,325.2L388.6,324.1L388.7,320.9L388.8,323.1L388.9,322.9L389.0,327.4L389.2,319.6L389.3,320.5L389.4,313.5L389.5,320.1L389.6,320.4L389.7,322.6L389.9,318.2L390.0,322.1L390.1,324.7L390.2,317.2L390.3,317.7L390.4,327.2L390.6,330.7L390.7,324.2L390.8,332.4L390.9,319.8L391.0,330.8L391.1,326.6L391.3,334.4L391.4,329.4L391.5,324.8L391.6,326.8L391.7,330.0L391.8,318.8L392.0,324.8L392.1,328.0L392.2,329.0L392.3,327.6L392.4,321.6L392.5,329.4L392.7,326.8L392.8,330.4L392.9,323.2L393.0,328.6L393.1,324.8L393.2,325.6L393.4,329.5L393.5,324.5L393.6,323.4L393.7,330.8L393.8,323.8L393.9,313.0L394.1,326.6L394.2,322.7L394.3,329.7L394.4,323.2L394.5,327.3L394.7,322.8L394.8,326.1L394.9,330.4L395.0,322.2L395.1,326.9L395.2,329.6L395.4,325.3L395.5,328.6L395.6,322.8L395.7,323.6L395.8,323.7L395.9,318.9L396.1,325.3L396.2,316.7L396.3,327.7L396.4,315.3L396.5,321.9L396.6,325.4L396.8,329.3L396.9,326.7L397.0,330.7L397.1,331.3L397.2,326.4L397.3,330.4L397.5,327.7L397.6,323.2L397.7,319.1L397.8,322.3L397.9,320.5L398.0,320.8L398.2,318.4L398.3,316.1L398.4,325.5L398.5,323.3L398.6,323.8L398.7,322.4L398.9,320.0L399.0,326.4L399.1,326.1L399.2,322.8L399.3,331.2L399.4,328.9L399.6,327.0L399.7,324.8L399.8,323.6L399.9,326.4L400.0,318.4L400.1,327.9L400.3,326.4L400.4,321.9L400.5,322.8L400.6,325.4L400.7,323.5L400.8,321.6L401.0,324.5L401.1,321.9L401.2,327.4L401.3,323.4L401.4,329.1L401.5,326.0L401.7,326.6L401.8,317.8L401.9,324.2L402.0,321.7L402.1,326.6L402.2,324.3L402.4,324.8L402.5,327.0L402.6,320.4L402.7,329.1L402.8,320.1L403.0,312.4L403.1,325.4L403.2,323.3L403.3,330.8L403.4,327.1L403.5,335.0L403.7,327.3L403.8,331.7L403.9,336.2L404.0,333.3L404.1,333.4L404.2,327.7L404.4,322.8L404.5,327.0L404.6,329.7L404.7,328.4L404.8,324.9L404.9,333.9L405.1,323.0L405.2,323.3L405.3,332.8L405.4,320.1L405.5,329.0L405.6,323.8L405.8,318.9L405.9,326.8L406.0,326.3L406.1,323.1L406.2,321.7L406.3,317.9L406.5,317.5L406.6,316.1L406.7,314.8L406.8,312.9L406.9,312.6L407.0,309.3L407.2,308.3L407.3,308.1L407.4,303.9L407.5,306.3L407.6,304.0L407.7,305.3L407.8,305.1L407.9,304.5L408.0,304.6L408.1,304.5L408.2,307.6L408.3,303.8L408.4,307.5L408.6,310.3L408.7,312.6L408.8,307.5L408.9,310.4L409.0,315.8L409.1,316.0L409.3,316.3L409.4,320.9L409.5,323.6L409.6,323.3L409.7,320.9L409.8,323.3L410.0,326.7L410.1,319.1L410.2,326.3L410.3,321.8L410.4,314.0L410.5,317.1L410.7,317.1L410.8,317.9L410.9,314.9L411.0,319.1L411.1,325.9L411.3,317.6L411.4,329.4L411.5,325.4L411.6,312.2L411.7,314.8L411.8,321.3L412.0,321.1L412.1,321.8L412.2,319.7L412.3,327.4L412.4,328.8L412.5,328.9L412.7,327.0L412.8,327.5L412.9,330.7L413.0,326.8L413.1,333.3L413.2,329.3L413.4,330.6L413.5,330.7L413.6,321.6L413.7,326.9L413.8,329.7L413.9,326.7L414.1,331.7L414.2,326.9L414.3,326.8L414.4,326.3L414.5,333.7L414.6,329.5L414.8,321.2L414.9,327.7L415.0,321.2L415.1,319.5L415.2,329.8L415.3,320.3L415.5,322.2L415.6,322.1L415.7,319.3L415.8,323.7L415.9,324.7L416.0,322.3L416.2,325.4L416.3,322.3L416.4,332.0L416.5,319.1L416.6,328.7L416.7,326.0L416.9,328.0L417.0,329.5L417.1,329.8L417.2,329.7L417.3,335.5L417.4,331.0L417.6,324.3L417.7,332.5L417.8,332.8L417.9,321.0L418.0,323.9L418.1,321.7L418.3,326.4L418.4,324.3L418.5,321.9L418.6,322.6L418.7,325.5L418.9,331.3L419.0,329.5L419.1,333.2L419.2,322.5L419.3,330.3L419.4,329.6L419.6,327.6L419.7,327.8L419.8,324.6L419.9,327.2L420.0,328.7L420.1,315.2L420.3,323.3L420.4,322.0L420.5,323.0L420.6,322.2L420.7,320.1L420.8,317.4L421.0,323.9L421.1,318.9L421.2,322.5L421.3,315.9L421.4,325.3L421.5,321.0L421.7,319.3L421.8,327.2L421.9,321.9L422.0,321.5L422.1,324.4L422.2,321.5L422.4,316.4L422.5,318.4L422.6,320.1L422.7,318.7L422.8,315.7L422.9,312.2L423.1,313.5L423.2,313.6L423.3,310.4L423.4,321.6L423.5,321.0L423.6,323.8L423.8,312.2L423.9,323.4L424.0,315.4L424.1,312.9L424.2,321.5L424.3,319.5L424.3,318.7L424.5,315.4L424.6,323.7L424.7,317.0L424.8,315.6L424.9,317.7L425.0,318.0L425.2,314.6L425.3,319.0L425.4,320.4L425.5,321.9L425.6,318.4L425.7,321.5L425.9,317.7L426.0,319.1L426.1,315.0L426.2,321.6L426.3,318.2L426.4,317.1L426.6,316.7L426.7,313.9L426.8,316.5L426.9,314.8L427.0,311.6L427.2,316.9L427.3,325.4L427.4,328.8L427.5,323.3L427.6,328.9L427.7,327.9L427.9,330.7L428.0,326.1L428.1,327.1L428.2,335.8L428.3,330.5L428.4,331.8L428.6,334.2L428.7,325.4L428.8,326.7L428.9,323.4L429.0,315.6L429.1,320.2L429.3,322.2L429.4,329.3L429.5,333.7L429.6,326.4L429.7,332.8L429.8,331.9L430.0,333.2L430.1,331.0L430.2,321.9L430.3,330.9L430.4,329.9L430.5,327.2L430.7,326.1L430.8,330.7L430.9,332.1L431.0,327.2L431.1,325.2L431.2,326.4L431.4,326.1L431.5,324.8L431.6,321.9L431.7,320.4L431.8,325.9L431.9,322.8L432.1,320.9L432.2,324.2L432.3,330.2L432.4,327.9L432.5,327.6L432.6,325.4L432.8,334.4L432.9,326.4L433.0,330.5L433.1,327.9L433.2,325.6L433.3,330.2L433.5,328.7L433.6,324.6L433.7,319.7L433.8,322.5L433.9,324.0L434.0,320.3L434.2,316.1L434.3,313.6L434.4,320.6L434.5,321.2L434.6,321.9L434.7,322.6L434.9,326.1L435.0,324.6L435.1,322.7L435.2,323.8L435.3,325.1L435.5,330.1L435.6,329.7L435.7,331.4L435.8,325.7L435.9,324.5L436.0,328.3L436.2,323.4L436.3,329.5L436.4,328.9L436.5,332.1L436.6,326.5L436.7,329.2L436.9,327.7L437.0,326.8L437.1,329.7L437.2,332.9L437.3,328.6L437.4,328.1L437.6,327.1L437.7,324.4L437.8,327.5L437.9,327.9L438.0,321.0L438.1,323.5L438.3,327.3L438.4,329.7L438.5,327.0L438.6,323.2L438.7,321.0L438.8,315.4L439.0,325.3L439.1,324.7L439.2,327.4L439.3,326.7L439.4,328.9L439.5,331.8L439.7,324.5L439.8,327.8L439.9,323.7L440.0,330.0L440.1,327.0L440.2,325.2L440.4,333.8L440.5,331.3L440.6,323.6L440.7,325.7L440.8,332.4L440.9,328.4L441.1,329.6L441.2,327.8L441.3,321.0L441.4,328.9L441.5,320.1L441.6,328.3L441.8,329.8L441.9,321.1L442.0,322.4L442.1,320.1L442.2,317.6L442.3,320.7L442.5,320.7L442.6,332.2L442.7,330.4L442.8,327.4L442.9,329.7L443.1,329.0L443.2,334.3L443.3,329.3L443.4,326.7L443.5,332.0L443.6,330.9L443.8,331.6L443.9,329.3L444.0,331.0L444.1,332.9L444.2,330.1L444.3,330.4L444.5,336.0L444.6,329.3L444.7,329.2L444.8,327.5L444.9,329.1L445.0,324.7L445.2,323.7L445.3,328.2L445.4,324.5L445.5,323.0L445.6,323.1L445.7,329.1L445.9,329.5L446.0,325.8L446.1,329.6L446.2,317.3L446.3,329.5L446.4,330.0L446.6,325.4L446.7,329.8L446.8,336.6L446.9,328.7L447.0,331.4L447.1,329.6L447.3,333.5L447.4,331.1L447.5,328.6L447.6,328.3L447.7,331.7L447.8,329.8L448.0,329.6L448.1,325.3L448.2,325.5L448.3,328.8L448.4,321.8L448.5,326.4L448.7,322.8L448.8,327.7L448.9,323.6L449.0,325.2L449.1,324.4L449.2,322.4L449.4,322.4L449.5,323.3L449.6,323.6L449.7,329.1L449.8,325.3L449.9,332.9L450.1,332.9L450.2,325.4L450.3,324.2L450.4,317.0L450.5,319.1L450.6,317.0L450.8,322.1L450.9,320.2L451.0,319.1L451.1,323.2L451.2,326.0L451.4,328.9L451.5,334.0L451.6,334.7L451.7,336.6L451.8,329.5L451.9,330.8L452.1,330.8L452.2,325.5L452.3,327.3L452.4,320.2L452.5,316.1L452.6,320.5L452.8,324.3L452.9,327.4L453.0,315.7L453.1,322.2L453.2,329.2L453.3,322.7L453.5,333.9L453.6,331.0L453.7,331.5L453.8,332.8L453.9,336.0L454.0,323.7L454.2,333.6L454.3,330.9L454.4,332.4L454.5,338.5L454.6,335.1L454.7,332.4L454.9,329.6L455.0,333.6L455.1,330.4L455.2,332.3L455.3,328.5L455.4,338.8L455.6,327.7L455.7,332.0L455.8,332.1L455.9,340.7L456.0,335.2L456.1,330.1L456.3,324.7L456.4,335.6L456.5,335.3L456.6,330.7L456.7,330.7L456.8,333.1L457.0,330.9L457.1,331.1L457.2,327.2L457.3,326.4L457.4,323.0L457.5,326.0L457.7,326.9L457.8,328.5L457.9,325.6L458.0,332.4L458.1,321.5L458.2,328.8L458.4,325.6L458.5,334.2L458.6,328.2L458.7,330.6L458.8,332.8L458.9,334.6L459.1,335.5L459.2,326.3L459.3,328.6L459.4,332.4L459.5,331.7L459.7,334.3L459.8,337.5L459.9,336.8L460.0,332.4L460.1,331.0L460.2,335.0L460.4,328.4L460.5,329.5L460.6,330.4L460.7,336.3L460.8,329.4L460.9,327.2L461.1,330.2L461.2,332.5L461.3,317.6L461.4,322.5L461.5,326.8L461.6,320.8L461.8,323.4L461.9,326.4L462.0,327.6L462.1,326.0L462.2,324.0L462.3,329.8L462.5,332.0L462.6,330.3L462.7,343.3L462.8,333.4L462.9,334.8L463.0,332.3L463.2,331.4L463.3,328.0L463.4,327.5L463.5,326.7L463.6,326.8L463.7,324.5L463.9,327.8L464.0,322.6L464.1,332.2L464.2,325.7L464.3,325.2L464.4,331.9L464.6,329.4L464.7,323.7L464.8,329.5L464.9,332.8L465.0,340.8L465.1,329.5L465.3,330.8L465.4,329.4L465.5,324.6L465.6,332.1L465.7,331.8L465.8,334.8L466.0,332.7L466.1,332.6L466.2,329.8L466.3,330.3L466.4,334.6L466.5,332.8L466.7,325.1L466.8,332.0L466.9,324.3L467.0,319.7L467.1,322.2L467.3,323.3L467.4,319.6L467.5,324.0L467.6,326.3L467.7,328.1L467.8,324.2L468.0,326.6L468.1,324.0L468.2,331.0L468.3,331.0L468.4,331.4L468.5,328.8L468.7,332.2L468.8,326.5L468.9,328.8L469.0,334.1L469.1,342.1L469.2,339.2L469.4,328.7L469.5,335.0L469.6,334.7L469.7,336.8L469.8,333.7L469.9,341.8L470.1,341.9L470.2,340.5L470.3,334.4L470.4,332.2L470.5,333.2L470.6,335.8L470.8,340.5L470.9,333.7L471.0,338.0L471.1,337.1L471.2,336.9L471.3,337.3L471.5,336.8L471.6,334.7L471.7,335.7L471.8,329.1L471.9,329.8L472.0,325.3L472.2,335.4L472.3,325.0L472.4,329.7L472.5,330.4L472.6,333.1L472.7,333.6L472.9,336.5L473.0,328.5L473.1,332.7L473.2,329.5L473.3,329.0L473.4,333.4L473.6,332.1L473.7,332.3L473.8,327.5L473.9,331.0L474.0,331.2L474.1,329.3L474.3,331.7L474.4,323.4L474.5,332.9L474.6,323.9L474.7,322.3L474.8,330.5L475.0,322.8L475.1,324.8L475.2,323.0L475.3,330.9L475.4,326.5L475.6,331.4L475.7,329.6L475.8,323.6L475.9,329.0L476.0,336.2L476.1,332.5L476.3,330.9L476.4,322.5L476.5,328.0L476.6,330.7L476.7,321.2L476.8,324.7L477.0,325.2L477.1,330.5L477.2,324.0L477.3,331.0L477.4,339.0L477.5,337.1L477.7,336.9L477.8,335.3L477.9,332.7L478.0,338.6L478.1,338.5L478.2,328.5L478.4,335.5L478.5,336.8L478.6,333.6L478.7,337.1L478.8,330.1L478.9,328.3L479.1,333.8L479.2,328.3L479.3,332.9L479.4,330.5L479.5,333.5L479.6,332.9L479.8,334.7L479.9,328.1L480.0,329.6L480.1,329.5L480.2,333.0L480.3,333.8L480.5,332.8L480.6,329.8L480.7,331.1L480.8,334.8L480.9,331.2L481.0,325.5L481.2,330.9L481.3,323.7L481.4,329.3L481.5,326.0L481.6,332.3L481.7,325.5L481.9,332.4L482.0,325.3L482.1,325.1L482.2,328.8L482.3,324.8L482.4,314.8L482.6,316.5L482.7,313.4L482.8,317.2L482.9,328.2L483.0,316.8L483.1,319.4L483.3,318.9L483.4,318.3L483.5,318.9L483.6,318.8L483.7,310.1L483.9,311.9L484.0,314.9L484.1,313.3L484.2,308.0L484.3,310.0L484.4,310.7L484.6,315.8L484.7,313.0L484.8,315.2L484.9,317.7L485.0,307.3L485.1,311.3L485.2,311.4L485.3,313.2L485.4,307.2L485.5,302.5L485.6,308.1L485.7,307.1L485.8,315.0L486.0,310.2L486.1,310.2L486.2,305.9L486.3,311.5L486.4,315.3L486.5,312.9L486.7,315.0L486.8,309.3L486.9,313.1L487.0,315.3L487.1,317.1L487.2,316.1L487.4,322.3L487.5,325.3L487.6,330.2L487.7,320.6L487.8,324.2L487.9,324.3L488.1,326.4L488.2,320.1L488.3,328.4L488.4,319.3L488.5,325.2L488.6,322.8L488.8,324.7L488.9,319.8L489.0,321.2L489.1,319.1L489.2,323.6L489.3,327.5L489.5,321.8L489.6,320.4L489.7,323.4L489.8,326.9L489.9,325.6L490.0,332.9L490.2,327.7L490.3,321.9L490.4,324.0L490.5,328.5L490.6,322.5L490.7,326.4L490.9,324.0L491.0,332.7L491.1,330.9L491.2,329.4L491.3,331.0L491.4,331.1L491.6,333.4L491.7,333.6L491.8,330.3L491.9,327.8L492.0,335.4L492.2,330.6L492.3,330.3L492.4,329.5L492.5,327.1L492.6,335.9L492.7,329.2L492.9,336.5L493.0,331.7L493.1,329.2L493.2,326.7L493.3,326.6L493.4,325.4L493.6,324.2L493.7,323.6L493.8,328.8L493.9,327.0L494.0,323.7L494.1,320.7L494.3,320.0L494.4,314.7L494.5,326.0L494.6,330.6L494.7,328.5L494.8,327.9L495.0,330.9L495.1,336.0L495.2,333.3L495.3,333.5L495.4,338.6L495.5,338.1L495.7,329.9L495.8,342.4L495.9,334.6L496.0,337.0L496.1,332.1L496.2,335.8L496.4,341.8L496.5,335.0L496.6,341.7L496.7,332.5L496.8,333.0L496.9,337.8L497.1,333.0L497.2,332.9L497.3,334.8L497.4,326.2L497.5,327.6L497.6,325.9L497.8,325.6L497.9,325.2L498.0,327.6L498.1,332.6L498.2,332.9L498.3,332.3L498.5,334.5L498.6,334.8L498.7,327.0L498.8,331.3L498.9,325.9L499.0,335.0L499.2,332.3L499.3,333.7L499.4,333.7L499.5,333.5L499.6,333.0L499.8,334.1L499.9,326.0L500.0,329.6L500.1,334.1L500.2,332.8L500.3,327.6L500.5,327.6L500.6,331.2L500.7,325.6L500.8,333.8L500.9,330.5L501.0,322.8L501.2,337.7L501.3,328.7L501.4,323.6L501.5,326.8L501.6,328.6L501.7,329.0L501.9,333.7L502.0,331.8L502.1,327.8L502.2,330.7L502.3,329.2L502.4,329.8L502.6,328.3L502.7,335.0L502.8,330.3L502.9,330.7L503.0,331.3L503.1,334.3L503.3,339.9L503.4,330.7L503.5,330.3L503.6,324.3L503.7,328.9L503.8,324.1L504.0,326.3L504.1,328.5L504.2,324.9L504.3,330.7L504.4,326.3L504.5,328.3L504.7,332.4L504.8,324.8L504.9,325.1L505.0,327.0L505.1,325.0L505.2,321.3L505.4,326.8L505.5,330.3L505.6,328.0L505.7,321.1L505.8,321.1L505.9,325.3L506.1,313.5L506.2,315.9L506.3,310.1L506.4,311.8L506.5,318.2L506.6,317.8L506.8,322.4L506.9,324.4L507.0,323.8L507.1,321.9L507.2,319.3L507.3,327.4L507.5,321.9L507.6,324.3L507.7,325.1L507.8,320.2L507.9,325.2L508.1,319.0L508.2,324.9L508.3,327.1L508.4,321.4L508.5,329.4L508.5,328.6L508.6,325.0L508.8,324.2L508.9,325.0L509.0,330.6L509.1,327.9L509.2,320.9L509.3,320.1L509.5,324.9L509.6,320.0L509.7,319.9L509.8,316.7L509.9,322.3L510.0,313.7L510.2,318.5L510.3,310.7L510.4,310.9L510.5,316.5L510.6,313.4L510.7,311.3L510.9,309.5L511.0,319.3L511.1,317.9L511.2,316.0L511.3,318.7L511.4,326.4L511.6,327.9L511.7,324.8L511.8,331.1L511.9,327.3L512.0,325.1L512.1,328.1L512.3,337.3L512.4,323.1L512.5,322.4L512.6,320.8L512.7,322.0L512.8,330.4L513.0,319.0L513.1,322.7L513.2,320.9L513.3,325.6L513.4,327.1L513.5,328.5L513.7,323.3L513.8,328.9L513.9,331.1L514.0,335.0L514.1,328.7L514.2,330.2L514.4,329.7L514.5,327.0L514.6,328.3L514.7,331.1L514.8,330.4L514.9,330.6L515.1,327.8L515.2,327.2L515.3,328.4L515.4,331.6L515.5,325.7L515.6,326.2L515.8,334.5L515.9,331.0L516.0,335.4L516.1,343.1L516.2,336.3L516.4,332.8L516.5,338.2L516.6,337.1L516.7,329.8L516.8,336.1L516.9,334.3L517.1,331.0L517.2,326.5L517.3,325.5L517.4,328.7L517.5,327.5L517.6,326.2L517.8,328.7L517.9,331.7L518.0,334.2L518.1,329.7L518.2,334.6L518.3,324.8L518.5,333.1L518.6,337.5L518.7,333.7L518.8,331.0L518.9,329.1L519.0,327.3L519.2,326.1L519.3,327.6L519.4,324.8L519.5,320.1L519.6,330.5L519.7,331.7L519.9,329.3L520.0,328.6L520.1,331.1L520.2,330.5L520.3,335.6L520.4,336.7L520.6,333.7L520.7,333.3L520.8,328.9L520.9,327.8L521.0,338.0L521.1,327.1L521.3,330.8L521.4,335.0L521.5,325.9L521.6,327.8L521.7,328.6L521.8,332.1L522.0,331.4L522.1,328.7L522.2,333.1L522.3,327.8L522.4,326.4L522.5,326.5L522.7,324.0L522.8,324.4L522.9,327.5L523.0,326.3L523.1,321.6L523.2,317.9L523.4,320.0L523.5,321.4L523.6,318.0L523.7,323.8L523.8,319.7L524.0,316.2L524.1,313.9L524.2,313.7L524.3,312.6L524.4,315.2L524.5,312.6L524.7,309.4L524.8,316.6L524.9,314.4L525.0,311.6L525.1,305.4L525.2,308.6L525.4,305.6L525.5,306.5L525.6,312.6L525.7,311.0L525.7,314.4L525.8,305.5L525.9,306.4L526.1,306.4L526.2,305.7L526.3,306.3L526.4,307.2L526.5,307.1L526.6,304.1L526.8,311.6L526.9,313.3L527.0,310.7L527.1,308.1L527.2,313.2L527.3,316.8L527.5,315.2L527.6,319.6L527.7,328.3L527.8,326.2L527.9,330.5L528.0,324.0L528.2,324.5L528.3,320.9L528.4,314.7L528.5,324.0L528.6,321.9L528.7,323.5L528.9,332.6L529.0,326.2L529.1,327.0L529.2,324.7L529.3,330.1L529.4,333.4L529.6,328.7L529.7,333.1L529.8,337.9L529.9,338.9L530.0,338.1L530.1,334.2L530.3,331.6L530.4,340.4L530.5,330.9L530.6,334.0L530.7,332.2L530.8,329.4L531.0,335.6L531.1,328.5L531.2,335.6L531.3,332.2L531.4,333.3L531.5,324.3L531.7,324.7L531.8,328.3L531.9,330.0L532.0,334.7L532.1,327.6L532.3,329.5L532.4,331.5L532.5,334.8L532.6,335.0L532.7,333.2L532.8,327.3L533.0,334.4L533.1,329.9L533.2,324.0L533.3,326.0L533.4,322.5L533.5,326.8L533.7,326.6L533.8,323.7L533.9,327.0L534.0,329.2L534.1,333.2L534.2,337.3L534.4,326.9L534.5,332.8L534.6,332.7L534.7,325.5L534.8,330.5L534.9,331.5L535.1,328.7L535.2,327.4L535.3,326.9L535.4,326.7L535.5,325.5L535.6,329.6L535.8,328.0L535.9,329.5L536.0,330.9L536.1,326.6L536.2,326.1L536.3,320.2L536.5,323.9L536.6,327.7L536.7,322.4L536.8,324.6L536.9,317.8L537.0,329.4L537.2,326.5L537.3,327.8L537.4,326.5L537.5,328.7L537.6,334.4L537.7,335.3L537.9,327.4L538.0,321.6L538.1,320.3L538.2,325.3L538.3,321.0L538.4,324.5L538.6,325.5L538.7,315.4L538.8,316.9L538.9,320.6L539.0,321.4L539.0,318.0L539.1,321.1L539.3,324.2L539.4,322.4L539.5,323.4L539.6,324.5L539.7,325.3L539.8,319.6L540.0,324.6L540.1,327.0L540.2,316.1L540.3,317.1L540.4,318.3L540.6,318.9L540.7,316.9L540.8,322.2L540.9,317.4L541.0,317.2L541.1,320.1L541.3,319.4L541.4,324.9L541.5,322.6L541.6,329.3L541.7,324.2L541.8,326.1L542.0,328.2L542.1,324.5L542.2,322.7L542.3,324.7L542.4,319.7L542.5,325.9L542.7,321.2L542.8,323.2L542.9,329.3L543.0,323.6L543.1,334.5L543.2,329.0L543.4,331.4L543.5,329.7L543.6,338.3L543.7,337.4L543.8,336.6L543.9,333.7L544.1,333.3L544.2,333.0L544.3,333.2L544.4,333.7L544.5,335.0L544.6,330.9L544.8,326.9L544.9,324.8L545.0,329.9L545.1,324.4L545.2,332.8L545.3,325.6L545.5,332.1L545.6,327.7L545.7,332.2L545.8,332.6L545.9,331.5L546.0,325.3L546.2,333.1L546.3,329.4L546.4,331.7L546.5,332.1L546.6,332.8L546.7,332.3L546.9,338.8L547.0,334.3L547.1,332.5L547.2,334.7L547.3,330.3L547.4,334.0L547.6,327.3L547.7,331.8L547.8,330.1L547.9,326.4L548.0,325.3L548.2,331.0L548.3,331.2L548.4,325.6L548.5,339.0L548.6,324.6L548.7,325.0L548.9,333.5L549.0,326.3L549.1,329.7L549.2,329.8L549.3,339.7L549.4,333.6L549.6,332.5L549.7,333.1L549.8,332.6L549.9,331.8L550.0,339.9L550.1,330.0L550.3,330.9L550.4,328.3L550.5,329.5L550.6,328.2L550.7,328.1L550.8,324.1L551.0,334.4L551.1,327.0L551.2,334.5L551.3,337.2L551.4,339.0L551.5,330.6L551.7,338.2L551.8,329.1L551.9,330.2L552.0,332.4L552.1,331.6L552.2,326.3L552.4,326.1L552.5,323.1L552.6,325.1L552.7,326.8L552.8,323.8L552.9,330.9L553.1,325.3L553.2,329.7L553.3,335.5L553.4,336.7L553.5,335.5L553.6,341.3L553.8,330.1L553.9,331.0L554.0,337.0L554.1,332.3L554.2,324.6L554.3,327.7L554.5,331.5L554.6,334.6L554.7,332.4L554.8,322.6L554.9,325.8L555.0,331.8L555.2,324.9L555.3,328.4L555.4,328.5L555.5,326.5L555.6,324.5L555.7,315.3L555.9,323.0L556.0,320.3L556.1,314.1L556.2,313.6L556.3,322.5L556.5,312.0L556.6,315.0L556.7,323.3L556.8,310.8L556.9,321.2L557.0,312.8L557.2,318.6L557.3,320.7L557.3,311.9L557.4,313.8L557.5,316.2L557.6,315.6L557.7,317.0L557.9,317.9L558.0,321.0L558.1,315.8L558.2,318.5L558.3,320.2L558.4,322.0L558.6,321.5L558.7,326.1L558.8,322.0L558.9,324.6L559.0,317.1L559.1,325.6L559.3,324.9L559.4,324.2L559.5,322.1L559.6,323.5L559.7,324.8L559.8,317.0L560.0,324.4L560.1,323.5L560.2,315.9L560.3,329.8L560.4,324.8L560.5,327.9L560.7,334.9L560.8,332.7L560.9,327.5L561.0,335.2L561.1,330.7L561.2,327.3L561.4,332.6L561.5,332.6L561.6,337.8L561.7,339.4L561.8,340.5L561.9,340.0L562.1,336.2L562.2,337.0L562.3,328.9L562.4,332.2L562.5,331.8L562.6,324.2L562.8,332.5L562.9,335.7L563.0,333.8L563.1,339.7L563.2,335.4L563.3,333.1L563.5,335.6L563.6,338.5L563.7,336.5L563.8,333.2L563.9,329.8L564.0,334.6L564.2,334.1L564.3,328.3L564.4,330.8L564.5,329.9L564.6,329.2L564.8,333.7L564.9,332.2L565.0,329.0L565.1,334.6L565.2,335.9L565.3,334.9L565.5,334.8L565.6,327.0L565.7,338.1L565.8,334.3L565.9,327.4L566.0,334.4L566.2,333.3L566.3,339.6L566.4,330.7L566.5,330.1L566.6,329.1L566.7,331.1L566.9,327.8L567.0,328.2L567.1,324.2L567.2,326.9L567.3,324.1L567.4,331.8L567.6,328.7L567.7,337.9L567.8,328.9L567.9,326.2L568.0,330.3L568.1,322.0L568.3,334.7L568.4,333.4L568.5,336.3L568.6,335.5L568.7,335.7L568.8,339.2L569.0,337.4L569.1,326.7L569.2,334.3L569.3,329.7L569.4,336.6L569.5,331.5L569.7,328.1L569.8,329.5L569.9,330.0L570.0,328.5L570.1,328.0L570.2,325.9L570.4,325.6L570.5,335.6L570.6,339.3L570.7,333.8L570.8,334.0L570.9,332.2L571.1,331.7L571.2,338.2L571.3,329.2L571.4,336.0L571.5,343.6L571.6,334.8L571.8,337.8L571.9,338.3L572.0,344.8L572.1,339.5L572.2,336.4L572.3,335.6L572.5,330.7L572.6,327.2L572.7,325.5L572.8,326.7L572.9,332.7L573.1,327.7L573.2,334.2L573.3,332.9L573.4,336.9L573.5,340.5L573.6,343.0L573.8,333.9L573.9,336.8L574.0,334.6L574.1,331.7L574.2,340.2L574.3,340.8L574.5,333.1L574.6,331.9L574.7,333.1L574.8,332.9L574.9,335.7L575.0,329.7L575.2,331.5L575.3,327.1L575.4,325.3L575.5,330.5L575.6,326.9L575.7,327.4L575.9,325.0L576.0,321.4L576.1,324.0L576.2,323.6L576.3,323.6L576.4,328.4L576.6,327.8L576.7,327.5L576.8,325.4L576.9,326.1L577.0,323.4L577.1,335.7L577.3,332.2L577.4,338.0L577.5,333.7L577.6,337.6L577.7,327.9L577.8,329.8L578.0,336.8L578.1,332.5L578.2,331.8L578.3,328.8L578.4,332.4L578.5,334.9L578.7,335.4L578.8,332.4L578.9,332.9L579.0,334.9L579.1,336.8L579.2,328.2L579.4,334.0L579.5,332.0L579.6,327.9L579.7,330.6L579.8,326.3L579.9,334.0L580.1,327.2L580.2,334.2L580.3,334.5L580.4,332.7L580.5,328.6L580.7,331.6L580.8,334.6L580.9,326.3L581.0,334.8L581.1,332.8L581.2,332.3L581.4,335.6L581.5,333.1L581.6,332.4L581.7,334.9L581.8,330.7L581.9,336.2L582.1,337.7L582.2,333.3L582.3,337.7L582.4,333.4L582.5,335.6L582.6,337.2L582.8,333.7L582.9,333.7L583.0,345.5L583.1,335.7L583.2,333.4L583.3,331.5L583.5,334.3L583.6,335.7L583.7,330.6L583.8,328.1L583.9,337.5L584.0,335.8L584.2,333.1L584.3,340.9L584.4,334.8L584.5,330.5L584.6,337.6L584.7,333.5L584.9,336.7L585.0,331.3L585.1,329.3L585.2,325.6L585.3,328.7L585.4,324.6L585.6,326.7L585.7,330.2L585.8,324.4L585.9,332.7L586.0,331.1L586.1,323.8L586.3,329.7L586.4,335.6L586.5,331.3L586.6,333.9L586.7,332.3L586.8,337.1L587.0,331.5L587.1,338.4L587.2,332.4L587.3,332.6L587.4,330.6L587.5,324.8L587.7,337.0L587.8,333.9L587.9,332.1L588.0,330.1L588.1,325.1L588.2,329.9L588.4,331.6L588.5,334.4L588.6,333.4L588.7,333.5L588.8,333.0L589.0,338.2L589.1,334.1L589.2,332.4L589.3,333.7L589.4,339.7L589.5,332.6L589.7,332.7L589.8,334.3L589.9,339.3L590.0,339.7L590.1,334.0L590.2,337.2L590.4,337.9L590.5,329.8L590.6,329.6L590.7,330.5L590.8,328.1L590.9,329.4L591.1,336.6L591.2,328.4L591.3,332.0L591.4,331.1L591.5,327.6L591.6,332.2L591.8,328.9L591.9,334.7L592.0,336.4L592.1,337.2L592.2,334.6L592.3,339.1L592.5,332.5L592.6,332.0L592.7,333.0L592.8,339.0L592.9,339.1L593.0,329.8L593.2,336.5L593.3,329.4L593.4,337.7L593.5,334.8L593.6,341.7L593.7,339.4L593.9,338.3L594.0,335.8L594.1,332.5L594.2,335.7L594.3,344.9L594.4,340.2L594.6,340.7L594.7,341.4L594.8,335.5L594.9,330.0L595.0,335.4L595.1,328.6L595.3,327.2L595.4,335.9L595.5,326.2L595.6,326.5L595.7,331.2L595.8,326.0L596.0,330.9L596.1,327.7L596.2,329.5L596.3,334.7L596.4,330.6L596.5,331.9L596.7,332.9L596.8,335.1L596.9,333.9L597.0,335.6L597.1,327.4L597.3,338.5L597.4,331.8L597.5,334.8L597.6,337.7L597.7,331.3L597.8,336.9L598.0,329.6L598.1,333.6L598.2,330.7L598.3,331.1L598.4,327.5L598.5,326.1L598.7,331.2L598.8,330.5L598.9,325.5L599.0,334.5L599.1,327.1L599.2,334.6L599.4,334.5L599.5,336.8L599.6,332.6L599.7,333.3L599.8,327.9L599.9,322.6L600.1,322.4L600.2,321.3L600.3,319.8L600.4,316.9L600.5,315.7L600.6,313.3L600.8,308.0L600.9,308.6L601.0,309.0L601.1,306.9L601.1,307.1L601.2,309.7L601.3,310.5L601.5,313.6L601.6,316.1L601.7,313.6L601.8,311.4L601.9,320.4L602.0,323.9L602.2,318.0L602.3,319.8L602.4,322.3L602.5,320.3L602.6,326.8L602.7,325.9L602.9,325.0L603.0,329.2L603.1,326.9L603.2,329.8L603.3,328.1L603.4,330.1L603.6,338.6L603.7,332.3L603.8,338.2L603.9,336.2L604.0,338.7L604.1,329.5L604.3,333.1L604.4,333.1L604.5,327.2L604.6,328.9L604.7,332.0L604.9,338.3L605.0,328.6L605.1,332.0L605.2,332.8L605.3,329.7L605.4,335.6L605.6,334.7L605.7,332.3L605.8,334.0L605.9,338.1L606.0,330.1L606.1,329.7L606.3,325.1L606.4,329.9L606.5,327.5L606.6,324.1L606.7,326.7L606.8,329.1L607.0,331.9L607.1,334.6L607.2,337.7L607.3,339.3L607.4,336.8L607.5,340.3L607.7,345.0L607.8,340.6L607.9,335.5L608.0,336.9L608.1,348.7L608.2,344.3L608.4,337.7L608.5,338.7L608.6,337.0L608.7,335.8L608.8,333.4L608.9,335.9L609.1,327.7L609.2,335.6L609.3,332.9L609.4,327.7L609.5,329.9L609.6,334.1L609.8,334.2L609.9,335.9L610.0,334.8L610.1,332.8L610.2,326.1L610.3,331.0L610.5,326.6L610.6,326.5L610.7,326.4L610.8,328.7L610.9,325.4L611.0,327.5L611.2,328.0L611.3,330.4L611.4,336.5L611.5,328.4L611.6,329.6L611.7,334.6L611.9,334.4L612.0,333.4L612.1,336.5L612.2,331.0L612.3,329.6L612.4,327.4L612.6,325.2L612.7,329.0L612.8,321.4L612.9,321.0L613.0,316.0L613.2,314.2L613.3,312.9L613.4,312.6L613.5,307.5L613.6,309.8L613.7,309.8L613.9,306.9L614.0,308.6L614.1,305.1L614.2,305.7L614.3,305.6L614.3,305.8L614.4,306.6L614.6,308.8L614.7,309.0L614.8,308.9L614.9,310.8L615.0,311.3L615.1,313.8L615.3,315.2L615.4,314.7L615.5,315.1L615.6,317.7L615.7,321.1L615.8,324.2L616.0,317.7L616.1,326.3L616.2,326.9L616.3,327.5L616.4,323.7L616.5,328.7L616.7,325.1L616.8,325.8L616.9,330.0L617.0,325.8L617.1,329.9L617.2,326.3L617.4,323.1L617.5,326.3L617.6,329.0L617.7,328.3L617.8,328.9L617.9,329.0L618.1,339.8L618.2,339.8L618.3,332.8L618.4,335.1L618.5,334.4L618.6,333.0L618.8,333.4L618.9,333.5L619.0,330.8L619.1,328.2L619.2,329.0L619.3,329.9L619.5,333.6L619.6,329.3L619.7,334.3L619.8,332.8L619.9,330.2L620.0,330.7L620.2,327.9L620.3,329.4L620.4,331.8L620.5,335.7L620.6,335.8L620.7,337.8L620.9,331.9L621.0,336.9L621.1,340.9L621.2,341.2L621.3,333.1L621.5,339.2L621.6,333.6L621.7,333.1L621.8,329.3L621.9,335.6L622.0,331.0L622.2,332.0L622.3,330.1L622.4,328.1L622.5,332.4L622.6,333.6L622.7,330.1L622.9,338.7L623.0,334.1L623.1,339.3L623.2,341.1L623.3,343.2L623.4,344.0L623.6,335.7L623.7,335.7L623.8,338.4L623.9,335.3L624.0,338.8L624.1,340.4L624.3,341.8L624.4,334.4L624.5,333.0L624.6,330.2L624.7,336.4L624.8,334.0L625.0,337.6L625.1,329.3L625.2,331.3L625.3,332.6L625.4,334.9L625.5,335.5L625.7,336.1L625.8,330.7L625.9,336.3L626.0,330.9L626.1,333.0L626.2,337.8L626.4,339.9L626.5,338.2L626.6,336.2L626.7,341.0L626.8,334.5L626.9,332.6L627.1,334.1L627.2,341.2L627.3,342.8L627.4,331.3L627.5,329.1L627.6,335.9L627.8,333.0L627.9,335.9L628.0,337.0L628.1,330.7L628.2,335.2L628.3,329.5L628.5,325.6L628.6,331.4L628.7,323.9L628.8,334.5L628.9,326.3L629.1,328.7L629.2,319.1L629.3,327.1L629.4,329.2L629.5,320.2L629.6,330.8L629.8,323.8L629.9,328.3L630.0,321.4L630.1,327.5L630.2,325.3L630.3,329.7L630.5,334.5L630.6,339.1L630.7,326.0L630.8,331.9L630.9,337.0L631.0,334.4L631.2,330.3L631.3,339.4L631.4,326.6L631.5,335.6L631.6,336.1L631.7,330.4L631.9,334.2L632.0,338.5L632.1,332.1L632.2,334.3L632.3,332.5L632.4,340.2L632.6,341.4L632.7,335.6L632.8,339.4L632.9,345.4L633.0,340.0L633.1,335.9L633.3,340.8L633.4,333.9L633.5,340.1L633.6,338.4L633.7,343.2L633.8,339.7L634.0,336.7L634.1,333.0L634.2,333.2L634.3,328.8L634.4,338.6L634.5,329.6L634.7,329.1L634.8,331.5L634.9,327.7L635.0,330.2L635.1,326.5L635.2,329.8L635.4,327.6L635.5,333.5L635.6,327.1L635.7,331.4L635.8,327.8L635.9,335.7L636.1,337.8L636.2,336.2L636.3,338.6L636.4,340.5L636.5,336.2L636.6,335.6L636.8,336.4L636.9,334.1L637.0,335.2L637.1,330.8L637.2,336.2L637.4,326.3L637.5,333.1L637.6,330.8L637.7,338.8L637.8,333.4L637.9,334.8L638.1,330.4L638.2,330.3L638.3,338.5L638.4,328.1L638.5,336.7L638.6,326.5L638.8,331.4L638.9,336.1L639.0,330.6L639.1,334.5L639.2,339.7L639.3,340.2L639.5,336.8L639.6,343.5L639.7,341.4L639.8,330.9L639.9,339.0L640.0,333.9L640.2,332.7L640.3,330.4L640.4,330.7L640.5,343.1L640.6,336.5L640.7,331.2L640.9,338.5L641.0,329.3L641.1,334.6L641.2,339.3L641.3,332.5L641.4,327.2L641.6,335.9L641.7,331.2L641.8,335.9L641.9,334.5L642.0,331.9L642.1,330.6L642.3,331.6L642.4,333.0L642.5,326.3L642.6,339.7L642.7,343.4L642.8,335.5L643.0,337.0L643.1,342.5L643.2,330.9L643.3,338.6L643.4,340.1L643.5,332.6L643.7,330.7L643.8,323.7L643.9,336.6L644.0,334.9L644.1,330.6L644.2,330.4L644.4,328.4L644.5,330.1L644.6,332.7L644.7,328.7L644.8,324.9L644.9,325.1L645.1,330.8L645.2,327.1L645.3,327.9L645.4,331.0L645.5,330.1L645.7,328.0L645.8,317.3L645.9,325.6L646.0,328.3L646.1,324.9L646.2,325.8L646.4,319.8L646.5,331.9L646.6,328.9L646.7,323.3L646.8,326.0L646.9,328.6L647.0,327.2L647.1,335.2L647.2,329.8L647.3,335.4L647.4,336.1L647.5,329.8L647.6,334.6L647.8,333.2L647.9,330.1L648.0,336.2L648.1,330.4L648.2,324.3L648.3,332.4L648.5,327.4L648.6,327.1L648.7,333.3L648.8,332.8L648.9,327.3L649.0,334.5L649.2,326.9L649.3,326.8L649.4,327.1L649.5,328.6L649.6,327.2L649.7,334.7L649.9,330.2L650.0,334.1L650.1,334.7L650.2,337.0L650.3,332.6L650.4,337.9L650.6,331.9L650.7,330.1L650.8,336.3L650.9,337.5L651.0,336.9L651.1,334.1L651.3,331.9L651.4,328.8L651.5,323.8L651.6,323.5L651.7,327.3L651.8,329.2L652.0,332.0L652.1,325.1L652.2,326.7L652.3,330.4L652.4,331.2L652.5,332.6L652.7,343.0L652.8,335.7L652.9,335.9L653.0,338.6L653.1,342.6L653.3,339.1L653.4,337.8L653.5,333.2L653.6,335.9L653.7,337.7L653.8,340.1L654.0,344.9L654.1,342.0L654.2,345.4L654.3,340.9L654.4,336.5L654.5,336.2L654.7,336.1L654.8,338.6L654.9,334.5L655.0,338.5L655.1,344.1L655.2,336.3L655.4,336.2L655.5,341.8L655.6,336.5L655.7,342.0L655.8,333.8L655.9,326.8L656.1,333.0L656.2,326.3L656.3,330.8L656.4,334.8L656.5,338.8L656.6,329.6L656.8,329.4L656.9,336.4L657.0,332.0L657.1,326.3L657.2,332.8L657.3,329.0L657.5,337.9L657.6,335.0L657.7,330.1L657.8,337.8L657.9,339.7L658.0,340.5L658.2,337.8L658.3,342.8L658.4,338.1L658.5,335.8L658.6,332.0L658.7,338.1L658.9,330.0L659.0,332.8L659.1,335.0L659.2,332.1L659.3,328.8L659.4,329.2L659.6,332.1L659.7,335.0L659.8,331.3L659.9,332.6L660.0,331.7L660.1,330.3L660.3,323.6L660.4,333.2L660.5,328.3L660.6,331.1L660.7,323.6L660.8,322.5L661.0,322.1L661.1,329.2L661.2,329.4L661.3,328.8L661.4,332.8L661.6,333.8L661.7,334.7L661.8,334.3L661.9,335.0L662.0,332.2L662.1,338.2L662.3,334.1L662.4,337.4L662.5,333.5L662.6,336.4L662.7,332.6L662.8,330.6L663.0,339.8L663.1,338.3L663.2,334.3L663.3,330.3L663.4,332.4L663.5,333.0L663.7,333.8L663.8,333.9L663.9,329.6L664.0,328.0L664.1,328.4L664.2,330.8L664.4,334.8L664.5,333.0L664.6,332.5L664.7,336.7L664.8,332.9L664.9,340.3L665.1,337.3L665.2,335.3L665.3,333.6L665.4,335.1L665.5,331.0L665.6,336.9L665.8,337.4L665.9,331.1L666.0,338.6L666.1,336.4L666.2,342.1L666.3,331.9L666.5,333.1L666.6,337.9L666.7,341.0L666.8,333.4L666.9,332.5L667.0,328.2L667.2,324.5L667.3,329.1L667.4,329.9L667.5,329.8L667.6,330.2L667.7,334.4L667.9,333.3L668.0,331.0"/>
</g>
<g font-family="Liberation Sans, sans-serif" text-rendering="geometricPrecision" font-size="15.8" fill="#000"><text transform="translate(63.0,462.90) scale(1.042,1)" text-anchor="end">0</text><text transform="translate(63.0,419.10) scale(1.042,1)" text-anchor="end">200</text><text transform="translate(63.0,375.30) scale(1.042,1)" text-anchor="end">400</text><text transform="translate(63.0,331.50) scale(1.042,1)" text-anchor="end">600</text><text transform="translate(63.0,287.70) scale(1.042,1)" text-anchor="end">800</text><text transform="translate(63.0,243.90) scale(1.042,1)" text-anchor="end">1000</text><text transform="translate(63.0,200.10) scale(1.042,1)" text-anchor="end">1200</text><text transform="translate(63.0,156.30) scale(1.042,1)" text-anchor="end">1400</text><text transform="translate(63.0,112.50) scale(1.042,1)" text-anchor="end">1600</text><text transform="translate(63.0,68.70) scale(1.042,1)" text-anchor="end">1800</text><text transform="translate(63.0,24.90) scale(1.042,1)" text-anchor="end">2000</text><text transform="translate(79.30,482.1) scale(1.03,1)" text-anchor="middle">4</text><text transform="translate(168.54,482.1) scale(1.03,1)" text-anchor="middle">14</text><text transform="translate(257.78,482.1) scale(1.03,1)" text-anchor="middle">24</text><text transform="translate(347.03,482.1) scale(1.03,1)" text-anchor="middle">34</text><text transform="translate(436.27,482.1) scale(1.03,1)" text-anchor="middle">44</text><text transform="translate(525.51,482.1) scale(1.03,1)" text-anchor="middle">54</text><text transform="translate(614.75,482.1) scale(1.03,1)" text-anchor="middle">64</text></g>
<text transform="translate(373.75,502.7) scale(0.979,1)" text-anchor="middle" font-family="Liberation Sans, sans-serif" text-rendering="geometricPrecision" font-weight="bold" font-size="15.6" fill="#000">Position [°2 Theta] (Copper (Cu))</text>
<text transform="translate(17.9,235.9) rotate(-90) scale(0.94,1)" text-anchor="middle" font-family="Liberation Sans, sans-serif" text-rendering="geometricPrecision" font-weight="bold" font-size="15.1" fill="#000">Counts</text>
<rect x="375.8" y="22.3" width="284.7" height="40.4" fill="none" stroke="#000" stroke-width="2.1"/>
<line x1="379.5" y1="33.2" x2="407.3" y2="33.2" stroke="#ED7D31" stroke-width="2.4" stroke-linecap="round"/>
<line x1="379.5" y1="53.7" x2="407.3" y2="53.7" stroke="#7030A0" stroke-width="2.4" stroke-linecap="round"/>
<g font-family="Liberation Sans, sans-serif" text-rendering="geometricPrecision" font-size="14.7" fill="#000">
<text transform="translate(410.6,37.8) scale(1.05,1)">Raw RM</text>
<text transform="translate(410.95,58.0) scale(1.034,1)">Exp 3 (DIW + CO₂ + 100g RM) Solid</text>
</g>
</svg></body></html>
